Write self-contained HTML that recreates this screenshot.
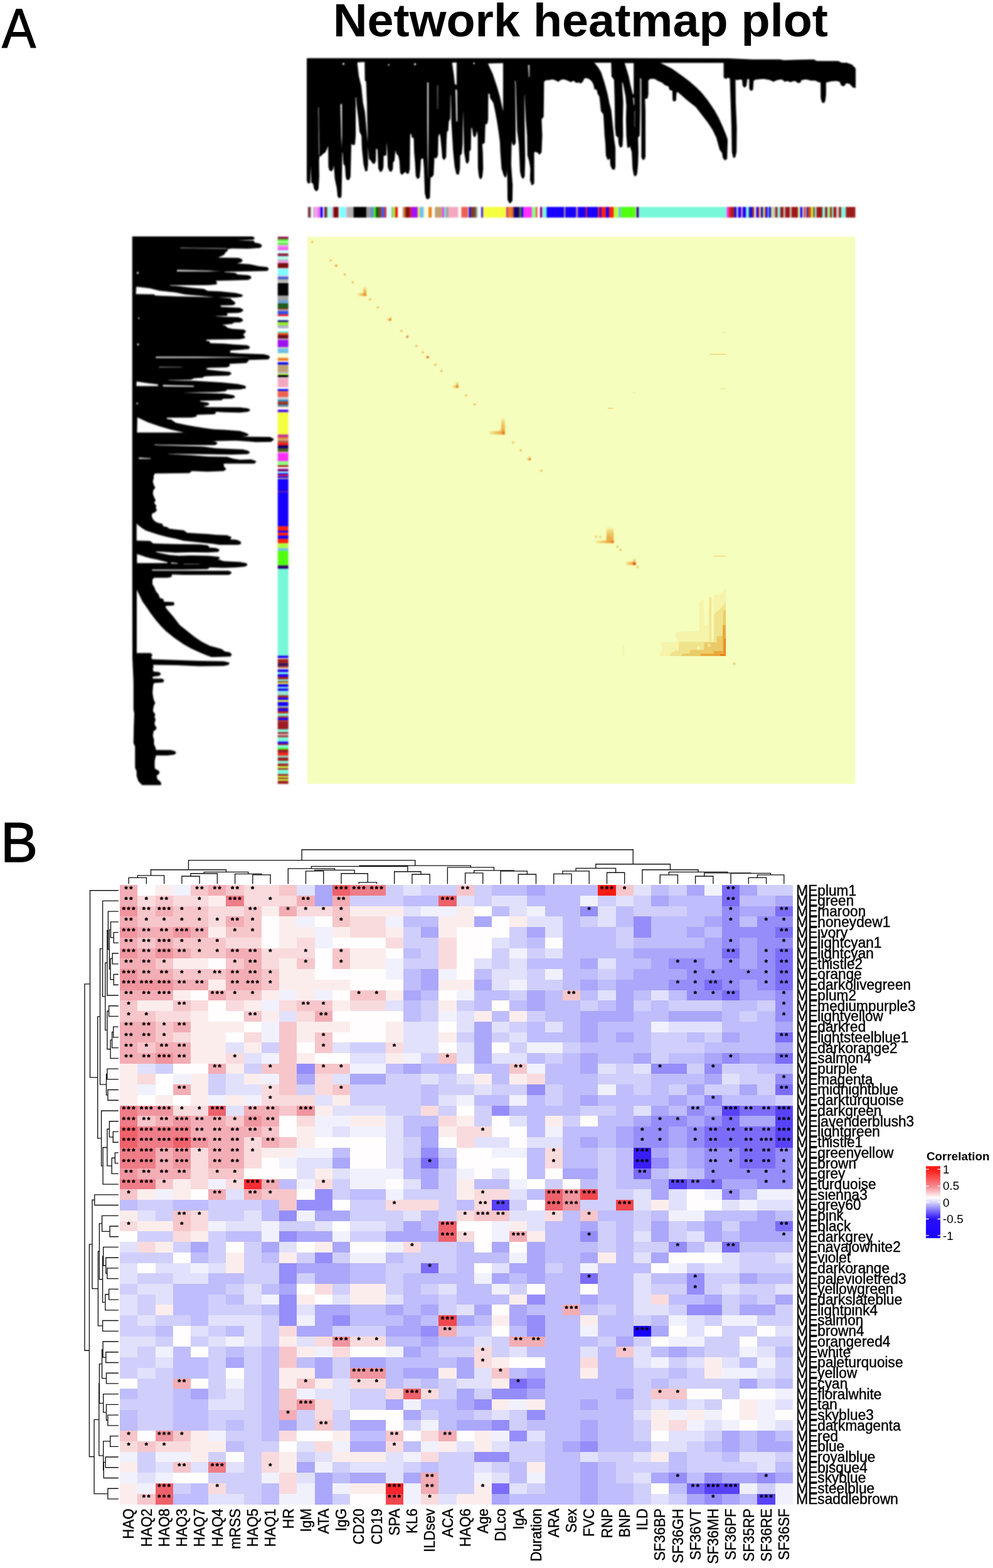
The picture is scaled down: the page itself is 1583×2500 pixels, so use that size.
<!DOCTYPE html>
<html lang="en"><head><meta charset="utf-8"><title>Network heatmap plot</title>
<style>
html,body{margin:0;padding:0;background:#fff;}
body{width:1583px;height:2500px;overflow:hidden;font-family:'Liberation Sans', sans-serif;}
svg{display:block;}
#fig{width:1583px;height:2500px;}
.soft{filter:blur(0.8px);}
</style></head><body>
<div id="fig">
<svg width="1583" height="2500" viewBox="0 0 1583 2500">
<rect width="1583" height="2500" fill="#fff"/>
<g id="panelA">
<text transform="translate(2.9 75.6) scale(0.92 1)" font-size="88.5" stroke="#000" stroke-width="1.2" stroke-linejoin="round" font-family="'Liberation Sans', sans-serif">A</text>
<text x="531" y="57.6" font-size="73.5" font-weight="bold" textLength="789" lengthAdjust="spacingAndGlyphs" font-family="'Liberation Sans', sans-serif">Network heatmap plot</text>
<g class="soft">
<g id="dendTop"><path d="M489.8,93.5 L489.8,288.3 L491.8,292.2 L493.8,290.9 L495.1,259.4 L496.4,259.4 L497.0,290.9 L499.7,292.2 L501.6,301.4 L504.3,304.3 L506.9,301.4 L508.2,281.7 L507.8,255.5 L509.1,247.0 L511.5,248.3 L514.1,245.0 L518.0,242.4 L520.7,237.1 L522.0,232.5 L523.9,233.2 L524.3,266.0 L525.9,271.2 L528.5,272.3 L530.5,268.6 L531.4,263.4 L533.1,263.4 L534.4,284.3 L537.7,300.1 L539.0,313.2 L541.4,315.2 L543.6,313.2 L544.3,281.7 L544.9,242.4 L547.1,242.4 L548.2,260.7 L550.8,264.7 L551.9,281.7 L553.4,286.3 L556.1,286.3 L558.0,281.7 L558.7,255.5 L559.3,229.3 L560.7,228.0 L562.6,230.6 L565.2,229.9 L566.3,216.1 L566.2,154.5 L568.5,153.2 L569.2,166.3 L571.8,187.3 L573.8,209.6 L577.0,216.1 L577.7,235.8 L580.3,262.0 L583.0,272.5 L584.9,271.9 L586.0,262.0 L585.7,229.3 L586.9,227.3 L588.9,252.9 L591.5,255.5 L594.1,259.4 L596.5,260.7 L598.3,256.8 L598.7,235.8 L600.0,235.8 L602.6,238.4 L603.9,268.6 L606.6,273.6 L609.2,271.2 L610.5,266.0 L610.9,246.3 L612.5,247.6 L615.1,247.0 L615.7,229.3 L616.4,224.0 L617.7,229.3 L619.0,266.0 L621.0,271.9 L623.6,273.2 L625.6,268.6 L625.8,259.4 L628.2,255.5 L629.5,239.8 L630.8,238.4 L632.8,245.0 L635.4,247.6 L637.4,255.5 L638.7,275.2 L640.7,277.8 L643.9,275.2 L646.6,272.5 L649.2,276.5 L651.1,275.8 L652.5,268.6 L653.1,216.1 L653.8,212.2 L656.4,212.9 L657.0,218.1 L660.3,220.1 L661.0,242.4 L662.3,258.1 L663.6,280.4 L665.6,284.3 L668.2,283.0 L669.5,268.6 L670.2,254.2 L672.1,251.6 L675.4,252.2 L676.7,268.6 L678.0,308.0 L680.0,315.8 L681.7,317.1 L684.6,315.1 L685.6,280.7 L687.6,282.2 L690.5,278.7 L691.5,257.1 L692.1,241.3 L693.5,251.2 L695.4,251.6 L697.4,247.2 L698.0,217.7 L700.0,210.9 L702.6,216.1 L704.6,235.8 L705.9,251.6 L708.1,254.2 L710.5,250.2 L711.1,222.7 L711.8,209.6 L713.8,208.3 L714.7,193.9 L717.0,188.6 L717.7,150.6 L719.7,150.6 L720.3,193.9 L723.0,239.8 L725.6,266.0 L728.2,277.1 L730.8,277.8 L732.5,268.6 L732.8,247.6 L735.4,245.0 L736.7,229.3 L737.4,176.8 L739.1,176.8 L740.7,242.4 L743.3,258.1 L745.2,260.1 L747.2,255.5 L747.5,241.1 L749.8,238.4 L750.5,203.0 L753.1,203.0 L755.1,216.1 L756.7,218.1 L758.4,214.8 L759.0,209.6 L761.0,208.3 L762.3,216.1 L762.7,268.6 L764.3,281.7 L766.2,285.0 L768.2,281.7 L769.5,268.6 L768.9,242.4 L767.9,228.0 L770.8,228.6 L772.1,226.6 L772.8,203.0 L773.4,196.5 L776.1,197.1 L777.4,189.9 L777.6,148.0 L781.3,149.3 L782.0,155.8 L787.2,163.7 L790.5,179.4 L793.1,193.9 L795.7,210.9 L797.7,226.6 L798.4,242.4 L800.3,268.6 L803.6,279.1 L805.6,282.4 L806.9,279.1 L807.8,255.5 L809.5,281.7 L809.9,318.4 L812.8,323.7 L816.1,319.8 L816.5,294.8 L815.4,281.7 L814.1,262.0 L814.8,229.3 L816.7,216.1 L817.4,229.3 L819.3,231.2 L821.3,228.0 L821.3,203.0 L820.7,137.5 L820.0,128.3 L822.6,128.3 L823.3,137.5 L824.6,189.9 L825.2,208.3 L827.9,229.3 L829.8,273.9 L831.8,281.7 L833.8,284.3 L835.7,281.1 L836.4,255.5 L835.7,203.0 L835.1,150.6 L837.0,150.6 L839.0,189.9 L841.0,216.1 L841.6,247.6 L844.3,256.8 L846.2,268.6 L845.6,287.0 L848.2,294.8 L850.8,292.2 L850.8,242.4 L852.1,241.1 L857.4,242.4 L860.0,245.7 L862.6,242.4 L863.7,216.1 L862.6,189.9 L865.9,186.0 L866.6,129.6 L870.5,127.0 L875.7,127.0 L880.0,125.7 L885.2,127.0 L889.8,129.6 L894.4,126.3 L899.7,125.7 L906.2,128.3 L910.2,130.2 L914.1,127.6 L919.3,131.6 L922.0,130.2 L925.9,132.2 L928.5,129.6 L931.1,124.3 L935.1,123.7 L940.3,125.7 L944.3,129.6 L946.9,134.8 L948.2,141.4 L952.1,142.7 L953.4,149.3 L956.1,153.2 L957.4,163.7 L958.7,176.8 L962.6,182.0 L963.9,203.0 L964.6,216.1 L965.9,229.3 L966.6,247.6 L969.2,254.2 L971.8,251.6 L973.1,252.9 L973.8,263.4 L976.4,269.3 L979.0,269.9 L980.3,266.0 L980.3,235.8 L978.4,222.7 L977.0,208.3 L975.1,189.9 L973.8,176.8 L970.5,163.7 L967.9,150.6 L965.2,140.1 L962.6,130.9 L960.0,123.0 L957.4,115.2 L953.4,108.6 L948.2,102.0 L944.5,99.2 L975.1,99.2 L975.7,121.7 L979.7,127.0 L980.7,163.7 L981.2,203.0 L982.6,216.1 L986.2,218.8 L986.9,229.3 L988.9,234.5 L991.5,233.2 L992.5,216.1 L992.1,189.9 L992.8,163.7 L991.5,144.0 L990.8,130.9 L993.4,130.9 L995.4,140.1 L998.0,153.2 L999.3,168.9 L998.7,189.9 L999.3,216.1 L1000.7,234.5 L1003.3,234.5 L1003.9,224.0 L1005.9,235.8 L1007.9,242.4 L1009.2,268.6 L1011.1,279.1 L1013.1,280.4 L1015.1,276.5 L1016.4,260.7 L1017.0,242.4 L1016.4,218.8 L1019.0,216.1 L1019.7,176.8 L1019.7,124.3 L1023.0,124.3 L1023.2,176.8 L1023.2,250.2 L1024.9,254.2 L1026.9,253.5 L1028.2,250.2 L1028.2,176.8 L1027.5,156.5 L1031.5,156.5 L1032.8,150.6 L1032.8,128.3 L1036.1,125.0 L1043.9,125.0 L1049.2,128.3 L1055.7,130.9 L1060.0,134.8 L1066.6,137.5 L1067.9,142.7 L1072.5,144.0 L1073.1,159.8 L1075.1,161.1 L1077.0,159.8 L1077.7,148.0 L1079.7,145.3 L1086.2,150.6 L1096.7,159.8 L1109.8,170.2 L1119.0,182.0 L1128.2,193.9 L1136.1,205.7 L1142.6,218.8 L1147.9,238.4 L1151.8,243.7 L1153.1,251.6 L1155.7,254.8 L1158.4,252.9 L1159.3,222.7 L1157.0,216.1 L1151.8,203.0 L1145.2,188.6 L1138.7,176.8 L1128.2,161.1 L1117.7,148.0 L1109.8,140.1 L1099.3,130.9 L1088.9,123.0 L1079.7,116.5 L1070.5,109.9 L1060.0,104.7 L1053.4,101.4 L1048.9,99.2 L1154.4,99.4 L1154.4,123.0 L1157.0,125.0 L1159.7,123.0 L1163.6,124.3 L1164.3,125.7 L1165.6,163.7 L1166.9,203.0 L1167.5,242.4 L1169.5,250.9 L1171.5,250.2 L1173.4,242.4 L1173.8,203.0 L1172.1,163.7 L1171.7,125.7 L1175.4,127.0 L1179.3,125.7 L1183.9,127.0 L1184.6,136.1 L1186.6,138.8 L1189.2,136.8 L1190.5,125.7 L1195.1,125.0 L1195.3,141.4 L1197.0,144.0 L1199.7,142.7 L1200.6,128.3 L1204.3,126.3 L1217.4,125.0 L1227.9,127.0 L1233.1,129.6 L1238.4,127.0 L1246.2,125.7 L1251.5,129.6 L1255.4,128.3 L1260.0,130.2 L1263.0,128.9 L1268.2,128.3 L1272.1,131.6 L1275.4,130.9 L1277.4,127.0 L1285.2,125.7 L1291.8,127.6 L1299.7,127.6 L1304.9,130.2 L1308.9,130.9 L1309.1,155.8 L1310.8,162.4 L1312.8,163.7 L1314.8,161.1 L1316.1,150.6 L1316.1,130.9 L1324.6,128.9 L1333.8,128.3 L1339.0,129.6 L1341.6,135.5 L1344.3,136.8 L1346.9,134.8 L1348.2,131.6 L1354.8,132.9 L1360.0,138.8 L1363.3,139.4 L1363.3,109.3 L1357.4,103.4 L1349.5,100.7 L1341.6,100.7 L1336.4,98.1 L1302.3,98.1 L1297.0,95.5 L1270.8,96.1 L1249.8,96.8 L1243.3,95.5 L1200.0,95.5 L1160.7,93.7Z" fill="#000" stroke="#000" stroke-width="1.6" stroke-linejoin="round"/><path d="M569.2,99.2 L581.6,98.5 L582.0,128.3 L583.9,130.2 L585.2,163.7 L586.5,226.6 L585.6,224.0 L583.6,203.0 L581.6,179.4 L578.4,163.7 L575.7,137.5 L571.8,121.7 L569.8,104.7ZM507.0,171.6 L508.3,170.9 L509.4,247.0 L508.1,247.6ZM542.4,166.3 L545.3,165.0 L545.6,216.1 L544.8,241.1 L543.6,216.1ZM720.3,99.7 L728.2,99.2 L728.2,135.5 L724.9,134.8 L723.0,117.8ZM725.8,142.7 L728.9,142.7 L729.4,193.9 L727.1,193.9ZM777.4,101.0 L802.3,100.3 L802.3,176.8 L804.3,182.7 L801.0,174.2 L797.0,155.8 L791.8,137.5 L785.2,117.8ZM841.6,103.4 L844.3,103.4 L844.3,123.0 L842.7,123.0ZM995.4,100.3 L1010.5,100.3 L1010.5,150.6 L1008.5,150.6 L1007.9,148.0 L1004.6,134.8 L1002.0,121.7 L998.0,108.6ZM1008.8,155.8 L1011.1,155.8 L1011.5,168.9 L1009.8,166.3ZM1011.1,176.8 L1012.2,176.8 L1012.2,203.0 L1011.3,203.0ZM680.9,131.0 L683.4,131.0 L683.3,200.0 L683.0,250.0 L682.6,284.0 L682.0,284.0 L681.3,250.0 L680.9,200.0ZM697.0,136.0 L698.3,136.0 L698.2,174.0 L697.2,174.0Z" fill="#fff" stroke="#000" stroke-width="0.6" stroke-linejoin="round"/><circle cx="547.5" cy="101.8" r="1.6" fill="#fff"/><circle cx="661.6" cy="102.3" r="1.6" fill="#fff"/><circle cx="619.7" cy="103.4" r="1.2" fill="#fff"/><circle cx="755.7" cy="101.0" r="1.3" fill="#fff"/></g>
<g id="dendLeft" transform="matrix(0 1 0.975 0 120.34 -112.40)"><path d="M489.8,93.5 L489.8,288.3 L491.8,292.2 L493.8,290.9 L495.1,259.4 L496.4,259.4 L497.0,290.9 L499.7,292.2 L501.6,301.4 L504.3,304.3 L506.9,301.4 L508.2,281.7 L507.8,255.5 L509.1,247.0 L511.5,248.3 L514.1,245.0 L518.0,242.4 L520.7,237.1 L522.0,232.5 L523.9,233.2 L524.3,266.0 L525.9,271.2 L528.5,272.3 L530.5,268.6 L531.4,263.4 L533.1,263.4 L534.4,284.3 L537.7,300.1 L539.0,313.2 L541.4,315.2 L543.6,313.2 L544.3,281.7 L544.9,242.4 L547.1,242.4 L548.2,260.7 L550.8,264.7 L551.9,281.7 L553.4,286.3 L556.1,286.3 L558.0,281.7 L558.7,255.5 L559.3,229.3 L560.7,228.0 L562.6,230.6 L565.2,229.9 L566.3,216.1 L566.2,154.5 L568.5,153.2 L569.2,166.3 L571.8,187.3 L573.8,209.6 L577.0,216.1 L577.7,235.8 L580.3,262.0 L583.0,272.5 L584.9,271.9 L586.0,262.0 L585.7,229.3 L586.9,227.3 L588.9,252.9 L591.5,255.5 L594.1,259.4 L596.5,260.7 L598.3,256.8 L598.7,235.8 L600.0,235.8 L602.6,238.4 L603.9,268.6 L606.6,273.6 L609.2,271.2 L610.5,266.0 L610.9,246.3 L612.5,247.6 L615.1,247.0 L615.7,229.3 L616.4,224.0 L617.7,229.3 L619.0,266.0 L621.0,271.9 L623.6,273.2 L625.6,268.6 L625.8,259.4 L628.2,255.5 L629.5,239.8 L630.8,238.4 L632.8,245.0 L635.4,247.6 L637.4,255.5 L638.7,275.2 L640.7,277.8 L643.9,275.2 L646.6,272.5 L649.2,276.5 L651.1,275.8 L652.5,268.6 L653.1,216.1 L653.8,212.2 L656.4,212.9 L657.0,218.1 L660.3,220.1 L661.0,242.4 L662.3,258.1 L663.6,280.4 L665.6,284.3 L668.2,283.0 L669.5,268.6 L670.2,254.2 L672.1,251.6 L675.4,252.2 L676.7,268.6 L678.0,308.0 L680.0,315.8 L681.7,317.1 L684.6,315.1 L685.6,280.7 L687.6,282.2 L690.5,278.7 L691.5,257.1 L692.1,241.3 L693.5,251.2 L695.4,251.6 L697.4,247.2 L698.0,217.7 L700.0,210.9 L702.6,216.1 L704.6,235.8 L705.9,251.6 L708.1,254.2 L710.5,250.2 L711.1,222.7 L711.8,209.6 L713.8,208.3 L714.7,193.9 L717.0,188.6 L717.7,150.6 L719.7,150.6 L720.3,193.9 L723.0,239.8 L725.6,266.0 L728.2,277.1 L730.8,277.8 L732.5,268.6 L732.8,247.6 L735.4,245.0 L736.7,229.3 L737.4,176.8 L739.1,176.8 L740.7,242.4 L743.3,258.1 L745.2,260.1 L747.2,255.5 L747.5,241.1 L749.8,238.4 L750.5,203.0 L753.1,203.0 L755.1,216.1 L756.7,218.1 L758.4,214.8 L759.0,209.6 L761.0,208.3 L762.3,216.1 L762.7,268.6 L764.3,281.7 L766.2,285.0 L768.2,281.7 L769.5,268.6 L768.9,242.4 L767.9,228.0 L770.8,228.6 L772.1,226.6 L772.8,203.0 L773.4,196.5 L776.1,197.1 L777.4,189.9 L777.6,148.0 L781.3,149.3 L782.0,155.8 L787.2,163.7 L790.5,179.4 L793.1,193.9 L795.7,210.9 L797.7,226.6 L798.4,242.4 L800.3,268.6 L803.6,279.1 L805.6,282.4 L806.9,279.1 L807.8,255.5 L809.5,281.7 L809.9,318.4 L812.8,323.7 L816.1,319.8 L816.5,294.8 L815.4,281.7 L814.1,262.0 L814.8,229.3 L816.7,216.1 L817.4,229.3 L819.3,231.2 L821.3,228.0 L821.3,203.0 L820.7,137.5 L820.0,128.3 L822.6,128.3 L823.3,137.5 L824.6,189.9 L825.2,208.3 L827.9,229.3 L829.8,273.9 L831.8,281.7 L833.8,284.3 L835.7,281.1 L836.4,255.5 L835.7,203.0 L835.1,150.6 L837.0,150.6 L839.0,189.9 L841.0,216.1 L841.6,247.6 L844.3,256.8 L846.2,268.6 L845.6,287.0 L848.2,294.8 L850.8,292.2 L850.8,242.4 L852.1,241.1 L857.4,242.4 L860.0,245.7 L862.6,242.4 L863.7,216.1 L862.6,189.9 L865.9,186.0 L866.6,129.6 L870.5,127.0 L875.7,127.0 L880.0,125.7 L885.2,127.0 L889.8,129.6 L894.4,126.3 L899.7,125.7 L906.2,128.3 L910.2,130.2 L914.1,127.6 L919.3,131.6 L922.0,130.2 L925.9,132.2 L928.5,129.6 L931.1,124.3 L935.1,123.7 L940.3,125.7 L944.3,129.6 L946.9,134.8 L948.2,141.4 L952.1,142.7 L953.4,149.3 L956.1,153.2 L957.4,163.7 L958.7,176.8 L962.6,182.0 L963.9,203.0 L964.6,216.1 L965.9,229.3 L966.6,247.6 L969.2,254.2 L971.8,251.6 L973.1,252.9 L973.8,263.4 L976.4,269.3 L979.0,269.9 L980.3,266.0 L980.3,235.8 L978.4,222.7 L977.0,208.3 L975.1,189.9 L973.8,176.8 L970.5,163.7 L967.9,150.6 L965.2,140.1 L962.6,130.9 L960.0,123.0 L957.4,115.2 L953.4,108.6 L948.2,102.0 L944.5,99.2 L975.1,99.2 L975.7,121.7 L979.7,127.0 L980.7,163.7 L981.2,203.0 L982.6,216.1 L986.2,218.8 L986.9,229.3 L988.9,234.5 L991.5,233.2 L992.5,216.1 L992.1,189.9 L992.8,163.7 L991.5,144.0 L990.8,130.9 L993.4,130.9 L995.4,140.1 L998.0,153.2 L999.3,168.9 L998.7,189.9 L999.3,216.1 L1000.7,234.5 L1003.3,234.5 L1003.9,224.0 L1005.9,235.8 L1007.9,242.4 L1009.2,268.6 L1011.1,279.1 L1013.1,280.4 L1015.1,276.5 L1016.4,260.7 L1017.0,242.4 L1016.4,218.8 L1019.0,216.1 L1019.7,176.8 L1019.7,124.3 L1023.0,124.3 L1023.2,176.8 L1023.2,250.2 L1024.9,254.2 L1026.9,253.5 L1028.2,250.2 L1028.2,176.8 L1027.5,156.5 L1031.5,156.5 L1032.8,150.6 L1032.8,128.3 L1036.1,125.0 L1043.9,125.0 L1049.2,128.3 L1055.7,130.9 L1060.0,134.8 L1066.6,137.5 L1067.9,142.7 L1072.5,144.0 L1073.1,159.8 L1075.1,161.1 L1077.0,159.8 L1077.7,148.0 L1079.7,145.3 L1086.2,150.6 L1096.7,159.8 L1109.8,170.2 L1119.0,182.0 L1128.2,193.9 L1136.1,205.7 L1142.6,218.8 L1147.9,238.4 L1151.8,243.7 L1153.1,251.6 L1155.7,254.8 L1158.4,252.9 L1159.3,222.7 L1157.0,216.1 L1151.8,203.0 L1145.2,188.6 L1138.7,176.8 L1128.2,161.1 L1117.7,148.0 L1109.8,140.1 L1099.3,130.9 L1088.9,123.0 L1079.7,116.5 L1070.5,109.9 L1060.0,104.7 L1053.4,101.4 L1048.9,99.2 L1154.4,99.4 L1154.4,123.0 L1157.0,125.0 L1159.7,123.0 L1163.6,124.3 L1164.3,125.7 L1165.6,163.7 L1166.9,203.0 L1167.5,242.4 L1169.5,250.9 L1171.5,250.2 L1173.4,242.4 L1173.8,203.0 L1172.1,163.7 L1171.7,125.7 L1175.4,127.0 L1179.3,125.7 L1183.9,127.0 L1184.6,136.1 L1186.6,138.8 L1189.2,136.8 L1190.5,125.7 L1195.1,125.0 L1195.3,141.4 L1197.0,144.0 L1199.7,142.7 L1200.6,128.3 L1204.3,126.3 L1217.4,125.0 L1227.9,127.0 L1233.1,129.6 L1238.4,127.0 L1246.2,125.7 L1251.5,129.6 L1255.4,128.3 L1260.0,130.2 L1263.0,128.9 L1268.2,128.3 L1272.1,131.6 L1275.4,130.9 L1277.4,127.0 L1285.2,125.7 L1291.8,127.6 L1299.7,127.6 L1304.9,130.2 L1308.9,130.9 L1309.1,155.8 L1310.8,162.4 L1312.8,163.7 L1314.8,161.1 L1316.1,150.6 L1316.1,130.9 L1324.6,128.9 L1333.8,128.3 L1339.0,129.6 L1341.6,135.5 L1344.3,136.8 L1346.9,134.8 L1348.2,131.6 L1354.8,132.9 L1360.0,138.8 L1363.3,139.4 L1363.3,109.3 L1357.4,103.4 L1349.5,100.7 L1341.6,100.7 L1336.4,98.1 L1302.3,98.1 L1297.0,95.5 L1270.8,96.1 L1249.8,96.8 L1243.3,95.5 L1200.0,95.5 L1160.7,93.7Z" fill="#000" stroke="#000" stroke-width="1.6" stroke-linejoin="round"/><path d="M569.2,99.2 L581.6,98.5 L582.0,128.3 L583.9,130.2 L585.2,163.7 L586.5,226.6 L585.6,224.0 L583.6,203.0 L581.6,179.4 L578.4,163.7 L575.7,137.5 L571.8,121.7 L569.8,104.7ZM507.0,171.6 L508.3,170.9 L509.4,247.0 L508.1,247.6ZM542.4,166.3 L545.3,165.0 L545.6,216.1 L544.8,241.1 L543.6,216.1ZM720.3,99.7 L728.2,99.2 L728.2,135.5 L724.9,134.8 L723.0,117.8ZM725.8,142.7 L728.9,142.7 L729.4,193.9 L727.1,193.9ZM777.4,101.0 L802.3,100.3 L802.3,176.8 L804.3,182.7 L801.0,174.2 L797.0,155.8 L791.8,137.5 L785.2,117.8ZM841.6,103.4 L844.3,103.4 L844.3,123.0 L842.7,123.0ZM995.4,100.3 L1010.5,100.3 L1010.5,150.6 L1008.5,150.6 L1007.9,148.0 L1004.6,134.8 L1002.0,121.7 L998.0,108.6ZM1008.8,155.8 L1011.1,155.8 L1011.5,168.9 L1009.8,166.3ZM1011.1,176.8 L1012.2,176.8 L1012.2,203.0 L1011.3,203.0ZM680.9,131.0 L683.4,131.0 L683.3,200.0 L683.0,250.0 L682.6,284.0 L682.0,284.0 L681.3,250.0 L680.9,200.0ZM697.0,136.0 L698.3,136.0 L698.2,174.0 L697.2,174.0Z" fill="#fff" stroke="#000" stroke-width="0.6" stroke-linejoin="round"/><circle cx="547.5" cy="101.8" r="1.6" fill="#fff"/><circle cx="661.6" cy="102.3" r="1.6" fill="#fff"/><circle cx="619.7" cy="103.4" r="1.2" fill="#fff"/><circle cx="755.7" cy="101.0" r="1.3" fill="#fff"/></g>
<g id="cbarTop"><rect x="490.82" y="329.9" width="5.01" height="17" fill="#7d3c50"/><rect x="495.58" y="329.9" width="4.14" height="17" fill="#f0fff0"/><rect x="499.47" y="329.9" width="2.41" height="17" fill="#c8a0c8"/><rect x="501.64" y="329.9" width="5.30" height="17" fill="#f0a0f0"/><rect x="506.69" y="329.9" width="4.58" height="17" fill="#ee66ee"/><rect x="511.02" y="329.9" width="3.57" height="17" fill="#0000ff"/><rect x="516.79" y="329.9" width="3.86" height="17" fill="#8b1c3c"/><rect x="520.39" y="329.9" width="1.69" height="17" fill="#3a6a4a"/><rect x="521.83" y="329.9" width="7.46" height="17" fill="#b0fff0"/><rect x="529.05" y="329.9" width="2.85" height="17" fill="#e0b0e0"/><rect x="531.64" y="329.9" width="8.04" height="17" fill="#7a0c0c"/><rect x="541.31" y="329.9" width="11.07" height="17" fill="#80ffff"/><rect x="552.13" y="329.9" width="2.41" height="17" fill="#f0a0c0"/><rect x="554.29" y="329.9" width="9.63" height="17" fill="#b0b0b0"/><rect x="563.67" y="329.9" width="20.45" height="17" fill="#000000"/><rect x="583.87" y="329.9" width="7.46" height="17" fill="#999999"/><rect x="591.08" y="329.9" width="5.30" height="17" fill="#6090d8"/><rect x="596.13" y="329.9" width="3.14" height="17" fill="#40ff00"/><rect x="599.01" y="329.9" width="5.30" height="17" fill="#1a5c1a"/><rect x="604.06" y="329.9" width="4.58" height="17" fill="#8b3a20"/><rect x="608.39" y="329.9" width="5.30" height="17" fill="#3a5af0"/><rect x="613.44" y="329.9" width="2.70" height="17" fill="#ff1010"/><rect x="615.89" y="329.9" width="8.62" height="17" fill="#e0ffff"/><rect x="624.26" y="329.9" width="2.41" height="17" fill="#a0a0a0"/><rect x="626.42" y="329.9" width="3.86" height="17" fill="#90ff20"/><rect x="630.03" y="329.9" width="4.29" height="17" fill="#ff1010"/><rect x="634.07" y="329.9" width="1.98" height="17" fill="#e0ffff"/><rect x="641.57" y="329.9" width="1.69" height="17" fill="#a0c0e0"/><rect x="643.01" y="329.9" width="3.42" height="17" fill="#f07010"/><rect x="646.19" y="329.9" width="7.17" height="17" fill="#701818"/><rect x="653.11" y="329.9" width="2.85" height="17" fill="#ff1010"/><rect x="655.71" y="329.9" width="10.35" height="17" fill="#a010ff"/><rect x="665.80" y="329.9" width="3.42" height="17" fill="#f0f040"/><rect x="668.98" y="329.9" width="6.74" height="17" fill="#70c0f0"/><rect x="675.47" y="329.9" width="5.30" height="17" fill="#f8ffd8"/><rect x="683.12" y="329.9" width="5.15" height="17" fill="#f08010"/><rect x="693.21" y="329.9" width="7.04" height="17" fill="#c0a070"/><rect x="700.00" y="329.9" width="4.58" height="17" fill="#c0a070"/><rect x="704.33" y="329.9" width="0.97" height="17" fill="#90c060"/><rect x="705.05" y="329.9" width="3.14" height="17" fill="#ff30ff"/><rect x="707.93" y="329.9" width="3.14" height="17" fill="#70f0e0"/><rect x="710.82" y="329.9" width="4.58" height="17" fill="#b0a0a0"/><rect x="715.15" y="329.9" width="15.40" height="17" fill="#f4a8c0"/><rect x="735.34" y="329.9" width="11.07" height="17" fill="#f06050"/><rect x="746.16" y="329.9" width="1.69" height="17" fill="#e0c0e0"/><rect x="747.61" y="329.9" width="3.14" height="17" fill="#0000ff"/><rect x="750.49" y="329.9" width="7.46" height="17" fill="#8b3a10"/><rect x="757.70" y="329.9" width="2.41" height="17" fill="#3080c0"/><rect x="759.87" y="329.9" width="2.70" height="17" fill="#f0d0a0"/><rect x="762.32" y="329.9" width="5.01" height="17" fill="#f0ffff"/><rect x="767.08" y="329.9" width="3.14" height="17" fill="#4010f0"/><rect x="769.97" y="329.9" width="37.32" height="17" fill="#f4ff40"/><rect x="807.04" y="329.9" width="2.85" height="17" fill="#c030a0"/><rect x="809.64" y="329.9" width="6.02" height="17" fill="#f08020"/><rect x="815.41" y="329.9" width="3.86" height="17" fill="#d06030"/><rect x="819.01" y="329.9" width="8.91" height="17" fill="#100070"/><rect x="827.67" y="329.9" width="3.86" height="17" fill="#607020"/><rect x="831.28" y="329.9" width="3.14" height="17" fill="#0000ff"/><rect x="834.16" y="329.9" width="13.95" height="17" fill="#ff30ff"/><rect x="847.86" y="329.9" width="6.45" height="17" fill="#90ff80"/><rect x="854.07" y="329.9" width="2.70" height="17" fill="#f05050"/><rect x="860.85" y="329.9" width="3.86" height="17" fill="#800080"/><rect x="864.45" y="329.9" width="1.69" height="17" fill="#d0f0f0"/><rect x="865.90" y="329.9" width="5.73" height="17" fill="#70f8d8"/><rect x="871.38" y="329.9" width="27.95" height="17" fill="#1800ff"/><rect x="899.08" y="329.9" width="2.41" height="17" fill="#b0a080"/><rect x="901.24" y="329.9" width="17.56" height="17" fill="#1800ff"/><rect x="918.55" y="329.9" width="1.70" height="17" fill="#d0a0b0"/><rect x="920.00" y="329.9" width="1.40" height="17" fill="#e08080"/><rect x="921.15" y="329.9" width="12.80" height="17" fill="#1800ff"/><rect x="933.70" y="329.9" width="2.41" height="17" fill="#ff2010"/><rect x="935.87" y="329.9" width="17.56" height="17" fill="#1800ff"/><rect x="953.18" y="329.9" width="2.85" height="17" fill="#ff2010"/><rect x="955.78" y="329.9" width="3.14" height="17" fill="#1800ff"/><rect x="958.66" y="329.9" width="7.46" height="17" fill="#ff2010"/><rect x="965.87" y="329.9" width="5.15" height="17" fill="#1800ff"/><rect x="970.78" y="329.9" width="7.90" height="17" fill="#ff2010"/><rect x="978.42" y="329.9" width="7.90" height="17" fill="#b0ff40"/><rect x="986.07" y="329.9" width="4.14" height="17" fill="#70c0f0"/><rect x="989.97" y="329.9" width="23.33" height="17" fill="#50ff10"/><rect x="1014.49" y="329.9" width="4.14" height="17" fill="#400080"/><rect x="1018.38" y="329.9" width="140.33" height="17" fill="#78f8d8"/><rect x="1158.47" y="329.9" width="3.71" height="17" fill="#ff30ff"/><rect x="1161.93" y="329.9" width="2.85" height="17" fill="#ff1010"/><rect x="1164.52" y="329.9" width="6.74" height="17" fill="#a02020"/><rect x="1171.02" y="329.9" width="3.57" height="17" fill="#1800ff"/><rect x="1174.33" y="329.9" width="2.70" height="17" fill="#d0d0d0"/><rect x="1176.79" y="329.9" width="5.01" height="17" fill="#1800ff"/><rect x="1181.55" y="329.9" width="2.70" height="17" fill="#f0a0b0"/><rect x="1184.00" y="329.9" width="5.59" height="17" fill="#1800ff"/><rect x="1189.34" y="329.9" width="4.58" height="17" fill="#80f8e0"/><rect x="1193.66" y="329.9" width="2.13" height="17" fill="#202060"/><rect x="1195.54" y="329.9" width="4.14" height="17" fill="#1800ff"/><rect x="1199.43" y="329.9" width="2.85" height="17" fill="#a02020"/><rect x="1202.03" y="329.9" width="3.86" height="17" fill="#e0e0c0"/><rect x="1205.64" y="329.9" width="3.86" height="17" fill="#1800ff"/><rect x="1209.24" y="329.9" width="1.69" height="17" fill="#ff3010"/><rect x="1210.69" y="329.9" width="2.41" height="17" fill="#f0f040"/><rect x="1212.85" y="329.9" width="3.86" height="17" fill="#1800ff"/><rect x="1216.46" y="329.9" width="3.14" height="17" fill="#b0ff40"/><rect x="1219.34" y="329.9" width="1.69" height="17" fill="#ff1010"/><rect x="1220.78" y="329.9" width="3.14" height="17" fill="#1800ff"/><rect x="1223.67" y="329.9" width="2.41" height="17" fill="#90c0f0"/><rect x="1225.83" y="329.9" width="3.57" height="17" fill="#1800ff"/><rect x="1229.15" y="329.9" width="3.42" height="17" fill="#c0f040"/><rect x="1232.33" y="329.9" width="3.86" height="17" fill="#c0c0d8"/><rect x="1235.93" y="329.9" width="3.86" height="17" fill="#a02020"/><rect x="1239.54" y="329.9" width="4.58" height="17" fill="#80f8e0"/><rect x="1243.87" y="329.9" width="5.30" height="17" fill="#a01818"/><rect x="1248.92" y="329.9" width="3.14" height="17" fill="#c0c0c0"/><rect x="1251.80" y="329.9" width="7.46" height="17" fill="#a01818"/><rect x="1259.01" y="329.9" width="3.14" height="17" fill="#c0c0c0"/><rect x="1261.90" y="329.9" width="10.35" height="17" fill="#a01818"/><rect x="1272.00" y="329.9" width="3.86" height="17" fill="#d0ffa0"/><rect x="1275.60" y="329.9" width="3.86" height="17" fill="#1800ff"/><rect x="1279.21" y="329.9" width="2.41" height="17" fill="#e0e0e0"/><rect x="1281.37" y="329.9" width="3.14" height="17" fill="#c04040"/><rect x="1284.26" y="329.9" width="1.98" height="17" fill="#f0a0b0"/><rect x="1285.99" y="329.9" width="2.85" height="17" fill="#202080"/><rect x="1288.59" y="329.9" width="4.58" height="17" fill="#f04010"/><rect x="1292.91" y="329.9" width="3.86" height="17" fill="#b0ff40"/><rect x="1296.52" y="329.9" width="2.41" height="17" fill="#a01818"/><rect x="1298.68" y="329.9" width="3.14" height="17" fill="#80f8e0"/><rect x="1301.57" y="329.9" width="9.63" height="17" fill="#a01818"/><rect x="1310.95" y="329.9" width="4.58" height="17" fill="#80f8e0"/><rect x="1315.27" y="329.9" width="3.86" height="17" fill="#a01818"/><rect x="1318.88" y="329.9" width="2.41" height="17" fill="#80f8e0"/><rect x="1321.04" y="329.9" width="2.41" height="17" fill="#b0ff40"/><rect x="1323.21" y="329.9" width="3.14" height="17" fill="#a01818"/><rect x="1326.09" y="329.9" width="2.85" height="17" fill="#80f8e0"/><rect x="1328.69" y="329.9" width="4.87" height="17" fill="#a01818"/><rect x="1333.31" y="329.9" width="4.29" height="17" fill="#d0d0d0"/><rect x="1337.35" y="329.9" width="3.71" height="17" fill="#a01818"/><rect x="1340.81" y="329.9" width="7.90" height="17" fill="#80f8e0"/><rect x="1348.45" y="329.9" width="15.10" height="17" fill="#9b1c1c"/></g>
<rect x="442.7" y="377.29" width="17" height="4.36" fill="#8b1c4c"/><rect x="442.7" y="381.40" width="17" height="3.33" fill="#40ff20"/><rect x="442.7" y="386.64" width="17" height="3.43" fill="#40ff20"/><rect x="442.7" y="389.81" width="17" height="4.27" fill="#f0a0f0"/><rect x="442.7" y="393.83" width="17" height="5.39" fill="#ee66ee"/><rect x="442.7" y="398.97" width="17" height="5.39" fill="#d0ffff"/><rect x="442.7" y="404.11" width="17" height="4.64" fill="#8b1c3c"/><rect x="442.7" y="408.50" width="17" height="5.67" fill="#b0fff0"/><rect x="442.7" y="413.93" width="17" height="2.12" fill="#c0b0b0"/><rect x="442.7" y="415.79" width="17" height="3.80" fill="#f0a0f0"/><rect x="442.7" y="419.35" width="17" height="8.10" fill="#7a0c0c"/><rect x="442.7" y="428.41" width="17" height="11.46" fill="#80ffff"/><rect x="442.7" y="439.63" width="17" height="2.12" fill="#f0a0d0"/><rect x="442.7" y="441.50" width="17" height="3.52" fill="#3050e0"/><rect x="442.7" y="444.77" width="17" height="3.52" fill="#b0b0a0"/><rect x="442.7" y="448.04" width="17" height="3.52" fill="#c0c0c0"/><rect x="442.7" y="451.31" width="17" height="20.34" fill="#000000"/><rect x="442.7" y="471.40" width="17" height="7.73" fill="#a0a0a0"/><rect x="442.7" y="478.88" width="17" height="4.92" fill="#6aa0e0"/><rect x="442.7" y="483.55" width="17" height="8.19" fill="#1a5c1a"/><rect x="442.7" y="491.50" width="17" height="2.12" fill="#802020"/><rect x="442.7" y="493.36" width="17" height="2.59" fill="#c0b090"/><rect x="442.7" y="495.70" width="17" height="5.86" fill="#3050f0"/><rect x="442.7" y="501.31" width="17" height="3.05" fill="#ff1010"/><rect x="442.7" y="504.11" width="17" height="6.79" fill="#e0ffff"/><rect x="442.7" y="510.65" width="17" height="3.05" fill="#100080"/><rect x="442.7" y="513.46" width="17" height="5.39" fill="#90f020"/><rect x="442.7" y="518.60" width="17" height="4.92" fill="#b0b0c8"/><rect x="442.7" y="527.94" width="17" height="3.05" fill="#60f0e0"/><rect x="442.7" y="530.75" width="17" height="3.52" fill="#f05010"/><rect x="442.7" y="534.02" width="17" height="6.32" fill="#701020"/><rect x="442.7" y="540.09" width="17" height="1.65" fill="#d0f0c0"/><rect x="442.7" y="541.50" width="17" height="12.40" fill="#a010f0"/><rect x="442.7" y="553.64" width="17" height="2.12" fill="#d0f0c0"/><rect x="442.7" y="555.51" width="17" height="7.73" fill="#70c0e8"/><rect x="442.7" y="562.99" width="17" height="6.32" fill="#f8ffd0"/><rect x="442.7" y="570.47" width="17" height="4.92" fill="#f08020"/><rect x="442.7" y="577.48" width="17" height="4.18" fill="#0000ff"/><rect x="442.7" y="581.40" width="17" height="11.65" fill="#c0a070"/><rect x="442.7" y="592.80" width="17" height="3.05" fill="#c0b0d0"/><rect x="442.7" y="595.61" width="17" height="2.59" fill="#b0ff40"/><rect x="442.7" y="597.94" width="17" height="3.52" fill="#000000"/><rect x="442.7" y="602.62" width="17" height="14.74" fill="#f4a8c0"/><rect x="442.7" y="620.37" width="17" height="3.33" fill="#0000ff"/><rect x="442.7" y="623.46" width="17" height="2.77" fill="#f07040"/><rect x="442.7" y="625.98" width="17" height="7.26" fill="#f06050"/><rect x="442.7" y="632.99" width="17" height="4.46" fill="#d0d0d0"/><rect x="442.7" y="637.20" width="17" height="3.52" fill="#3080c0"/><rect x="442.7" y="640.47" width="17" height="4.92" fill="#a03010"/><rect x="442.7" y="645.14" width="17" height="3.05" fill="#3080c0"/><rect x="442.7" y="647.94" width="17" height="2.12" fill="#f0d0a0"/><rect x="442.7" y="653.08" width="17" height="4.46" fill="#5010f0"/><rect x="442.7" y="657.29" width="17" height="35.76" fill="#f4ff40"/><rect x="442.7" y="692.80" width="17" height="4.46" fill="#c030a0"/><rect x="442.7" y="697.01" width="17" height="3.52" fill="#f08020"/><rect x="442.7" y="700.28" width="17" height="2.59" fill="#c0b0a0"/><rect x="442.7" y="702.62" width="17" height="4.46" fill="#c05030"/><rect x="442.7" y="706.82" width="17" height="3.52" fill="#ff1010"/><rect x="442.7" y="710.09" width="17" height="4.92" fill="#100070"/><rect x="442.7" y="714.77" width="17" height="5.86" fill="#506020"/><rect x="442.7" y="721.78" width="17" height="13.80" fill="#ff30ff"/><rect x="442.7" y="735.33" width="17" height="6.79" fill="#90ff80"/><rect x="442.7" y="741.87" width="17" height="2.59" fill="#a01010"/><rect x="442.7" y="747.48" width="17" height="4.46" fill="#800080"/><rect x="442.7" y="751.68" width="17" height="3.05" fill="#80f8f0"/><rect x="442.7" y="754.49" width="17" height="2.59" fill="#1800ff"/><rect x="442.7" y="756.82" width="17" height="2.59" fill="#ff2010"/><rect x="442.7" y="759.16" width="17" height="2.87" fill="#1800ff"/><rect x="442.7" y="761.78" width="17" height="2.31" fill="#b0b0a0"/><rect x="442.7" y="763.83" width="17" height="19.41" fill="#1800ff"/><rect x="442.7" y="782.99" width="17" height="1.65" fill="#802060"/><rect x="442.7" y="784.39" width="17" height="55.02" fill="#1800ff"/><rect x="442.7" y="839.16" width="17" height="7.07" fill="#ff2010"/><rect x="442.7" y="845.98" width="17" height="3.52" fill="#1800ff"/><rect x="442.7" y="849.25" width="17" height="4.92" fill="#ff2010"/><rect x="442.7" y="853.93" width="17" height="5.39" fill="#1800ff"/><rect x="442.7" y="859.07" width="17" height="7.26" fill="#ff2010"/><rect x="442.7" y="866.07" width="17" height="8.19" fill="#b0ff40"/><rect x="442.7" y="874.02" width="17" height="4.46" fill="#70c0f0"/><rect x="442.7" y="878.22" width="17" height="23.61" fill="#50ff10"/><rect x="442.7" y="901.59" width="17" height="5.39" fill="#300070"/><rect x="442.7" y="906.73" width="17" height="138.94" fill="#78f8d8"/><rect x="442.7" y="1045.42" width="17" height="3.99" fill="#1800ff"/><rect x="442.7" y="1049.16" width="17" height="2.12" fill="#e0c0c0"/><rect x="442.7" y="1051.03" width="17" height="6.79" fill="#a02020"/><rect x="442.7" y="1057.57" width="17" height="3.99" fill="#201060"/><rect x="442.7" y="1061.31" width="17" height="3.05" fill="#a02020"/><rect x="442.7" y="1064.11" width="17" height="3.52" fill="#d0d0c0"/><rect x="442.7" y="1067.38" width="17" height="4.46" fill="#1800ff"/><rect x="442.7" y="1071.59" width="17" height="3.52" fill="#78f8d8"/><rect x="442.7" y="1074.86" width="17" height="4.46" fill="#1800ff"/><rect x="442.7" y="1079.07" width="17" height="4.46" fill="#a02020"/><rect x="442.7" y="1083.27" width="17" height="3.05" fill="#78f8d8"/><rect x="442.7" y="1086.07" width="17" height="2.12" fill="#a02020"/><rect x="442.7" y="1087.94" width="17" height="3.05" fill="#d0f040"/><rect x="442.7" y="1090.75" width="17" height="4.92" fill="#1800ff"/><rect x="442.7" y="1095.42" width="17" height="2.59" fill="#78f8d8"/><rect x="442.7" y="1097.76" width="17" height="3.99" fill="#1800ff"/><rect x="442.7" y="1101.50" width="17" height="2.59" fill="#78f8d8"/><rect x="442.7" y="1103.83" width="17" height="1.65" fill="#c0c0c0"/><rect x="442.7" y="1105.23" width="17" height="3.52" fill="#78f8d8"/><rect x="442.7" y="1108.50" width="17" height="3.99" fill="#a02020"/><rect x="442.7" y="1112.24" width="17" height="3.99" fill="#1800ff"/><rect x="442.7" y="1115.98" width="17" height="3.52" fill="#e0f040"/><rect x="442.7" y="1119.25" width="17" height="6.79" fill="#1800ff"/><rect x="442.7" y="1125.79" width="17" height="2.12" fill="#78f8d8"/><rect x="442.7" y="1127.66" width="17" height="2.12" fill="#a02020"/><rect x="442.7" y="1129.53" width="17" height="4.46" fill="#1800ff"/><rect x="442.7" y="1133.74" width="17" height="3.99" fill="#c02010"/><rect x="442.7" y="1137.48" width="17" height="4.46" fill="#78f8d8"/><rect x="442.7" y="1141.68" width="17" height="3.05" fill="#b03020"/><rect x="442.7" y="1144.49" width="17" height="3.99" fill="#1800ff"/><rect x="442.7" y="1148.22" width="17" height="2.59" fill="#b03020"/><rect x="442.7" y="1150.56" width="17" height="12.40" fill="#9b1c22"/><rect x="442.7" y="1162.71" width="17" height="4.92" fill="#78f8d8"/><rect x="442.7" y="1167.38" width="17" height="3.05" fill="#a02020"/><rect x="442.7" y="1170.19" width="17" height="2.59" fill="#d0d0d0"/><rect x="442.7" y="1172.52" width="17" height="3.05" fill="#a02020"/><rect x="442.7" y="1175.33" width="17" height="7.26" fill="#78f8d8"/><rect x="442.7" y="1182.34" width="17" height="3.52" fill="#1800ff"/><rect x="442.7" y="1185.61" width="17" height="2.59" fill="#a02020"/><rect x="442.7" y="1187.94" width="17" height="4.46" fill="#80fff0"/><rect x="442.7" y="1192.15" width="17" height="3.05" fill="#40ff20"/><rect x="442.7" y="1194.95" width="17" height="5.86" fill="#a02020"/><rect x="442.7" y="1200.56" width="17" height="4.46" fill="#ff2010"/><rect x="442.7" y="1204.77" width="17" height="3.05" fill="#78f8d8"/><rect x="442.7" y="1207.57" width="17" height="5.86" fill="#a02020"/><rect x="442.7" y="1213.18" width="17" height="4.46" fill="#78f8d8"/><rect x="442.7" y="1217.38" width="17" height="4.46" fill="#a02020"/><rect x="442.7" y="1221.59" width="17" height="3.52" fill="#c0f040"/><rect x="442.7" y="1224.86" width="17" height="2.59" fill="#a02020"/><rect x="442.7" y="1227.20" width="17" height="7.26" fill="#78f8d8"/><rect x="442.7" y="1234.21" width="17" height="3.05" fill="#a02020"/><rect x="442.7" y="1237.01" width="17" height="3.05" fill="#c0f040"/><rect x="442.7" y="1239.81" width="17" height="2.40" fill="#a02020"/><rect x="442.7" y="1241.96" width="17" height="3.24" fill="#c0f040"/><rect x="442.7" y="1244.95" width="17" height="4.90" fill="#a02020"/>
</g>
<rect x="489.8" y="377.4" width="873.5" height="872.3" fill="#f5febc"/>
<defs><linearGradient id="gH" x1="0" y1="0" x2="1" y2="0"><stop offset="0" stop-color="#f1d070" stop-opacity="0"/><stop offset="0.22" stop-color="#f0cc66" stop-opacity="0.7"/><stop offset="0.6" stop-color="#eaa840" stop-opacity="0.9"/><stop offset="1" stop-color="#e8861e"/></linearGradient><linearGradient id="gV" x1="0" y1="0" x2="0" y2="1"><stop offset="0" stop-color="#f1d070" stop-opacity="0"/><stop offset="0.22" stop-color="#f0cc66" stop-opacity="0.7"/><stop offset="0.6" stop-color="#eaa840" stop-opacity="0.9"/><stop offset="1" stop-color="#e8861e"/></linearGradient><filter id="bl1" x="-20%" y="-20%" width="140%" height="140%"><feGaussianBlur stdDeviation="0.9"/></filter><filter id="bl2" x="-5%" y="-5%" width="110%" height="110%"><feGaussianBlur stdDeviation="0.7"/></filter><clipPath id="hmclip"><rect x="0" y="0" width="873.5" height="872.3"/></clipPath></defs>
<g transform="translate(489.8 377.4)" clip-path="url(#hmclip)"><g filter="url(#bl1)"><circle cx="8.0" cy="8.0" r="1.5" fill="#e9a034"/><circle cx="37.5" cy="37.5" r="1.5" fill="#e9a034"/><circle cx="60.0" cy="60.0" r="1.5" fill="#e9a034"/><circle cx="72.5" cy="72.5" r="1.5" fill="#e9a034"/><circle cx="100.0" cy="100.0" r="1.5" fill="#e9a034"/><circle cx="112.5" cy="112.5" r="1.5" fill="#e9a034"/><circle cx="150.0" cy="150.0" r="1.5" fill="#e9a034"/><circle cx="174.0" cy="174.0" r="1.5" fill="#e9a034"/><circle cx="184.3" cy="184.3" r="1.5" fill="#e9a034"/><circle cx="204.2" cy="204.2" r="1.5" fill="#e9a034"/><circle cx="213.8" cy="213.8" r="1.5" fill="#e9a034"/><circle cx="253.2" cy="253.2" r="1.5" fill="#e9a034"/><circle cx="267.0" cy="267.0" r="1.5" fill="#e9a034"/><circle cx="328.0" cy="328.0" r="1.5" fill="#e9a034"/><circle cx="340.5" cy="340.5" r="1.5" fill="#e9a034"/><circle cx="373.0" cy="373.0" r="1.5" fill="#e9a034"/><circle cx="494.3" cy="494.3" r="1.5" fill="#e9a034"/><circle cx="499.3" cy="499.3" r="1.5" fill="#e9a034"/><circle cx="526.5" cy="526.5" r="1.5" fill="#e9a034"/><circle cx="680.8" cy="680.8" r="1.5" fill="#e9a034"/><circle cx="159.5" cy="159.5" r="1.7" fill="#e2521e"/><rect x="43.5" y="45.0" width="4.0" height="2.5" fill="url(#gH)"/><rect x="45.0" y="43.5" width="2.5" height="4.0" fill="url(#gV)"/><path d="M47.5,45.1 L47.5,47.5 L45.1,47.5 Z" fill="#efc360" opacity="0.45"/><rect x="45.1" y="45.1" width="2.4" height="2.4" fill="#e56a16" opacity="0.70"/><rect x="79.3" y="90.3" width="15.0" height="4.0" fill="url(#gH)"/><rect x="89.3" y="79.3" width="5.0" height="15.0" fill="url(#gV)"/><path d="M94.3,85.3 L94.3,94.3 L85.3,94.3 Z" fill="#efc360" opacity="0.45"/><rect x="90.4" y="90.4" width="3.9" height="3.9" fill="#e56a16" opacity="0.50"/><rect x="126.3" y="130.8" width="7.5" height="3.0" fill="url(#gH)"/><rect x="130.8" y="126.8" width="3.0" height="7.0" fill="url(#gV)"/><path d="M133.8,129.6 L133.8,133.8 L129.3,133.8 Z" fill="#efc360" opacity="0.45"/><rect x="130.9" y="130.9" width="2.9" height="2.9" fill="#e56a16" opacity="0.70"/><rect x="189.0" y="190.5" width="4.5" height="3.0" fill="url(#gH)"/><rect x="190.5" y="189.0" width="3.0" height="4.5" fill="url(#gV)"/><path d="M193.5,190.8 L193.5,193.5 L190.8,193.5 Z" fill="#efc360" opacity="0.45"/><rect x="190.6" y="190.6" width="2.9" height="2.9" fill="#e03c14" opacity="1.00"/><rect x="230.8" y="237.3" width="10.0" height="3.5" fill="url(#gH)"/><rect x="237.3" y="230.8" width="3.5" height="10.0" fill="url(#gV)"/><path d="M240.8,234.8 L240.8,240.8 L234.8,240.8 Z" fill="#efc360" opacity="0.45"/><rect x="237.4" y="237.4" width="3.4" height="3.4" fill="#e56a16" opacity="0.70"/><rect x="288.2" y="310.2" width="27.0" height="5.0" fill="url(#gH)"/><rect x="309.2" y="288.2" width="6.0" height="27.0" fill="url(#gV)"/><path d="M315.2,299.0 L315.2,315.2 L299.0,315.2 Z" fill="#efc360" opacity="0.45"/><rect x="310.3" y="310.3" width="4.9" height="4.9" fill="#e56a16" opacity="0.60"/><rect x="349.3" y="353.3" width="7.0" height="3.0" fill="url(#gH)"/><rect x="353.3" y="349.3" width="3.0" height="7.0" fill="url(#gV)"/><path d="M356.3,352.1 L356.3,356.3 L352.1,356.3 Z" fill="#efc360" opacity="0.45"/><rect x="353.4" y="353.4" width="2.9" height="2.9" fill="#e56a16" opacity="0.70"/><rect x="457.5" y="484.5" width="31.0" height="4.0" fill="url(#gH)"/><rect x="477.0" y="462.5" width="11.5" height="26.0" fill="url(#gV)"/><path d="M488.5,472.9 L488.5,488.5 L469.9,488.5 Z" fill="#efc360" opacity="0.45"/><rect x="484.6" y="484.6" width="3.9" height="3.9" fill="#e56a16" opacity="0.80"/><rect x="506.5" y="518.5" width="17.0" height="5.0" fill="url(#gH)"/><rect x="519.3" y="512.5" width="4.2" height="11.0" fill="url(#gV)"/><path d="M523.5,516.9 L523.5,523.5 L513.3,523.5 Z" fill="#efc360" opacity="0.45"/><rect x="519.4" y="519.4" width="4.1" height="4.1" fill="#e03c14" opacity="1.00"/><circle cx="460.6" cy="478.6" r="1.6" fill="#eaa43c" opacity="0.8"/><circle cx="467.2" cy="478.6" r="1.6" fill="#eaa43c" opacity="0.8"/><circle cx="479" cy="479.3" r="1.6" fill="#eaa43c" opacity="0.8"/></g><g filter="url(#bl2)"><polygon points="560.9,668.5 561.4,664.6 565.8,658.7 563.8,646.9 591.4,645.9 586.4,635.1 587.4,631.1 601.2,629.2 624.8,629.2 624.8,581.9 631.7,578.0 631.7,595.7 639.6,595.7 640.5,575.1 644.5,575.1 647.4,581.9 648.4,570.1 656.3,571.1 663.2,565.2 666.1,560.3 667.1,560.3 667.1,668.5" fill="#f5f4aa" opacity="1"/><rect x="632.7" y="595.7" width="6.9" height="23.6" fill="#f5fcb8" opacity="1"/><rect x="644.7" y="581.9" width="3.0" height="61.0" fill="#f5fcb8" opacity="1"/><rect x="592.3" y="645.9" width="74.8" height="22.6" fill="#f0e38c" opacity="1"/><polygon points="577.6,668.5 578.6,664.6 587.4,659.6 667.1,659.6 667.1,668.5" fill="#f0e38c" opacity="1"/><polygon points="648.4,668.5 648.4,601.6 658.2,593.7 663.2,587.8 667.1,581.9 667.1,668.5" fill="#f0e38c" opacity="1"/><rect x="640.5" y="575.1" width="3.9" height="73.8" fill="#f0e38c" opacity="0.8"/><rect x="621.9" y="652.8" width="3.9" height="5.9" fill="#f5fcb8" opacity="0.7"/><rect x="632.7" y="646.9" width="34.4" height="21.6" fill="#ebcb68" opacity="1"/><rect x="610.1" y="658.7" width="57.0" height="9.8" fill="#ebcb68" opacity="1"/><polygon points="595.3,668.5 599.2,664.6 667.1,664.6 667.1,668.5" fill="#ebcb68" opacity="1"/><rect x="653.3" y="637.0" width="13.8" height="31.5" fill="#ebcb68" opacity="1"/><rect x="663.2" y="595.7" width="3.9" height="72.8" fill="#ebcb68" opacity="1"/><rect x="638.6" y="648.8" width="3.9" height="4.9" fill="#f3eea0" opacity="0.8"/><rect x="659.2" y="631.1" width="3.4" height="3.0" fill="#f0e090" opacity="0.8"/><rect x="626.8" y="664.8" width="40.3" height="3.7" fill="#eaa838" opacity="1"/><rect x="648.4" y="660.6" width="18.7" height="7.9" fill="#eaa838" opacity="1"/><rect x="662.2" y="619.3" width="4.9" height="49.2" fill="#eaa838" opacity="1"/><rect x="658.2" y="665.7" width="8.9" height="2.8" fill="#e7801a" opacity="1"/><rect x="664.9" y="641.0" width="2.2" height="27.5" fill="#e7801a" opacity="1"/></g><rect x="641" y="186.6" width="26" height="1.6" fill="#eeb040" opacity="0.5"/><rect x="659" y="241.5" width="8" height="1.4" fill="#eeb040" opacity="0.3"/><rect x="662" y="152" width="5" height="1.4" fill="#eeb040" opacity="0.3"/><rect x="518" y="248.5" width="5" height="1.4" fill="#eeb040" opacity="0.3"/><rect x="479" y="272.8" width="9" height="1.6" fill="#eeb040" opacity="0.55"/><rect x="648" y="508" width="19" height="2.6" fill="#eeb040" opacity="0.28"/><rect x="503.5" y="651" width="1.4" height="17" fill="#eeb040" opacity="0.2"/></g>
</g>
<g id="panelB">
<text x="1.0" y="1374.1" font-size="88.5" stroke="#000" stroke-width="1.5" stroke-linejoin="round" font-family="'Liberation Sans', sans-serif">B</text>
<g shape-rendering="crispEdges"><rect x="191.10" y="1411.30" width="28.53" height="17.03" fill="#f3adb5"/><rect x="219.33" y="1411.30" width="28.53" height="17.03" fill="#fffdfd"/><rect x="247.56" y="1411.30" width="28.53" height="17.03" fill="#fceded"/><rect x="275.79" y="1411.30" width="28.53" height="17.03" fill="#f1f1fe"/><rect x="304.03" y="1411.30" width="28.53" height="17.03" fill="#f6c6cb"/><rect x="332.26" y="1411.30" width="28.53" height="17.03" fill="#f3adb5"/><rect x="360.49" y="1411.30" width="28.53" height="17.03" fill="#f6c6cb"/><rect x="388.72" y="1411.30" width="56.76" height="17.03" fill="#f9dbdd"/><rect x="445.18" y="1411.30" width="28.53" height="17.03" fill="#f6c6cb"/><rect x="473.42" y="1411.30" width="28.53" height="17.03" fill="#e1e1fc"/><rect x="501.65" y="1411.30" width="28.53" height="17.03" fill="#aba7fa"/><rect x="529.88" y="1411.30" width="28.53" height="17.03" fill="#ee616b"/><rect x="558.11" y="1411.30" width="56.76" height="17.03" fill="#ee7d88"/><rect x="614.57" y="1411.30" width="28.53" height="17.03" fill="#d0cffb"/><rect x="642.81" y="1411.30" width="28.53" height="17.03" fill="#e1e1fc"/><rect x="671.04" y="1411.30" width="56.76" height="17.03" fill="#d0cffb"/><rect x="727.50" y="1411.30" width="28.53" height="17.03" fill="#f6c6cb"/><rect x="755.73" y="1411.30" width="28.53" height="17.03" fill="#d0cffb"/><rect x="783.96" y="1411.30" width="56.76" height="17.03" fill="#bfbdfb"/><rect x="840.43" y="1411.30" width="28.53" height="17.03" fill="#aba7fa"/><rect x="868.66" y="1411.30" width="84.99" height="17.03" fill="#bfbdfb"/><rect x="953.35" y="1411.30" width="28.53" height="17.03" fill="#fb1c12"/><rect x="981.58" y="1411.30" width="28.53" height="17.03" fill="#f6c6cb"/><rect x="1009.82" y="1411.30" width="28.53" height="17.03" fill="#e1e1fc"/><rect x="1038.05" y="1411.30" width="28.53" height="17.03" fill="#bfbdfb"/><rect x="1066.28" y="1411.30" width="28.53" height="17.03" fill="#d0cffb"/><rect x="1094.51" y="1411.30" width="28.53" height="17.03" fill="#aba7fa"/><rect x="1122.74" y="1411.30" width="28.53" height="17.03" fill="#f1f1fe"/><rect x="1150.97" y="1411.30" width="28.53" height="17.03" fill="#7b6df9"/><rect x="1179.21" y="1411.30" width="28.53" height="17.03" fill="#aba7fa"/><rect x="1207.44" y="1411.30" width="56.76" height="17.03" fill="#d0cffb"/><rect x="191.10" y="1428.03" width="28.53" height="17.03" fill="#f3adb5"/><rect x="219.33" y="1428.03" width="28.53" height="17.03" fill="#f9dbdd"/><rect x="247.56" y="1428.03" width="28.53" height="17.03" fill="#f6c6cb"/><rect x="275.79" y="1428.03" width="56.76" height="17.03" fill="#f9dbdd"/><rect x="332.26" y="1428.03" width="28.53" height="17.03" fill="#fceded"/><rect x="360.49" y="1428.03" width="28.53" height="17.03" fill="#ee7d88"/><rect x="388.72" y="1428.03" width="84.99" height="17.03" fill="#f9dbdd"/><rect x="473.42" y="1428.03" width="28.53" height="17.03" fill="#f3adb5"/><rect x="501.65" y="1428.03" width="28.53" height="17.03" fill="#aba7fa"/><rect x="529.88" y="1428.03" width="28.53" height="17.03" fill="#f3adb5"/><rect x="558.11" y="1428.03" width="84.99" height="17.03" fill="#d0cffb"/><rect x="642.81" y="1428.03" width="56.76" height="17.03" fill="#bfbdfb"/><rect x="699.27" y="1428.03" width="28.53" height="17.03" fill="#ee616b"/><rect x="727.50" y="1428.03" width="28.53" height="17.03" fill="#e1e1fc"/><rect x="755.73" y="1428.03" width="28.53" height="17.03" fill="#d0cffb"/><rect x="783.96" y="1428.03" width="56.76" height="17.03" fill="#e1e1fc"/><rect x="840.43" y="1428.03" width="84.99" height="17.03" fill="#bfbdfb"/><rect x="925.12" y="1428.03" width="28.53" height="17.03" fill="#f1f1fe"/><rect x="953.35" y="1428.03" width="28.53" height="17.03" fill="#d0cffb"/><rect x="981.58" y="1428.03" width="28.53" height="17.03" fill="#e1e1fc"/><rect x="1009.82" y="1428.03" width="28.53" height="17.03" fill="#d0cffb"/><rect x="1038.05" y="1428.03" width="28.53" height="17.03" fill="#aba7fa"/><rect x="1066.28" y="1428.03" width="84.99" height="17.03" fill="#bfbdfb"/><rect x="1150.97" y="1428.03" width="28.53" height="17.03" fill="#7b6df9"/><rect x="1179.21" y="1428.03" width="56.76" height="17.03" fill="#bfbdfb"/><rect x="1235.67" y="1428.03" width="28.53" height="17.03" fill="#aba7fa"/><rect x="191.10" y="1444.76" width="28.53" height="17.03" fill="#f0959f"/><rect x="219.33" y="1444.76" width="28.53" height="17.03" fill="#f6c6cb"/><rect x="247.56" y="1444.76" width="28.53" height="17.03" fill="#f3adb5"/><rect x="275.79" y="1444.76" width="56.76" height="17.03" fill="#f6c6cb"/><rect x="332.26" y="1444.76" width="56.76" height="17.03" fill="#f9dbdd"/><rect x="388.72" y="1444.76" width="28.53" height="17.03" fill="#f6c6cb"/><rect x="416.95" y="1444.76" width="28.53" height="17.03" fill="#fceded"/><rect x="445.18" y="1444.76" width="28.53" height="17.03" fill="#f3adb5"/><rect x="473.42" y="1444.76" width="56.76" height="17.03" fill="#f9dbdd"/><rect x="529.88" y="1444.76" width="28.53" height="17.03" fill="#f6c6cb"/><rect x="558.11" y="1444.76" width="84.99" height="17.03" fill="#fceded"/><rect x="642.81" y="1444.76" width="28.53" height="17.03" fill="#e1e1fc"/><rect x="671.04" y="1444.76" width="56.76" height="17.03" fill="#f1f1fe"/><rect x="727.50" y="1444.76" width="28.53" height="17.03" fill="#fceded"/><rect x="755.73" y="1444.76" width="28.53" height="17.03" fill="#fffdfd"/><rect x="783.96" y="1444.76" width="28.53" height="17.03" fill="#bfbdfb"/><rect x="812.19" y="1444.76" width="28.53" height="17.03" fill="#e1e1fc"/><rect x="840.43" y="1444.76" width="28.53" height="17.03" fill="#f1f1fe"/><rect x="868.66" y="1444.76" width="56.76" height="17.03" fill="#bfbdfb"/><rect x="925.12" y="1444.76" width="28.53" height="17.03" fill="#958dfa"/><rect x="953.35" y="1444.76" width="28.53" height="17.03" fill="#e1e1fc"/><rect x="981.58" y="1444.76" width="28.53" height="17.03" fill="#bfbdfb"/><rect x="1009.82" y="1444.76" width="84.99" height="17.03" fill="#d0cffb"/><rect x="1094.51" y="1444.76" width="56.76" height="17.03" fill="#bfbdfb"/><rect x="1150.97" y="1444.76" width="28.53" height="17.03" fill="#958dfa"/><rect x="1179.21" y="1444.76" width="56.76" height="17.03" fill="#aba7fa"/><rect x="1235.67" y="1444.76" width="28.53" height="17.03" fill="#7b6df9"/><rect x="191.10" y="1461.49" width="28.53" height="17.03" fill="#f3adb5"/><rect x="219.33" y="1461.49" width="113.23" height="17.03" fill="#f6c6cb"/><rect x="332.26" y="1461.49" width="28.53" height="17.03" fill="#f9dbdd"/><rect x="360.49" y="1461.49" width="28.53" height="17.03" fill="#f3adb5"/><rect x="388.72" y="1461.49" width="28.53" height="17.03" fill="#f6c6cb"/><rect x="416.95" y="1461.49" width="28.53" height="17.03" fill="#fffdfd"/><rect x="445.18" y="1461.49" width="28.53" height="17.03" fill="#fceded"/><rect x="473.42" y="1461.49" width="28.53" height="17.03" fill="#f1f1fe"/><rect x="501.65" y="1461.49" width="28.53" height="17.03" fill="#fffdfd"/><rect x="529.88" y="1461.49" width="28.53" height="17.03" fill="#f6c6cb"/><rect x="558.11" y="1461.49" width="56.76" height="17.03" fill="#f9dbdd"/><rect x="614.57" y="1461.49" width="28.53" height="17.03" fill="#f1f1fe"/><rect x="642.81" y="1461.49" width="56.76" height="17.03" fill="#bfbdfb"/><rect x="699.27" y="1461.49" width="56.76" height="17.03" fill="#fceded"/><rect x="755.73" y="1461.49" width="28.53" height="17.03" fill="#aba7fa"/><rect x="783.96" y="1461.49" width="28.53" height="17.03" fill="#fffdfd"/><rect x="812.19" y="1461.49" width="28.53" height="17.03" fill="#fceded"/><rect x="840.43" y="1461.49" width="56.76" height="17.03" fill="#e1e1fc"/><rect x="896.89" y="1461.49" width="28.53" height="17.03" fill="#bfbdfb"/><rect x="925.12" y="1461.49" width="28.53" height="17.03" fill="#d0cffb"/><rect x="953.35" y="1461.49" width="28.53" height="17.03" fill="#e1e1fc"/><rect x="981.58" y="1461.49" width="28.53" height="17.03" fill="#bfbdfb"/><rect x="1009.82" y="1461.49" width="28.53" height="17.03" fill="#958dfa"/><rect x="1038.05" y="1461.49" width="84.99" height="17.03" fill="#bfbdfb"/><rect x="1122.74" y="1461.49" width="28.53" height="17.03" fill="#aba7fa"/><rect x="1150.97" y="1461.49" width="28.53" height="17.03" fill="#958dfa"/><rect x="1179.21" y="1461.49" width="28.53" height="17.03" fill="#bfbdfb"/><rect x="1207.44" y="1461.49" width="56.76" height="17.03" fill="#958dfa"/><rect x="191.10" y="1478.22" width="28.53" height="17.03" fill="#f0959f"/><rect x="219.33" y="1478.22" width="56.76" height="17.03" fill="#f3adb5"/><rect x="275.79" y="1478.22" width="28.53" height="17.03" fill="#f0959f"/><rect x="304.03" y="1478.22" width="28.53" height="17.03" fill="#f3adb5"/><rect x="332.26" y="1478.22" width="28.53" height="17.03" fill="#fceded"/><rect x="360.49" y="1478.22" width="56.76" height="17.03" fill="#f6c6cb"/><rect x="416.95" y="1478.22" width="28.53" height="17.03" fill="#fffdfd"/><rect x="445.18" y="1478.22" width="56.76" height="17.03" fill="#fceded"/><rect x="501.65" y="1478.22" width="28.53" height="17.03" fill="#f1f1fe"/><rect x="529.88" y="1478.22" width="28.53" height="17.03" fill="#fceded"/><rect x="558.11" y="1478.22" width="56.76" height="17.03" fill="#f9dbdd"/><rect x="614.57" y="1478.22" width="28.53" height="17.03" fill="#fceded"/><rect x="642.81" y="1478.22" width="28.53" height="17.03" fill="#d0cffb"/><rect x="671.04" y="1478.22" width="28.53" height="17.03" fill="#aba7fa"/><rect x="699.27" y="1478.22" width="28.53" height="17.03" fill="#fceded"/><rect x="727.50" y="1478.22" width="84.99" height="17.03" fill="#fffdfd"/><rect x="812.19" y="1478.22" width="28.53" height="17.03" fill="#d0cffb"/><rect x="840.43" y="1478.22" width="28.53" height="17.03" fill="#aba7fa"/><rect x="868.66" y="1478.22" width="28.53" height="17.03" fill="#e1e1fc"/><rect x="896.89" y="1478.22" width="84.99" height="17.03" fill="#bfbdfb"/><rect x="981.58" y="1478.22" width="28.53" height="17.03" fill="#d0cffb"/><rect x="1009.82" y="1478.22" width="28.53" height="17.03" fill="#958dfa"/><rect x="1038.05" y="1478.22" width="56.76" height="17.03" fill="#bfbdfb"/><rect x="1094.51" y="1478.22" width="28.53" height="17.03" fill="#aba7fa"/><rect x="1122.74" y="1478.22" width="28.53" height="17.03" fill="#bfbdfb"/><rect x="1150.97" y="1478.22" width="84.99" height="17.03" fill="#958dfa"/><rect x="1235.67" y="1478.22" width="28.53" height="17.03" fill="#7b6df9"/><rect x="191.10" y="1494.94" width="28.53" height="17.03" fill="#f3adb5"/><rect x="219.33" y="1494.94" width="28.53" height="17.03" fill="#f6c6cb"/><rect x="247.56" y="1494.94" width="28.53" height="17.03" fill="#f3adb5"/><rect x="275.79" y="1494.94" width="84.99" height="17.03" fill="#f6c6cb"/><rect x="360.49" y="1494.94" width="56.76" height="17.03" fill="#f9dbdd"/><rect x="416.95" y="1494.94" width="28.53" height="17.03" fill="#fffdfd"/><rect x="445.18" y="1494.94" width="28.53" height="17.03" fill="#fceded"/><rect x="473.42" y="1494.94" width="28.53" height="17.03" fill="#f9dbdd"/><rect x="501.65" y="1494.94" width="28.53" height="17.03" fill="#f1f1fe"/><rect x="529.88" y="1494.94" width="84.99" height="17.03" fill="#fffdfd"/><rect x="614.57" y="1494.94" width="28.53" height="17.03" fill="#f9dbdd"/><rect x="642.81" y="1494.94" width="56.76" height="17.03" fill="#d0cffb"/><rect x="699.27" y="1494.94" width="28.53" height="17.03" fill="#f9dbdd"/><rect x="727.50" y="1494.94" width="56.76" height="17.03" fill="#fffdfd"/><rect x="783.96" y="1494.94" width="28.53" height="17.03" fill="#e1e1fc"/><rect x="812.19" y="1494.94" width="28.53" height="17.03" fill="#d0cffb"/><rect x="840.43" y="1494.94" width="28.53" height="17.03" fill="#bfbdfb"/><rect x="868.66" y="1494.94" width="28.53" height="17.03" fill="#fffdfd"/><rect x="896.89" y="1494.94" width="84.99" height="17.03" fill="#bfbdfb"/><rect x="981.58" y="1494.94" width="28.53" height="17.03" fill="#d0cffb"/><rect x="1009.82" y="1494.94" width="113.23" height="17.03" fill="#bfbdfb"/><rect x="1122.74" y="1494.94" width="28.53" height="17.03" fill="#aba7fa"/><rect x="1150.97" y="1494.94" width="28.53" height="17.03" fill="#958dfa"/><rect x="1179.21" y="1494.94" width="28.53" height="17.03" fill="#aba7fa"/><rect x="1207.44" y="1494.94" width="56.76" height="17.03" fill="#958dfa"/><rect x="191.10" y="1511.67" width="28.53" height="17.03" fill="#f0959f"/><rect x="219.33" y="1511.67" width="28.53" height="17.03" fill="#f3adb5"/><rect x="247.56" y="1511.67" width="28.53" height="17.03" fill="#f0959f"/><rect x="275.79" y="1511.67" width="28.53" height="17.03" fill="#f3adb5"/><rect x="304.03" y="1511.67" width="56.76" height="17.03" fill="#f6c6cb"/><rect x="360.49" y="1511.67" width="56.76" height="17.03" fill="#f3adb5"/><rect x="416.95" y="1511.67" width="84.99" height="17.03" fill="#f9dbdd"/><rect x="501.65" y="1511.67" width="28.53" height="17.03" fill="#fffdfd"/><rect x="529.88" y="1511.67" width="28.53" height="17.03" fill="#f6c6cb"/><rect x="558.11" y="1511.67" width="56.76" height="17.03" fill="#fceded"/><rect x="614.57" y="1511.67" width="28.53" height="17.03" fill="#fffdfd"/><rect x="642.81" y="1511.67" width="28.53" height="17.03" fill="#bfbdfb"/><rect x="671.04" y="1511.67" width="28.53" height="17.03" fill="#d0cffb"/><rect x="699.27" y="1511.67" width="28.53" height="17.03" fill="#f9dbdd"/><rect x="727.50" y="1511.67" width="56.76" height="17.03" fill="#fffdfd"/><rect x="783.96" y="1511.67" width="28.53" height="17.03" fill="#d0cffb"/><rect x="812.19" y="1511.67" width="28.53" height="17.03" fill="#f1f1fe"/><rect x="840.43" y="1511.67" width="28.53" height="17.03" fill="#d0cffb"/><rect x="868.66" y="1511.67" width="28.53" height="17.03" fill="#e1e1fc"/><rect x="896.89" y="1511.67" width="113.23" height="17.03" fill="#bfbdfb"/><rect x="1009.82" y="1511.67" width="141.46" height="17.03" fill="#aba7fa"/><rect x="1150.97" y="1511.67" width="28.53" height="17.03" fill="#7b6df9"/><rect x="1179.21" y="1511.67" width="28.53" height="17.03" fill="#aba7fa"/><rect x="1207.44" y="1511.67" width="28.53" height="17.03" fill="#958dfa"/><rect x="1235.67" y="1511.67" width="28.53" height="17.03" fill="#7b6df9"/><rect x="191.10" y="1528.40" width="56.76" height="17.03" fill="#f3adb5"/><rect x="247.56" y="1528.40" width="28.53" height="17.03" fill="#f6c6cb"/><rect x="275.79" y="1528.40" width="56.76" height="17.03" fill="#fceded"/><rect x="332.26" y="1528.40" width="28.53" height="17.03" fill="#fffdfd"/><rect x="360.49" y="1528.40" width="28.53" height="17.03" fill="#f6c6cb"/><rect x="388.72" y="1528.40" width="28.53" height="17.03" fill="#f3adb5"/><rect x="416.95" y="1528.40" width="28.53" height="17.03" fill="#f9dbdd"/><rect x="445.18" y="1528.40" width="28.53" height="17.03" fill="#fceded"/><rect x="473.42" y="1528.40" width="28.53" height="17.03" fill="#f6c6cb"/><rect x="501.65" y="1528.40" width="28.53" height="17.03" fill="#fffdfd"/><rect x="529.88" y="1528.40" width="28.53" height="17.03" fill="#f6c6cb"/><rect x="558.11" y="1528.40" width="56.76" height="17.03" fill="#fceded"/><rect x="614.57" y="1528.40" width="28.53" height="17.03" fill="#f1f1fe"/><rect x="642.81" y="1528.40" width="56.76" height="17.03" fill="#d0cffb"/><rect x="699.27" y="1528.40" width="28.53" height="17.03" fill="#f9dbdd"/><rect x="727.50" y="1528.40" width="28.53" height="17.03" fill="#fffdfd"/><rect x="755.73" y="1528.40" width="28.53" height="17.03" fill="#e1e1fc"/><rect x="783.96" y="1528.40" width="28.53" height="17.03" fill="#d0cffb"/><rect x="812.19" y="1528.40" width="28.53" height="17.03" fill="#e1e1fc"/><rect x="840.43" y="1528.40" width="84.99" height="17.03" fill="#bfbdfb"/><rect x="925.12" y="1528.40" width="28.53" height="17.03" fill="#aba7fa"/><rect x="953.35" y="1528.40" width="28.53" height="17.03" fill="#e1e1fc"/><rect x="981.58" y="1528.40" width="56.76" height="17.03" fill="#bfbdfb"/><rect x="1038.05" y="1528.40" width="28.53" height="17.03" fill="#aba7fa"/><rect x="1066.28" y="1528.40" width="56.76" height="17.03" fill="#958dfa"/><rect x="1122.74" y="1528.40" width="28.53" height="17.03" fill="#aba7fa"/><rect x="1150.97" y="1528.40" width="28.53" height="17.03" fill="#958dfa"/><rect x="1179.21" y="1528.40" width="28.53" height="17.03" fill="#aba7fa"/><rect x="1207.44" y="1528.40" width="28.53" height="17.03" fill="#958dfa"/><rect x="1235.67" y="1528.40" width="28.53" height="17.03" fill="#7b6df9"/><rect x="191.10" y="1545.13" width="28.53" height="17.03" fill="#f0959f"/><rect x="219.33" y="1545.13" width="56.76" height="17.03" fill="#f3adb5"/><rect x="275.79" y="1545.13" width="84.99" height="17.03" fill="#f6c6cb"/><rect x="360.49" y="1545.13" width="56.76" height="17.03" fill="#f3adb5"/><rect x="416.95" y="1545.13" width="28.53" height="17.03" fill="#f6c6cb"/><rect x="445.18" y="1545.13" width="56.76" height="17.03" fill="#fceded"/><rect x="501.65" y="1545.13" width="113.23" height="17.03" fill="#fffdfd"/><rect x="614.57" y="1545.13" width="28.53" height="17.03" fill="#f1f1fe"/><rect x="642.81" y="1545.13" width="28.53" height="17.03" fill="#bfbdfb"/><rect x="671.04" y="1545.13" width="28.53" height="17.03" fill="#aba7fa"/><rect x="699.27" y="1545.13" width="28.53" height="17.03" fill="#f1f1fe"/><rect x="727.50" y="1545.13" width="28.53" height="17.03" fill="#fffdfd"/><rect x="755.73" y="1545.13" width="28.53" height="17.03" fill="#bfbdfb"/><rect x="783.96" y="1545.13" width="56.76" height="17.03" fill="#e1e1fc"/><rect x="840.43" y="1545.13" width="28.53" height="17.03" fill="#d0cffb"/><rect x="868.66" y="1545.13" width="28.53" height="17.03" fill="#f1f1fe"/><rect x="896.89" y="1545.13" width="56.76" height="17.03" fill="#bfbdfb"/><rect x="953.35" y="1545.13" width="28.53" height="17.03" fill="#d0cffb"/><rect x="981.58" y="1545.13" width="28.53" height="17.03" fill="#bfbdfb"/><rect x="1009.82" y="1545.13" width="84.99" height="17.03" fill="#aba7fa"/><rect x="1094.51" y="1545.13" width="141.46" height="17.03" fill="#958dfa"/><rect x="1235.67" y="1545.13" width="28.53" height="17.03" fill="#7b6df9"/><rect x="191.10" y="1561.86" width="84.99" height="17.03" fill="#f0959f"/><rect x="275.79" y="1561.86" width="56.76" height="17.03" fill="#f3adb5"/><rect x="332.26" y="1561.86" width="28.53" height="17.03" fill="#fceded"/><rect x="360.49" y="1561.86" width="56.76" height="17.03" fill="#f3adb5"/><rect x="416.95" y="1561.86" width="28.53" height="17.03" fill="#f6c6cb"/><rect x="445.18" y="1561.86" width="113.23" height="17.03" fill="#fceded"/><rect x="558.11" y="1561.86" width="84.99" height="17.03" fill="#fffdfd"/><rect x="642.81" y="1561.86" width="28.53" height="17.03" fill="#bfbdfb"/><rect x="671.04" y="1561.86" width="28.53" height="17.03" fill="#aba7fa"/><rect x="699.27" y="1561.86" width="56.76" height="17.03" fill="#fceded"/><rect x="755.73" y="1561.86" width="28.53" height="17.03" fill="#aba7fa"/><rect x="783.96" y="1561.86" width="28.53" height="17.03" fill="#e1e1fc"/><rect x="812.19" y="1561.86" width="28.53" height="17.03" fill="#f1f1fe"/><rect x="840.43" y="1561.86" width="56.76" height="17.03" fill="#d0cffb"/><rect x="896.89" y="1561.86" width="28.53" height="17.03" fill="#bfbdfb"/><rect x="925.12" y="1561.86" width="28.53" height="17.03" fill="#aba7fa"/><rect x="953.35" y="1561.86" width="28.53" height="17.03" fill="#bfbdfb"/><rect x="981.58" y="1561.86" width="84.99" height="17.03" fill="#aba7fa"/><rect x="1066.28" y="1561.86" width="56.76" height="17.03" fill="#958dfa"/><rect x="1122.74" y="1561.86" width="28.53" height="17.03" fill="#7b6df9"/><rect x="1150.97" y="1561.86" width="28.53" height="17.03" fill="#958dfa"/><rect x="1179.21" y="1561.86" width="28.53" height="17.03" fill="#aba7fa"/><rect x="1207.44" y="1561.86" width="28.53" height="17.03" fill="#958dfa"/><rect x="1235.67" y="1561.86" width="28.53" height="17.03" fill="#7b6df9"/><rect x="191.10" y="1578.59" width="84.99" height="17.03" fill="#f3adb5"/><rect x="275.79" y="1578.59" width="28.53" height="17.03" fill="#fceded"/><rect x="304.03" y="1578.59" width="28.53" height="17.03" fill="#fffdfd"/><rect x="332.26" y="1578.59" width="28.53" height="17.03" fill="#f3adb5"/><rect x="360.49" y="1578.59" width="56.76" height="17.03" fill="#f6c6cb"/><rect x="416.95" y="1578.59" width="28.53" height="17.03" fill="#fceded"/><rect x="445.18" y="1578.59" width="28.53" height="17.03" fill="#f1f1fe"/><rect x="473.42" y="1578.59" width="28.53" height="17.03" fill="#fceded"/><rect x="501.65" y="1578.59" width="28.53" height="17.03" fill="#f1f1fe"/><rect x="529.88" y="1578.59" width="28.53" height="17.03" fill="#fffdfd"/><rect x="558.11" y="1578.59" width="56.76" height="17.03" fill="#f6c6cb"/><rect x="614.57" y="1578.59" width="28.53" height="17.03" fill="#fceded"/><rect x="642.81" y="1578.59" width="28.53" height="17.03" fill="#aba7fa"/><rect x="671.04" y="1578.59" width="28.53" height="17.03" fill="#bfbdfb"/><rect x="699.27" y="1578.59" width="28.53" height="17.03" fill="#fffdfd"/><rect x="727.50" y="1578.59" width="28.53" height="17.03" fill="#f1f1fe"/><rect x="755.73" y="1578.59" width="56.76" height="17.03" fill="#bfbdfb"/><rect x="812.19" y="1578.59" width="28.53" height="17.03" fill="#d0cffb"/><rect x="840.43" y="1578.59" width="28.53" height="17.03" fill="#aba7fa"/><rect x="868.66" y="1578.59" width="28.53" height="17.03" fill="#bfbdfb"/><rect x="896.89" y="1578.59" width="28.53" height="17.03" fill="#f6c6cb"/><rect x="925.12" y="1578.59" width="28.53" height="17.03" fill="#bfbdfb"/><rect x="953.35" y="1578.59" width="28.53" height="17.03" fill="#e1e1fc"/><rect x="981.58" y="1578.59" width="28.53" height="17.03" fill="#aba7fa"/><rect x="1009.82" y="1578.59" width="28.53" height="17.03" fill="#bfbdfb"/><rect x="1038.05" y="1578.59" width="28.53" height="17.03" fill="#e1e1fc"/><rect x="1066.28" y="1578.59" width="28.53" height="17.03" fill="#bfbdfb"/><rect x="1094.51" y="1578.59" width="56.76" height="17.03" fill="#958dfa"/><rect x="1150.97" y="1578.59" width="28.53" height="17.03" fill="#7b6df9"/><rect x="1179.21" y="1578.59" width="56.76" height="17.03" fill="#aba7fa"/><rect x="1235.67" y="1578.59" width="28.53" height="17.03" fill="#958dfa"/><rect x="191.10" y="1595.32" width="28.53" height="17.03" fill="#f6c6cb"/><rect x="219.33" y="1595.32" width="56.76" height="17.03" fill="#fceded"/><rect x="275.79" y="1595.32" width="28.53" height="17.03" fill="#f6c6cb"/><rect x="304.03" y="1595.32" width="28.53" height="17.03" fill="#f9dbdd"/><rect x="332.26" y="1595.32" width="28.53" height="17.03" fill="#fffdfd"/><rect x="360.49" y="1595.32" width="28.53" height="17.03" fill="#f9dbdd"/><rect x="388.72" y="1595.32" width="28.53" height="17.03" fill="#fceded"/><rect x="416.95" y="1595.32" width="28.53" height="17.03" fill="#f1f1fe"/><rect x="445.18" y="1595.32" width="28.53" height="17.03" fill="#f9dbdd"/><rect x="473.42" y="1595.32" width="56.76" height="17.03" fill="#f6c6cb"/><rect x="529.88" y="1595.32" width="28.53" height="17.03" fill="#fceded"/><rect x="558.11" y="1595.32" width="56.76" height="17.03" fill="#f9dbdd"/><rect x="614.57" y="1595.32" width="28.53" height="17.03" fill="#e1e1fc"/><rect x="642.81" y="1595.32" width="28.53" height="17.03" fill="#bfbdfb"/><rect x="671.04" y="1595.32" width="28.53" height="17.03" fill="#d0cffb"/><rect x="699.27" y="1595.32" width="28.53" height="17.03" fill="#fceded"/><rect x="727.50" y="1595.32" width="28.53" height="17.03" fill="#d0cffb"/><rect x="755.73" y="1595.32" width="28.53" height="17.03" fill="#bfbdfb"/><rect x="783.96" y="1595.32" width="28.53" height="17.03" fill="#fffdfd"/><rect x="812.19" y="1595.32" width="28.53" height="17.03" fill="#bfbdfb"/><rect x="840.43" y="1595.32" width="28.53" height="17.03" fill="#aba7fa"/><rect x="868.66" y="1595.32" width="56.76" height="17.03" fill="#bfbdfb"/><rect x="925.12" y="1595.32" width="28.53" height="17.03" fill="#d0cffb"/><rect x="953.35" y="1595.32" width="28.53" height="17.03" fill="#bfbdfb"/><rect x="981.58" y="1595.32" width="28.53" height="17.03" fill="#aba7fa"/><rect x="1009.82" y="1595.32" width="28.53" height="17.03" fill="#d0cffb"/><rect x="1038.05" y="1595.32" width="28.53" height="17.03" fill="#bfbdfb"/><rect x="1066.28" y="1595.32" width="84.99" height="17.03" fill="#d0cffb"/><rect x="1150.97" y="1595.32" width="56.76" height="17.03" fill="#bfbdfb"/><rect x="1207.44" y="1595.32" width="28.53" height="17.03" fill="#d0cffb"/><rect x="1235.67" y="1595.32" width="28.53" height="17.03" fill="#958dfa"/><rect x="191.10" y="1612.05" width="56.76" height="17.03" fill="#f6c6cb"/><rect x="247.56" y="1612.05" width="56.76" height="17.03" fill="#f9dbdd"/><rect x="304.03" y="1612.05" width="28.53" height="17.03" fill="#fceded"/><rect x="332.26" y="1612.05" width="56.76" height="17.03" fill="#fffdfd"/><rect x="388.72" y="1612.05" width="28.53" height="17.03" fill="#f6c6cb"/><rect x="416.95" y="1612.05" width="28.53" height="17.03" fill="#fceded"/><rect x="445.18" y="1612.05" width="28.53" height="17.03" fill="#e1e1fc"/><rect x="473.42" y="1612.05" width="28.53" height="17.03" fill="#f9dbdd"/><rect x="501.65" y="1612.05" width="28.53" height="17.03" fill="#f3adb5"/><rect x="529.88" y="1612.05" width="113.23" height="17.03" fill="#fffdfd"/><rect x="642.81" y="1612.05" width="28.53" height="17.03" fill="#bfbdfb"/><rect x="671.04" y="1612.05" width="28.53" height="17.03" fill="#d0cffb"/><rect x="699.27" y="1612.05" width="28.53" height="17.03" fill="#f1f1fe"/><rect x="727.50" y="1612.05" width="28.53" height="17.03" fill="#e1e1fc"/><rect x="755.73" y="1612.05" width="28.53" height="17.03" fill="#fceded"/><rect x="783.96" y="1612.05" width="28.53" height="17.03" fill="#bfbdfb"/><rect x="812.19" y="1612.05" width="28.53" height="17.03" fill="#fceded"/><rect x="840.43" y="1612.05" width="28.53" height="17.03" fill="#d0cffb"/><rect x="868.66" y="1612.05" width="56.76" height="17.03" fill="#bfbdfb"/><rect x="925.12" y="1612.05" width="84.99" height="17.03" fill="#aba7fa"/><rect x="1009.82" y="1612.05" width="56.76" height="17.03" fill="#bfbdfb"/><rect x="1066.28" y="1612.05" width="84.99" height="17.03" fill="#aba7fa"/><rect x="1150.97" y="1612.05" width="28.53" height="17.03" fill="#bfbdfb"/><rect x="1179.21" y="1612.05" width="28.53" height="17.03" fill="#d0cffb"/><rect x="1207.44" y="1612.05" width="28.53" height="17.03" fill="#bfbdfb"/><rect x="1235.67" y="1612.05" width="28.53" height="17.03" fill="#958dfa"/><rect x="191.10" y="1628.77" width="56.76" height="17.03" fill="#f3adb5"/><rect x="247.56" y="1628.77" width="28.53" height="17.03" fill="#f6c6cb"/><rect x="275.79" y="1628.77" width="28.53" height="17.03" fill="#f3adb5"/><rect x="304.03" y="1628.77" width="84.99" height="17.03" fill="#fceded"/><rect x="388.72" y="1628.77" width="28.53" height="17.03" fill="#fffdfd"/><rect x="416.95" y="1628.77" width="28.53" height="17.03" fill="#f1f1fe"/><rect x="445.18" y="1628.77" width="28.53" height="17.03" fill="#f6c6cb"/><rect x="473.42" y="1628.77" width="84.99" height="17.03" fill="#fceded"/><rect x="558.11" y="1628.77" width="56.76" height="17.03" fill="#fffdfd"/><rect x="614.57" y="1628.77" width="28.53" height="17.03" fill="#fceded"/><rect x="642.81" y="1628.77" width="56.76" height="17.03" fill="#e1e1fc"/><rect x="699.27" y="1628.77" width="28.53" height="17.03" fill="#fffdfd"/><rect x="727.50" y="1628.77" width="28.53" height="17.03" fill="#e1e1fc"/><rect x="755.73" y="1628.77" width="28.53" height="17.03" fill="#aba7fa"/><rect x="783.96" y="1628.77" width="28.53" height="17.03" fill="#e1e1fc"/><rect x="812.19" y="1628.77" width="28.53" height="17.03" fill="#d0cffb"/><rect x="840.43" y="1628.77" width="28.53" height="17.03" fill="#bfbdfb"/><rect x="868.66" y="1628.77" width="28.53" height="17.03" fill="#e1e1fc"/><rect x="896.89" y="1628.77" width="28.53" height="17.03" fill="#bfbdfb"/><rect x="925.12" y="1628.77" width="28.53" height="17.03" fill="#aba7fa"/><rect x="953.35" y="1628.77" width="84.99" height="17.03" fill="#bfbdfb"/><rect x="1038.05" y="1628.77" width="28.53" height="17.03" fill="#f1f1fe"/><rect x="1066.28" y="1628.77" width="84.99" height="17.03" fill="#e1e1fc"/><rect x="1150.97" y="1628.77" width="84.99" height="17.03" fill="#bfbdfb"/><rect x="1235.67" y="1628.77" width="28.53" height="17.03" fill="#aba7fa"/><rect x="191.10" y="1645.50" width="56.76" height="17.03" fill="#f3adb5"/><rect x="247.56" y="1645.50" width="28.53" height="17.03" fill="#f6c6cb"/><rect x="275.79" y="1645.50" width="28.53" height="17.03" fill="#f9dbdd"/><rect x="304.03" y="1645.50" width="56.76" height="17.03" fill="#fceded"/><rect x="360.49" y="1645.50" width="28.53" height="17.03" fill="#fffdfd"/><rect x="388.72" y="1645.50" width="28.53" height="17.03" fill="#f9dbdd"/><rect x="416.95" y="1645.50" width="28.53" height="17.03" fill="#f1f1fe"/><rect x="445.18" y="1645.50" width="28.53" height="17.03" fill="#f6c6cb"/><rect x="473.42" y="1645.50" width="28.53" height="17.03" fill="#fceded"/><rect x="501.65" y="1645.50" width="28.53" height="17.03" fill="#f6c6cb"/><rect x="529.88" y="1645.50" width="84.99" height="17.03" fill="#fffdfd"/><rect x="614.57" y="1645.50" width="28.53" height="17.03" fill="#fceded"/><rect x="642.81" y="1645.50" width="56.76" height="17.03" fill="#e1e1fc"/><rect x="699.27" y="1645.50" width="28.53" height="17.03" fill="#fceded"/><rect x="727.50" y="1645.50" width="28.53" height="17.03" fill="#d0cffb"/><rect x="755.73" y="1645.50" width="28.53" height="17.03" fill="#aba7fa"/><rect x="783.96" y="1645.50" width="28.53" height="17.03" fill="#d0cffb"/><rect x="812.19" y="1645.50" width="28.53" height="17.03" fill="#e1e1fc"/><rect x="840.43" y="1645.50" width="84.99" height="17.03" fill="#bfbdfb"/><rect x="925.12" y="1645.50" width="28.53" height="17.03" fill="#aba7fa"/><rect x="953.35" y="1645.50" width="28.53" height="17.03" fill="#bfbdfb"/><rect x="981.58" y="1645.50" width="28.53" height="17.03" fill="#aba7fa"/><rect x="1009.82" y="1645.50" width="28.53" height="17.03" fill="#bfbdfb"/><rect x="1038.05" y="1645.50" width="56.76" height="17.03" fill="#d0cffb"/><rect x="1094.51" y="1645.50" width="28.53" height="17.03" fill="#bfbdfb"/><rect x="1122.74" y="1645.50" width="28.53" height="17.03" fill="#d0cffb"/><rect x="1150.97" y="1645.50" width="28.53" height="17.03" fill="#aba7fa"/><rect x="1179.21" y="1645.50" width="56.76" height="17.03" fill="#bfbdfb"/><rect x="1235.67" y="1645.50" width="28.53" height="17.03" fill="#7b6df9"/><rect x="191.10" y="1662.23" width="28.53" height="17.03" fill="#f3adb5"/><rect x="219.33" y="1662.23" width="28.53" height="17.03" fill="#f6c6cb"/><rect x="247.56" y="1662.23" width="56.76" height="17.03" fill="#f3adb5"/><rect x="304.03" y="1662.23" width="56.76" height="17.03" fill="#fceded"/><rect x="360.49" y="1662.23" width="28.53" height="17.03" fill="#e1e1fc"/><rect x="388.72" y="1662.23" width="28.53" height="17.03" fill="#fceded"/><rect x="416.95" y="1662.23" width="28.53" height="17.03" fill="#d0cffb"/><rect x="445.18" y="1662.23" width="28.53" height="17.03" fill="#f6c6cb"/><rect x="473.42" y="1662.23" width="28.53" height="17.03" fill="#fffdfd"/><rect x="501.65" y="1662.23" width="28.53" height="17.03" fill="#f6c6cb"/><rect x="529.88" y="1662.23" width="28.53" height="17.03" fill="#e1e1fc"/><rect x="558.11" y="1662.23" width="56.76" height="17.03" fill="#d0cffb"/><rect x="614.57" y="1662.23" width="28.53" height="17.03" fill="#f9dbdd"/><rect x="642.81" y="1662.23" width="56.76" height="17.03" fill="#e1e1fc"/><rect x="699.27" y="1662.23" width="28.53" height="17.03" fill="#fffdfd"/><rect x="727.50" y="1662.23" width="28.53" height="17.03" fill="#e1e1fc"/><rect x="755.73" y="1662.23" width="28.53" height="17.03" fill="#aba7fa"/><rect x="783.96" y="1662.23" width="28.53" height="17.03" fill="#fffdfd"/><rect x="812.19" y="1662.23" width="28.53" height="17.03" fill="#d0cffb"/><rect x="840.43" y="1662.23" width="56.76" height="17.03" fill="#f1f1fe"/><rect x="896.89" y="1662.23" width="28.53" height="17.03" fill="#d0cffb"/><rect x="925.12" y="1662.23" width="113.23" height="17.03" fill="#bfbdfb"/><rect x="1038.05" y="1662.23" width="84.99" height="17.03" fill="#d0cffb"/><rect x="1122.74" y="1662.23" width="113.23" height="17.03" fill="#bfbdfb"/><rect x="1235.67" y="1662.23" width="28.53" height="17.03" fill="#aba7fa"/><rect x="191.10" y="1678.96" width="56.76" height="17.03" fill="#f3adb5"/><rect x="247.56" y="1678.96" width="28.53" height="17.03" fill="#f0959f"/><rect x="275.79" y="1678.96" width="28.53" height="17.03" fill="#f3adb5"/><rect x="304.03" y="1678.96" width="56.76" height="17.03" fill="#fceded"/><rect x="360.49" y="1678.96" width="28.53" height="17.03" fill="#f9dbdd"/><rect x="388.72" y="1678.96" width="28.53" height="17.03" fill="#e1e1fc"/><rect x="416.95" y="1678.96" width="28.53" height="17.03" fill="#f1f1fe"/><rect x="445.18" y="1678.96" width="28.53" height="17.03" fill="#f6c6cb"/><rect x="473.42" y="1678.96" width="28.53" height="17.03" fill="#fceded"/><rect x="501.65" y="1678.96" width="56.76" height="17.03" fill="#fffdfd"/><rect x="558.11" y="1678.96" width="56.76" height="17.03" fill="#e1e1fc"/><rect x="614.57" y="1678.96" width="28.53" height="17.03" fill="#fceded"/><rect x="642.81" y="1678.96" width="28.53" height="17.03" fill="#f1f1fe"/><rect x="671.04" y="1678.96" width="28.53" height="17.03" fill="#d0cffb"/><rect x="699.27" y="1678.96" width="28.53" height="17.03" fill="#f6c6cb"/><rect x="727.50" y="1678.96" width="28.53" height="17.03" fill="#e1e1fc"/><rect x="755.73" y="1678.96" width="28.53" height="17.03" fill="#aba7fa"/><rect x="783.96" y="1678.96" width="56.76" height="17.03" fill="#e1e1fc"/><rect x="840.43" y="1678.96" width="28.53" height="17.03" fill="#bfbdfb"/><rect x="868.66" y="1678.96" width="28.53" height="17.03" fill="#d0cffb"/><rect x="896.89" y="1678.96" width="28.53" height="17.03" fill="#bfbdfb"/><rect x="925.12" y="1678.96" width="28.53" height="17.03" fill="#aba7fa"/><rect x="953.35" y="1678.96" width="56.76" height="17.03" fill="#bfbdfb"/><rect x="1009.82" y="1678.96" width="28.53" height="17.03" fill="#aba7fa"/><rect x="1038.05" y="1678.96" width="28.53" height="17.03" fill="#d0cffb"/><rect x="1066.28" y="1678.96" width="56.76" height="17.03" fill="#bfbdfb"/><rect x="1122.74" y="1678.96" width="28.53" height="17.03" fill="#aba7fa"/><rect x="1150.97" y="1678.96" width="28.53" height="17.03" fill="#958dfa"/><rect x="1179.21" y="1678.96" width="56.76" height="17.03" fill="#aba7fa"/><rect x="1235.67" y="1678.96" width="28.53" height="17.03" fill="#7b6df9"/><rect x="191.10" y="1695.69" width="28.53" height="17.03" fill="#fceded"/><rect x="219.33" y="1695.69" width="28.53" height="17.03" fill="#e1e1fc"/><rect x="247.56" y="1695.69" width="28.53" height="17.03" fill="#d0cffb"/><rect x="275.79" y="1695.69" width="56.76" height="17.03" fill="#fffdfd"/><rect x="332.26" y="1695.69" width="28.53" height="17.03" fill="#f3adb5"/><rect x="360.49" y="1695.69" width="28.53" height="17.03" fill="#fceded"/><rect x="388.72" y="1695.69" width="28.53" height="17.03" fill="#d0cffb"/><rect x="416.95" y="1695.69" width="56.76" height="17.03" fill="#f6c6cb"/><rect x="473.42" y="1695.69" width="28.53" height="17.03" fill="#958dfa"/><rect x="501.65" y="1695.69" width="56.76" height="17.03" fill="#f6c6cb"/><rect x="558.11" y="1695.69" width="56.76" height="17.03" fill="#f1f1fe"/><rect x="614.57" y="1695.69" width="28.53" height="17.03" fill="#bfbdfb"/><rect x="642.81" y="1695.69" width="28.53" height="17.03" fill="#aba7fa"/><rect x="671.04" y="1695.69" width="56.76" height="17.03" fill="#bfbdfb"/><rect x="727.50" y="1695.69" width="28.53" height="17.03" fill="#fffdfd"/><rect x="755.73" y="1695.69" width="56.76" height="17.03" fill="#bfbdfb"/><rect x="812.19" y="1695.69" width="28.53" height="17.03" fill="#f6c6cb"/><rect x="840.43" y="1695.69" width="28.53" height="17.03" fill="#f1f1fe"/><rect x="868.66" y="1695.69" width="56.76" height="17.03" fill="#bfbdfb"/><rect x="925.12" y="1695.69" width="28.53" height="17.03" fill="#aba7fa"/><rect x="953.35" y="1695.69" width="28.53" height="17.03" fill="#e1e1fc"/><rect x="981.58" y="1695.69" width="28.53" height="17.03" fill="#d0cffb"/><rect x="1009.82" y="1695.69" width="28.53" height="17.03" fill="#e1e1fc"/><rect x="1038.05" y="1695.69" width="56.76" height="17.03" fill="#958dfa"/><rect x="1094.51" y="1695.69" width="28.53" height="17.03" fill="#d0cffb"/><rect x="1122.74" y="1695.69" width="28.53" height="17.03" fill="#958dfa"/><rect x="1150.97" y="1695.69" width="56.76" height="17.03" fill="#d0cffb"/><rect x="1207.44" y="1695.69" width="56.76" height="17.03" fill="#bfbdfb"/><rect x="191.10" y="1712.42" width="28.53" height="17.03" fill="#fceded"/><rect x="219.33" y="1712.42" width="28.53" height="17.03" fill="#f9dbdd"/><rect x="247.56" y="1712.42" width="28.53" height="17.03" fill="#fffdfd"/><rect x="275.79" y="1712.42" width="28.53" height="17.03" fill="#f1f1fe"/><rect x="304.03" y="1712.42" width="28.53" height="17.03" fill="#fceded"/><rect x="332.26" y="1712.42" width="28.53" height="17.03" fill="#d0cffb"/><rect x="360.49" y="1712.42" width="28.53" height="17.03" fill="#e1e1fc"/><rect x="388.72" y="1712.42" width="28.53" height="17.03" fill="#fceded"/><rect x="416.95" y="1712.42" width="28.53" height="17.03" fill="#f1f1fe"/><rect x="445.18" y="1712.42" width="28.53" height="17.03" fill="#f6c6cb"/><rect x="473.42" y="1712.42" width="28.53" height="17.03" fill="#aba7fa"/><rect x="501.65" y="1712.42" width="28.53" height="17.03" fill="#f9dbdd"/><rect x="529.88" y="1712.42" width="28.53" height="17.03" fill="#e1e1fc"/><rect x="558.11" y="1712.42" width="56.76" height="17.03" fill="#aba7fa"/><rect x="614.57" y="1712.42" width="56.76" height="17.03" fill="#d0cffb"/><rect x="671.04" y="1712.42" width="28.53" height="17.03" fill="#e1e1fc"/><rect x="699.27" y="1712.42" width="28.53" height="17.03" fill="#d0cffb"/><rect x="727.50" y="1712.42" width="28.53" height="17.03" fill="#e1e1fc"/><rect x="755.73" y="1712.42" width="28.53" height="17.03" fill="#fceded"/><rect x="783.96" y="1712.42" width="28.53" height="17.03" fill="#bfbdfb"/><rect x="812.19" y="1712.42" width="28.53" height="17.03" fill="#fceded"/><rect x="840.43" y="1712.42" width="28.53" height="17.03" fill="#f9dbdd"/><rect x="868.66" y="1712.42" width="84.99" height="17.03" fill="#bfbdfb"/><rect x="953.35" y="1712.42" width="84.99" height="17.03" fill="#d0cffb"/><rect x="1038.05" y="1712.42" width="84.99" height="17.03" fill="#bfbdfb"/><rect x="1122.74" y="1712.42" width="28.53" height="17.03" fill="#aba7fa"/><rect x="1150.97" y="1712.42" width="28.53" height="17.03" fill="#e1e1fc"/><rect x="1179.21" y="1712.42" width="56.76" height="17.03" fill="#d0cffb"/><rect x="1235.67" y="1712.42" width="28.53" height="17.03" fill="#958dfa"/><rect x="191.10" y="1729.15" width="28.53" height="17.03" fill="#fceded"/><rect x="219.33" y="1729.15" width="28.53" height="17.03" fill="#f1f1fe"/><rect x="247.56" y="1729.15" width="28.53" height="17.03" fill="#fffdfd"/><rect x="275.79" y="1729.15" width="28.53" height="17.03" fill="#f3adb5"/><rect x="304.03" y="1729.15" width="28.53" height="17.03" fill="#fceded"/><rect x="332.26" y="1729.15" width="28.53" height="17.03" fill="#d0cffb"/><rect x="360.49" y="1729.15" width="56.76" height="17.03" fill="#e1e1fc"/><rect x="416.95" y="1729.15" width="28.53" height="17.03" fill="#f9dbdd"/><rect x="445.18" y="1729.15" width="28.53" height="17.03" fill="#f6c6cb"/><rect x="473.42" y="1729.15" width="28.53" height="17.03" fill="#d0cffb"/><rect x="501.65" y="1729.15" width="28.53" height="17.03" fill="#f9dbdd"/><rect x="529.88" y="1729.15" width="28.53" height="17.03" fill="#f6c6cb"/><rect x="558.11" y="1729.15" width="113.23" height="17.03" fill="#d0cffb"/><rect x="671.04" y="1729.15" width="28.53" height="17.03" fill="#bfbdfb"/><rect x="699.27" y="1729.15" width="56.76" height="17.03" fill="#d0cffb"/><rect x="755.73" y="1729.15" width="28.53" height="17.03" fill="#e1e1fc"/><rect x="783.96" y="1729.15" width="56.76" height="17.03" fill="#d0cffb"/><rect x="840.43" y="1729.15" width="28.53" height="17.03" fill="#958dfa"/><rect x="868.66" y="1729.15" width="28.53" height="17.03" fill="#d0cffb"/><rect x="896.89" y="1729.15" width="56.76" height="17.03" fill="#bfbdfb"/><rect x="953.35" y="1729.15" width="28.53" height="17.03" fill="#f1f1fe"/><rect x="981.58" y="1729.15" width="28.53" height="17.03" fill="#bfbdfb"/><rect x="1009.82" y="1729.15" width="28.53" height="17.03" fill="#d0cffb"/><rect x="1038.05" y="1729.15" width="28.53" height="17.03" fill="#bfbdfb"/><rect x="1066.28" y="1729.15" width="28.53" height="17.03" fill="#d0cffb"/><rect x="1094.51" y="1729.15" width="28.53" height="17.03" fill="#aba7fa"/><rect x="1122.74" y="1729.15" width="56.76" height="17.03" fill="#d0cffb"/><rect x="1179.21" y="1729.15" width="28.53" height="17.03" fill="#aba7fa"/><rect x="1207.44" y="1729.15" width="28.53" height="17.03" fill="#d0cffb"/><rect x="1235.67" y="1729.15" width="28.53" height="17.03" fill="#7b6df9"/><rect x="191.10" y="1745.88" width="28.53" height="17.03" fill="#fceded"/><rect x="219.33" y="1745.88" width="28.53" height="17.03" fill="#fffdfd"/><rect x="247.56" y="1745.88" width="28.53" height="17.03" fill="#fceded"/><rect x="275.79" y="1745.88" width="28.53" height="17.03" fill="#fffdfd"/><rect x="304.03" y="1745.88" width="28.53" height="17.03" fill="#fceded"/><rect x="332.26" y="1745.88" width="28.53" height="17.03" fill="#f1f1fe"/><rect x="360.49" y="1745.88" width="28.53" height="17.03" fill="#fceded"/><rect x="388.72" y="1745.88" width="28.53" height="17.03" fill="#f1f1fe"/><rect x="416.95" y="1745.88" width="84.99" height="17.03" fill="#f9dbdd"/><rect x="501.65" y="1745.88" width="28.53" height="17.03" fill="#e1e1fc"/><rect x="529.88" y="1745.88" width="28.53" height="17.03" fill="#fceded"/><rect x="558.11" y="1745.88" width="113.23" height="17.03" fill="#d0cffb"/><rect x="671.04" y="1745.88" width="28.53" height="17.03" fill="#bfbdfb"/><rect x="699.27" y="1745.88" width="28.53" height="17.03" fill="#e1e1fc"/><rect x="727.50" y="1745.88" width="28.53" height="17.03" fill="#f1f1fe"/><rect x="755.73" y="1745.88" width="56.76" height="17.03" fill="#bfbdfb"/><rect x="812.19" y="1745.88" width="28.53" height="17.03" fill="#f1f1fe"/><rect x="840.43" y="1745.88" width="28.53" height="17.03" fill="#bfbdfb"/><rect x="868.66" y="1745.88" width="28.53" height="17.03" fill="#d0cffb"/><rect x="896.89" y="1745.88" width="28.53" height="17.03" fill="#bfbdfb"/><rect x="925.12" y="1745.88" width="28.53" height="17.03" fill="#aba7fa"/><rect x="953.35" y="1745.88" width="113.23" height="17.03" fill="#bfbdfb"/><rect x="1066.28" y="1745.88" width="28.53" height="17.03" fill="#aba7fa"/><rect x="1094.51" y="1745.88" width="28.53" height="17.03" fill="#bfbdfb"/><rect x="1122.74" y="1745.88" width="28.53" height="17.03" fill="#958dfa"/><rect x="1150.97" y="1745.88" width="84.99" height="17.03" fill="#bfbdfb"/><rect x="1235.67" y="1745.88" width="28.53" height="17.03" fill="#d0cffb"/><rect x="191.10" y="1762.61" width="28.53" height="17.03" fill="#ee7d88"/><rect x="219.33" y="1762.61" width="56.76" height="17.03" fill="#f0959f"/><rect x="275.79" y="1762.61" width="56.76" height="17.03" fill="#f9dbdd"/><rect x="332.26" y="1762.61" width="28.53" height="17.03" fill="#ee616b"/><rect x="360.49" y="1762.61" width="28.53" height="17.03" fill="#e1e1fc"/><rect x="388.72" y="1762.61" width="56.76" height="17.03" fill="#f3adb5"/><rect x="445.18" y="1762.61" width="28.53" height="17.03" fill="#f6c6cb"/><rect x="473.42" y="1762.61" width="28.53" height="17.03" fill="#f0959f"/><rect x="501.65" y="1762.61" width="28.53" height="17.03" fill="#fceded"/><rect x="529.88" y="1762.61" width="84.99" height="17.03" fill="#e1e1fc"/><rect x="614.57" y="1762.61" width="56.76" height="17.03" fill="#d0cffb"/><rect x="671.04" y="1762.61" width="28.53" height="17.03" fill="#f9dbdd"/><rect x="699.27" y="1762.61" width="28.53" height="17.03" fill="#d0cffb"/><rect x="727.50" y="1762.61" width="28.53" height="17.03" fill="#fffdfd"/><rect x="755.73" y="1762.61" width="28.53" height="17.03" fill="#d0cffb"/><rect x="783.96" y="1762.61" width="28.53" height="17.03" fill="#958dfa"/><rect x="812.19" y="1762.61" width="113.23" height="17.03" fill="#bfbdfb"/><rect x="925.12" y="1762.61" width="56.76" height="17.03" fill="#d0cffb"/><rect x="981.58" y="1762.61" width="28.53" height="17.03" fill="#bfbdfb"/><rect x="1009.82" y="1762.61" width="28.53" height="17.03" fill="#e1e1fc"/><rect x="1038.05" y="1762.61" width="28.53" height="17.03" fill="#aba7fa"/><rect x="1066.28" y="1762.61" width="28.53" height="17.03" fill="#bfbdfb"/><rect x="1094.51" y="1762.61" width="28.53" height="17.03" fill="#958dfa"/><rect x="1122.74" y="1762.61" width="28.53" height="17.03" fill="#aba7fa"/><rect x="1150.97" y="1762.61" width="28.53" height="17.03" fill="#5842f7"/><rect x="1179.21" y="1762.61" width="56.76" height="17.03" fill="#7b6df9"/><rect x="1235.67" y="1762.61" width="28.53" height="17.03" fill="#5842f7"/><rect x="191.10" y="1779.33" width="28.53" height="17.03" fill="#ee7d88"/><rect x="219.33" y="1779.33" width="28.53" height="17.03" fill="#f6c6cb"/><rect x="247.56" y="1779.33" width="28.53" height="17.03" fill="#f3adb5"/><rect x="275.79" y="1779.33" width="28.53" height="17.03" fill="#f0959f"/><rect x="304.03" y="1779.33" width="56.76" height="17.03" fill="#f3adb5"/><rect x="360.49" y="1779.33" width="28.53" height="17.03" fill="#f6c6cb"/><rect x="388.72" y="1779.33" width="28.53" height="17.03" fill="#f0959f"/><rect x="416.95" y="1779.33" width="28.53" height="17.03" fill="#f3adb5"/><rect x="445.18" y="1779.33" width="28.53" height="17.03" fill="#fffdfd"/><rect x="473.42" y="1779.33" width="28.53" height="17.03" fill="#f9dbdd"/><rect x="501.65" y="1779.33" width="56.76" height="17.03" fill="#f1f1fe"/><rect x="558.11" y="1779.33" width="56.76" height="17.03" fill="#fceded"/><rect x="614.57" y="1779.33" width="28.53" height="17.03" fill="#e1e1fc"/><rect x="642.81" y="1779.33" width="56.76" height="17.03" fill="#bfbdfb"/><rect x="699.27" y="1779.33" width="28.53" height="17.03" fill="#f9dbdd"/><rect x="727.50" y="1779.33" width="28.53" height="17.03" fill="#fceded"/><rect x="755.73" y="1779.33" width="28.53" height="17.03" fill="#d0cffb"/><rect x="783.96" y="1779.33" width="28.53" height="17.03" fill="#fffdfd"/><rect x="812.19" y="1779.33" width="28.53" height="17.03" fill="#e1e1fc"/><rect x="840.43" y="1779.33" width="28.53" height="17.03" fill="#bfbdfb"/><rect x="868.66" y="1779.33" width="28.53" height="17.03" fill="#fceded"/><rect x="896.89" y="1779.33" width="28.53" height="17.03" fill="#d0cffb"/><rect x="925.12" y="1779.33" width="28.53" height="17.03" fill="#fffdfd"/><rect x="953.35" y="1779.33" width="56.76" height="17.03" fill="#bfbdfb"/><rect x="1009.82" y="1779.33" width="28.53" height="17.03" fill="#aba7fa"/><rect x="1038.05" y="1779.33" width="56.76" height="17.03" fill="#958dfa"/><rect x="1094.51" y="1779.33" width="28.53" height="17.03" fill="#aba7fa"/><rect x="1122.74" y="1779.33" width="28.53" height="17.03" fill="#958dfa"/><rect x="1150.97" y="1779.33" width="28.53" height="17.03" fill="#7b6df9"/><rect x="1179.21" y="1779.33" width="56.76" height="17.03" fill="#aba7fa"/><rect x="1235.67" y="1779.33" width="28.53" height="17.03" fill="#5842f7"/><rect x="191.10" y="1796.06" width="28.53" height="17.03" fill="#ee616b"/><rect x="219.33" y="1796.06" width="84.99" height="17.03" fill="#ee7d88"/><rect x="304.03" y="1796.06" width="113.23" height="17.03" fill="#f3adb5"/><rect x="416.95" y="1796.06" width="28.53" height="17.03" fill="#f6c6cb"/><rect x="445.18" y="1796.06" width="28.53" height="17.03" fill="#fffdfd"/><rect x="473.42" y="1796.06" width="28.53" height="17.03" fill="#fceded"/><rect x="501.65" y="1796.06" width="28.53" height="17.03" fill="#f1f1fe"/><rect x="529.88" y="1796.06" width="28.53" height="17.03" fill="#e1e1fc"/><rect x="558.11" y="1796.06" width="56.76" height="17.03" fill="#f1f1fe"/><rect x="614.57" y="1796.06" width="28.53" height="17.03" fill="#e1e1fc"/><rect x="642.81" y="1796.06" width="28.53" height="17.03" fill="#bfbdfb"/><rect x="671.04" y="1796.06" width="28.53" height="17.03" fill="#aba7fa"/><rect x="699.27" y="1796.06" width="28.53" height="17.03" fill="#fceded"/><rect x="727.50" y="1796.06" width="56.76" height="17.03" fill="#f9dbdd"/><rect x="783.96" y="1796.06" width="56.76" height="17.03" fill="#fffdfd"/><rect x="840.43" y="1796.06" width="28.53" height="17.03" fill="#bfbdfb"/><rect x="868.66" y="1796.06" width="28.53" height="17.03" fill="#f1f1fe"/><rect x="896.89" y="1796.06" width="84.99" height="17.03" fill="#bfbdfb"/><rect x="981.58" y="1796.06" width="28.53" height="17.03" fill="#aba7fa"/><rect x="1009.82" y="1796.06" width="56.76" height="17.03" fill="#958dfa"/><rect x="1066.28" y="1796.06" width="28.53" height="17.03" fill="#aba7fa"/><rect x="1094.51" y="1796.06" width="28.53" height="17.03" fill="#958dfa"/><rect x="1122.74" y="1796.06" width="113.23" height="17.03" fill="#7b6df9"/><rect x="1235.67" y="1796.06" width="28.53" height="17.03" fill="#5842f7"/><rect x="191.10" y="1812.79" width="28.53" height="17.03" fill="#ee616b"/><rect x="219.33" y="1812.79" width="56.76" height="17.03" fill="#ee7d88"/><rect x="275.79" y="1812.79" width="28.53" height="17.03" fill="#ee616b"/><rect x="304.03" y="1812.79" width="28.53" height="17.03" fill="#f0959f"/><rect x="332.26" y="1812.79" width="56.76" height="17.03" fill="#f3adb5"/><rect x="388.72" y="1812.79" width="28.53" height="17.03" fill="#f9dbdd"/><rect x="416.95" y="1812.79" width="28.53" height="17.03" fill="#f3adb5"/><rect x="445.18" y="1812.79" width="28.53" height="17.03" fill="#f6c6cb"/><rect x="473.42" y="1812.79" width="28.53" height="17.03" fill="#fceded"/><rect x="501.65" y="1812.79" width="113.23" height="17.03" fill="#fffdfd"/><rect x="614.57" y="1812.79" width="28.53" height="17.03" fill="#e1e1fc"/><rect x="642.81" y="1812.79" width="28.53" height="17.03" fill="#d0cffb"/><rect x="671.04" y="1812.79" width="28.53" height="17.03" fill="#aba7fa"/><rect x="699.27" y="1812.79" width="28.53" height="17.03" fill="#fffdfd"/><rect x="727.50" y="1812.79" width="28.53" height="17.03" fill="#f9dbdd"/><rect x="755.73" y="1812.79" width="56.76" height="17.03" fill="#e1e1fc"/><rect x="812.19" y="1812.79" width="28.53" height="17.03" fill="#fffdfd"/><rect x="840.43" y="1812.79" width="56.76" height="17.03" fill="#e1e1fc"/><rect x="896.89" y="1812.79" width="28.53" height="17.03" fill="#bfbdfb"/><rect x="925.12" y="1812.79" width="28.53" height="17.03" fill="#aba7fa"/><rect x="953.35" y="1812.79" width="28.53" height="17.03" fill="#bfbdfb"/><rect x="981.58" y="1812.79" width="28.53" height="17.03" fill="#aba7fa"/><rect x="1009.82" y="1812.79" width="56.76" height="17.03" fill="#958dfa"/><rect x="1066.28" y="1812.79" width="28.53" height="17.03" fill="#aba7fa"/><rect x="1094.51" y="1812.79" width="28.53" height="17.03" fill="#958dfa"/><rect x="1122.74" y="1812.79" width="113.23" height="17.03" fill="#7b6df9"/><rect x="1235.67" y="1812.79" width="28.53" height="17.03" fill="#5842f7"/><rect x="191.10" y="1829.52" width="56.76" height="17.03" fill="#ee7d88"/><rect x="247.56" y="1829.52" width="28.53" height="17.03" fill="#f3adb5"/><rect x="275.79" y="1829.52" width="28.53" height="17.03" fill="#f0959f"/><rect x="304.03" y="1829.52" width="28.53" height="17.03" fill="#f9dbdd"/><rect x="332.26" y="1829.52" width="56.76" height="17.03" fill="#f3adb5"/><rect x="388.72" y="1829.52" width="28.53" height="17.03" fill="#f9dbdd"/><rect x="416.95" y="1829.52" width="56.76" height="17.03" fill="#fceded"/><rect x="473.42" y="1829.52" width="56.76" height="17.03" fill="#f1f1fe"/><rect x="529.88" y="1829.52" width="28.53" height="17.03" fill="#bfbdfb"/><rect x="558.11" y="1829.52" width="56.76" height="17.03" fill="#fffdfd"/><rect x="614.57" y="1829.52" width="28.53" height="17.03" fill="#e1e1fc"/><rect x="642.81" y="1829.52" width="28.53" height="17.03" fill="#d0cffb"/><rect x="671.04" y="1829.52" width="28.53" height="17.03" fill="#958dfa"/><rect x="699.27" y="1829.52" width="28.53" height="17.03" fill="#d0cffb"/><rect x="727.50" y="1829.52" width="56.76" height="17.03" fill="#fffdfd"/><rect x="783.96" y="1829.52" width="56.76" height="17.03" fill="#f1f1fe"/><rect x="840.43" y="1829.52" width="28.53" height="17.03" fill="#bfbdfb"/><rect x="868.66" y="1829.52" width="28.53" height="17.03" fill="#f9dbdd"/><rect x="896.89" y="1829.52" width="56.76" height="17.03" fill="#bfbdfb"/><rect x="953.35" y="1829.52" width="28.53" height="17.03" fill="#d0cffb"/><rect x="981.58" y="1829.52" width="28.53" height="17.03" fill="#bfbdfb"/><rect x="1009.82" y="1829.52" width="28.53" height="17.03" fill="#381ef6"/><rect x="1038.05" y="1829.52" width="28.53" height="17.03" fill="#aba7fa"/><rect x="1066.28" y="1829.52" width="28.53" height="17.03" fill="#bfbdfb"/><rect x="1094.51" y="1829.52" width="28.53" height="17.03" fill="#aba7fa"/><rect x="1122.74" y="1829.52" width="56.76" height="17.03" fill="#958dfa"/><rect x="1179.21" y="1829.52" width="56.76" height="17.03" fill="#7b6df9"/><rect x="1235.67" y="1829.52" width="28.53" height="17.03" fill="#958dfa"/><rect x="191.10" y="1846.25" width="56.76" height="17.03" fill="#ee7d88"/><rect x="247.56" y="1846.25" width="28.53" height="17.03" fill="#f3adb5"/><rect x="275.79" y="1846.25" width="28.53" height="17.03" fill="#f0959f"/><rect x="304.03" y="1846.25" width="28.53" height="17.03" fill="#f9dbdd"/><rect x="332.26" y="1846.25" width="56.76" height="17.03" fill="#f3adb5"/><rect x="388.72" y="1846.25" width="28.53" height="17.03" fill="#f9dbdd"/><rect x="416.95" y="1846.25" width="28.53" height="17.03" fill="#fffdfd"/><rect x="445.18" y="1846.25" width="28.53" height="17.03" fill="#f1f1fe"/><rect x="473.42" y="1846.25" width="56.76" height="17.03" fill="#e1e1fc"/><rect x="529.88" y="1846.25" width="28.53" height="17.03" fill="#aba7fa"/><rect x="558.11" y="1846.25" width="56.76" height="17.03" fill="#fffdfd"/><rect x="614.57" y="1846.25" width="28.53" height="17.03" fill="#e1e1fc"/><rect x="642.81" y="1846.25" width="28.53" height="17.03" fill="#bfbdfb"/><rect x="671.04" y="1846.25" width="28.53" height="17.03" fill="#7b6df9"/><rect x="699.27" y="1846.25" width="28.53" height="17.03" fill="#bfbdfb"/><rect x="727.50" y="1846.25" width="113.23" height="17.03" fill="#fffdfd"/><rect x="840.43" y="1846.25" width="28.53" height="17.03" fill="#bfbdfb"/><rect x="868.66" y="1846.25" width="28.53" height="17.03" fill="#f9dbdd"/><rect x="896.89" y="1846.25" width="56.76" height="17.03" fill="#bfbdfb"/><rect x="953.35" y="1846.25" width="28.53" height="17.03" fill="#d0cffb"/><rect x="981.58" y="1846.25" width="28.53" height="17.03" fill="#bfbdfb"/><rect x="1009.82" y="1846.25" width="28.53" height="17.03" fill="#381ef6"/><rect x="1038.05" y="1846.25" width="28.53" height="17.03" fill="#958dfa"/><rect x="1066.28" y="1846.25" width="28.53" height="17.03" fill="#bfbdfb"/><rect x="1094.51" y="1846.25" width="28.53" height="17.03" fill="#aba7fa"/><rect x="1122.74" y="1846.25" width="56.76" height="17.03" fill="#958dfa"/><rect x="1179.21" y="1846.25" width="56.76" height="17.03" fill="#7b6df9"/><rect x="1235.67" y="1846.25" width="28.53" height="17.03" fill="#958dfa"/><rect x="191.10" y="1862.98" width="28.53" height="17.03" fill="#f0959f"/><rect x="219.33" y="1862.98" width="84.99" height="17.03" fill="#f3adb5"/><rect x="304.03" y="1862.98" width="28.53" height="17.03" fill="#f9dbdd"/><rect x="332.26" y="1862.98" width="56.76" height="17.03" fill="#f6c6cb"/><rect x="388.72" y="1862.98" width="84.99" height="17.03" fill="#fffdfd"/><rect x="473.42" y="1862.98" width="28.53" height="17.03" fill="#e1e1fc"/><rect x="501.65" y="1862.98" width="28.53" height="17.03" fill="#fceded"/><rect x="529.88" y="1862.98" width="28.53" height="17.03" fill="#e1e1fc"/><rect x="558.11" y="1862.98" width="84.99" height="17.03" fill="#f1f1fe"/><rect x="642.81" y="1862.98" width="28.53" height="17.03" fill="#bfbdfb"/><rect x="671.04" y="1862.98" width="28.53" height="17.03" fill="#aba7fa"/><rect x="699.27" y="1862.98" width="28.53" height="17.03" fill="#d0cffb"/><rect x="727.50" y="1862.98" width="28.53" height="17.03" fill="#f1f1fe"/><rect x="755.73" y="1862.98" width="28.53" height="17.03" fill="#fffdfd"/><rect x="783.96" y="1862.98" width="28.53" height="17.03" fill="#e1e1fc"/><rect x="812.19" y="1862.98" width="28.53" height="17.03" fill="#fffdfd"/><rect x="840.43" y="1862.98" width="28.53" height="17.03" fill="#bfbdfb"/><rect x="868.66" y="1862.98" width="28.53" height="17.03" fill="#fffdfd"/><rect x="896.89" y="1862.98" width="56.76" height="17.03" fill="#aba7fa"/><rect x="953.35" y="1862.98" width="28.53" height="17.03" fill="#d0cffb"/><rect x="981.58" y="1862.98" width="28.53" height="17.03" fill="#bfbdfb"/><rect x="1009.82" y="1862.98" width="28.53" height="17.03" fill="#7b6df9"/><rect x="1038.05" y="1862.98" width="28.53" height="17.03" fill="#bfbdfb"/><rect x="1066.28" y="1862.98" width="28.53" height="17.03" fill="#d0cffb"/><rect x="1094.51" y="1862.98" width="28.53" height="17.03" fill="#bfbdfb"/><rect x="1122.74" y="1862.98" width="141.46" height="17.03" fill="#958dfa"/><rect x="191.10" y="1879.71" width="56.76" height="17.03" fill="#ee7d88"/><rect x="247.56" y="1879.71" width="28.53" height="17.03" fill="#f6c6cb"/><rect x="275.79" y="1879.71" width="28.53" height="17.03" fill="#fceded"/><rect x="304.03" y="1879.71" width="28.53" height="17.03" fill="#f9dbdd"/><rect x="332.26" y="1879.71" width="28.53" height="17.03" fill="#f1f1fe"/><rect x="360.49" y="1879.71" width="28.53" height="17.03" fill="#f9dbdd"/><rect x="388.72" y="1879.71" width="28.53" height="17.03" fill="#f62d32"/><rect x="416.95" y="1879.71" width="28.53" height="17.03" fill="#f3adb5"/><rect x="445.18" y="1879.71" width="28.53" height="17.03" fill="#bfbdfb"/><rect x="473.42" y="1879.71" width="28.53" height="17.03" fill="#f1f1fe"/><rect x="501.65" y="1879.71" width="28.53" height="17.03" fill="#f9dbdd"/><rect x="529.88" y="1879.71" width="28.53" height="17.03" fill="#d0cffb"/><rect x="558.11" y="1879.71" width="56.76" height="17.03" fill="#f1f1fe"/><rect x="614.57" y="1879.71" width="28.53" height="17.03" fill="#fffdfd"/><rect x="642.81" y="1879.71" width="28.53" height="17.03" fill="#e1e1fc"/><rect x="671.04" y="1879.71" width="28.53" height="17.03" fill="#aba7fa"/><rect x="699.27" y="1879.71" width="28.53" height="17.03" fill="#d0cffb"/><rect x="727.50" y="1879.71" width="28.53" height="17.03" fill="#fceded"/><rect x="755.73" y="1879.71" width="56.76" height="17.03" fill="#bfbdfb"/><rect x="812.19" y="1879.71" width="28.53" height="17.03" fill="#f1f1fe"/><rect x="840.43" y="1879.71" width="28.53" height="17.03" fill="#fffdfd"/><rect x="868.66" y="1879.71" width="28.53" height="17.03" fill="#d0cffb"/><rect x="896.89" y="1879.71" width="28.53" height="17.03" fill="#fffdfd"/><rect x="925.12" y="1879.71" width="28.53" height="17.03" fill="#bfbdfb"/><rect x="953.35" y="1879.71" width="28.53" height="17.03" fill="#d0cffb"/><rect x="981.58" y="1879.71" width="56.76" height="17.03" fill="#bfbdfb"/><rect x="1038.05" y="1879.71" width="28.53" height="17.03" fill="#aba7fa"/><rect x="1066.28" y="1879.71" width="28.53" height="17.03" fill="#5842f7"/><rect x="1094.51" y="1879.71" width="56.76" height="17.03" fill="#7b6df9"/><rect x="1150.97" y="1879.71" width="56.76" height="17.03" fill="#aba7fa"/><rect x="1207.44" y="1879.71" width="56.76" height="17.03" fill="#958dfa"/><rect x="191.10" y="1896.44" width="28.53" height="17.03" fill="#f6c6cb"/><rect x="219.33" y="1896.44" width="28.53" height="17.03" fill="#fceded"/><rect x="247.56" y="1896.44" width="28.53" height="17.03" fill="#f1f1fe"/><rect x="275.79" y="1896.44" width="28.53" height="17.03" fill="#fceded"/><rect x="304.03" y="1896.44" width="28.53" height="17.03" fill="#fffdfd"/><rect x="332.26" y="1896.44" width="28.53" height="17.03" fill="#f3adb5"/><rect x="360.49" y="1896.44" width="28.53" height="17.03" fill="#e1e1fc"/><rect x="388.72" y="1896.44" width="28.53" height="17.03" fill="#f3adb5"/><rect x="416.95" y="1896.44" width="56.76" height="17.03" fill="#f6c6cb"/><rect x="473.42" y="1896.44" width="28.53" height="17.03" fill="#fffdfd"/><rect x="501.65" y="1896.44" width="28.53" height="17.03" fill="#958dfa"/><rect x="529.88" y="1896.44" width="28.53" height="17.03" fill="#d0cffb"/><rect x="558.11" y="1896.44" width="56.76" height="17.03" fill="#bfbdfb"/><rect x="614.57" y="1896.44" width="28.53" height="17.03" fill="#f1f1fe"/><rect x="642.81" y="1896.44" width="84.99" height="17.03" fill="#d0cffb"/><rect x="727.50" y="1896.44" width="28.53" height="17.03" fill="#fceded"/><rect x="755.73" y="1896.44" width="56.76" height="17.03" fill="#f9dbdd"/><rect x="812.19" y="1896.44" width="28.53" height="17.03" fill="#e1e1fc"/><rect x="840.43" y="1896.44" width="28.53" height="17.03" fill="#bfbdfb"/><rect x="868.66" y="1896.44" width="28.53" height="17.03" fill="#ee616b"/><rect x="896.89" y="1896.44" width="28.53" height="17.03" fill="#f0959f"/><rect x="925.12" y="1896.44" width="28.53" height="17.03" fill="#f1464e"/><rect x="953.35" y="1896.44" width="56.76" height="17.03" fill="#d0cffb"/><rect x="1009.82" y="1896.44" width="28.53" height="17.03" fill="#e1e1fc"/><rect x="1038.05" y="1896.44" width="28.53" height="17.03" fill="#aba7fa"/><rect x="1066.28" y="1896.44" width="28.53" height="17.03" fill="#e1e1fc"/><rect x="1094.51" y="1896.44" width="28.53" height="17.03" fill="#fffdfd"/><rect x="1122.74" y="1896.44" width="28.53" height="17.03" fill="#f1f1fe"/><rect x="1150.97" y="1896.44" width="28.53" height="17.03" fill="#958dfa"/><rect x="1179.21" y="1896.44" width="28.53" height="17.03" fill="#bfbdfb"/><rect x="1207.44" y="1896.44" width="56.76" height="17.03" fill="#f1f1fe"/><rect x="191.10" y="1913.16" width="28.53" height="17.03" fill="#bfbdfb"/><rect x="219.33" y="1913.16" width="56.76" height="17.03" fill="#d0cffb"/><rect x="275.79" y="1913.16" width="56.76" height="17.03" fill="#bfbdfb"/><rect x="332.26" y="1913.16" width="84.99" height="17.03" fill="#d0cffb"/><rect x="416.95" y="1913.16" width="28.53" height="17.03" fill="#bfbdfb"/><rect x="445.18" y="1913.16" width="28.53" height="17.03" fill="#f6c6cb"/><rect x="473.42" y="1913.16" width="56.76" height="17.03" fill="#958dfa"/><rect x="529.88" y="1913.16" width="28.53" height="17.03" fill="#fffdfd"/><rect x="558.11" y="1913.16" width="56.76" height="17.03" fill="#d0cffb"/><rect x="614.57" y="1913.16" width="84.99" height="17.03" fill="#f9dbdd"/><rect x="699.27" y="1913.16" width="28.53" height="17.03" fill="#d0cffb"/><rect x="727.50" y="1913.16" width="28.53" height="17.03" fill="#bfbdfb"/><rect x="755.73" y="1913.16" width="28.53" height="17.03" fill="#f9dbdd"/><rect x="783.96" y="1913.16" width="28.53" height="17.03" fill="#5842f7"/><rect x="812.19" y="1913.16" width="28.53" height="17.03" fill="#d0cffb"/><rect x="840.43" y="1913.16" width="28.53" height="17.03" fill="#fffdfd"/><rect x="868.66" y="1913.16" width="28.53" height="17.03" fill="#ee616b"/><rect x="896.89" y="1913.16" width="28.53" height="17.03" fill="#f0959f"/><rect x="925.12" y="1913.16" width="56.76" height="17.03" fill="#d0cffb"/><rect x="981.58" y="1913.16" width="28.53" height="17.03" fill="#f1464e"/><rect x="1009.82" y="1913.16" width="28.53" height="17.03" fill="#e1e1fc"/><rect x="1038.05" y="1913.16" width="28.53" height="17.03" fill="#fceded"/><rect x="1066.28" y="1913.16" width="28.53" height="17.03" fill="#e1e1fc"/><rect x="1094.51" y="1913.16" width="56.76" height="17.03" fill="#fffdfd"/><rect x="1150.97" y="1913.16" width="28.53" height="17.03" fill="#e1e1fc"/><rect x="1179.21" y="1913.16" width="28.53" height="17.03" fill="#f1f1fe"/><rect x="1207.44" y="1913.16" width="56.76" height="17.03" fill="#e1e1fc"/><rect x="191.10" y="1929.89" width="28.53" height="17.03" fill="#fceded"/><rect x="219.33" y="1929.89" width="28.53" height="17.03" fill="#e1e1fc"/><rect x="247.56" y="1929.89" width="28.53" height="17.03" fill="#d0cffb"/><rect x="275.79" y="1929.89" width="28.53" height="17.03" fill="#f6c6cb"/><rect x="304.03" y="1929.89" width="28.53" height="17.03" fill="#f9dbdd"/><rect x="332.26" y="1929.89" width="56.76" height="17.03" fill="#d0cffb"/><rect x="388.72" y="1929.89" width="28.53" height="17.03" fill="#e1e1fc"/><rect x="416.95" y="1929.89" width="28.53" height="17.03" fill="#bfbdfb"/><rect x="445.18" y="1929.89" width="28.53" height="17.03" fill="#958dfa"/><rect x="473.42" y="1929.89" width="28.53" height="17.03" fill="#f1f1fe"/><rect x="501.65" y="1929.89" width="56.76" height="17.03" fill="#aba7fa"/><rect x="558.11" y="1929.89" width="84.99" height="17.03" fill="#d0cffb"/><rect x="642.81" y="1929.89" width="28.53" height="17.03" fill="#e1e1fc"/><rect x="671.04" y="1929.89" width="28.53" height="17.03" fill="#bfbdfb"/><rect x="699.27" y="1929.89" width="28.53" height="17.03" fill="#d0cffb"/><rect x="727.50" y="1929.89" width="28.53" height="17.03" fill="#f9dbdd"/><rect x="755.73" y="1929.89" width="56.76" height="17.03" fill="#f6c6cb"/><rect x="812.19" y="1929.89" width="56.76" height="17.03" fill="#e1e1fc"/><rect x="868.66" y="1929.89" width="28.53" height="17.03" fill="#f9dbdd"/><rect x="896.89" y="1929.89" width="28.53" height="17.03" fill="#bfbdfb"/><rect x="925.12" y="1929.89" width="28.53" height="17.03" fill="#f6c6cb"/><rect x="953.35" y="1929.89" width="56.76" height="17.03" fill="#bfbdfb"/><rect x="1009.82" y="1929.89" width="28.53" height="17.03" fill="#d0cffb"/><rect x="1038.05" y="1929.89" width="28.53" height="17.03" fill="#bfbdfb"/><rect x="1066.28" y="1929.89" width="56.76" height="17.03" fill="#f1f1fe"/><rect x="1122.74" y="1929.89" width="84.99" height="17.03" fill="#bfbdfb"/><rect x="1207.44" y="1929.89" width="28.53" height="17.03" fill="#aba7fa"/><rect x="1235.67" y="1929.89" width="28.53" height="17.03" fill="#bfbdfb"/><rect x="191.10" y="1946.62" width="28.53" height="17.03" fill="#f9dbdd"/><rect x="219.33" y="1946.62" width="56.76" height="17.03" fill="#fceded"/><rect x="275.79" y="1946.62" width="28.53" height="17.03" fill="#f6c6cb"/><rect x="304.03" y="1946.62" width="28.53" height="17.03" fill="#f9dbdd"/><rect x="332.26" y="1946.62" width="28.53" height="17.03" fill="#f1f1fe"/><rect x="360.49" y="1946.62" width="56.76" height="17.03" fill="#e1e1fc"/><rect x="416.95" y="1946.62" width="28.53" height="17.03" fill="#f1f1fe"/><rect x="445.18" y="1946.62" width="56.76" height="17.03" fill="#d0cffb"/><rect x="501.65" y="1946.62" width="28.53" height="17.03" fill="#e1e1fc"/><rect x="529.88" y="1946.62" width="28.53" height="17.03" fill="#fffdfd"/><rect x="558.11" y="1946.62" width="56.76" height="17.03" fill="#e1e1fc"/><rect x="614.57" y="1946.62" width="28.53" height="17.03" fill="#d0cffb"/><rect x="642.81" y="1946.62" width="28.53" height="17.03" fill="#aba7fa"/><rect x="671.04" y="1946.62" width="28.53" height="17.03" fill="#bfbdfb"/><rect x="699.27" y="1946.62" width="28.53" height="17.03" fill="#ee616b"/><rect x="727.50" y="1946.62" width="56.76" height="17.03" fill="#fffdfd"/><rect x="783.96" y="1946.62" width="28.53" height="17.03" fill="#f1f1fe"/><rect x="812.19" y="1946.62" width="28.53" height="17.03" fill="#fceded"/><rect x="840.43" y="1946.62" width="28.53" height="17.03" fill="#e1e1fc"/><rect x="868.66" y="1946.62" width="56.76" height="17.03" fill="#bfbdfb"/><rect x="925.12" y="1946.62" width="28.53" height="17.03" fill="#aba7fa"/><rect x="953.35" y="1946.62" width="28.53" height="17.03" fill="#d0cffb"/><rect x="981.58" y="1946.62" width="28.53" height="17.03" fill="#bfbdfb"/><rect x="1009.82" y="1946.62" width="28.53" height="17.03" fill="#d0cffb"/><rect x="1038.05" y="1946.62" width="28.53" height="17.03" fill="#aba7fa"/><rect x="1066.28" y="1946.62" width="28.53" height="17.03" fill="#d0cffb"/><rect x="1094.51" y="1946.62" width="28.53" height="17.03" fill="#bfbdfb"/><rect x="1122.74" y="1946.62" width="28.53" height="17.03" fill="#aba7fa"/><rect x="1150.97" y="1946.62" width="28.53" height="17.03" fill="#d0cffb"/><rect x="1179.21" y="1946.62" width="56.76" height="17.03" fill="#aba7fa"/><rect x="1235.67" y="1946.62" width="28.53" height="17.03" fill="#7b6df9"/><rect x="191.10" y="1963.35" width="28.53" height="17.03" fill="#fffdfd"/><rect x="219.33" y="1963.35" width="56.76" height="17.03" fill="#d0cffb"/><rect x="275.79" y="1963.35" width="28.53" height="17.03" fill="#f9dbdd"/><rect x="304.03" y="1963.35" width="28.53" height="17.03" fill="#fceded"/><rect x="332.26" y="1963.35" width="28.53" height="17.03" fill="#d0cffb"/><rect x="360.49" y="1963.35" width="56.76" height="17.03" fill="#bfbdfb"/><rect x="416.95" y="1963.35" width="28.53" height="17.03" fill="#f1f1fe"/><rect x="445.18" y="1963.35" width="28.53" height="17.03" fill="#958dfa"/><rect x="473.42" y="1963.35" width="56.76" height="17.03" fill="#aba7fa"/><rect x="529.88" y="1963.35" width="28.53" height="17.03" fill="#f1f1fe"/><rect x="558.11" y="1963.35" width="56.76" height="17.03" fill="#d0cffb"/><rect x="614.57" y="1963.35" width="84.99" height="17.03" fill="#aba7fa"/><rect x="699.27" y="1963.35" width="28.53" height="17.03" fill="#ee616b"/><rect x="727.50" y="1963.35" width="28.53" height="17.03" fill="#f9dbdd"/><rect x="755.73" y="1963.35" width="28.53" height="17.03" fill="#fffdfd"/><rect x="783.96" y="1963.35" width="28.53" height="17.03" fill="#f1f1fe"/><rect x="812.19" y="1963.35" width="28.53" height="17.03" fill="#f3adb5"/><rect x="840.43" y="1963.35" width="28.53" height="17.03" fill="#fceded"/><rect x="868.66" y="1963.35" width="56.76" height="17.03" fill="#bfbdfb"/><rect x="925.12" y="1963.35" width="28.53" height="17.03" fill="#958dfa"/><rect x="953.35" y="1963.35" width="28.53" height="17.03" fill="#d0cffb"/><rect x="981.58" y="1963.35" width="28.53" height="17.03" fill="#bfbdfb"/><rect x="1009.82" y="1963.35" width="28.53" height="17.03" fill="#e1e1fc"/><rect x="1038.05" y="1963.35" width="28.53" height="17.03" fill="#aba7fa"/><rect x="1066.28" y="1963.35" width="28.53" height="17.03" fill="#d0cffb"/><rect x="1094.51" y="1963.35" width="28.53" height="17.03" fill="#e1e1fc"/><rect x="1122.74" y="1963.35" width="28.53" height="17.03" fill="#aba7fa"/><rect x="1150.97" y="1963.35" width="28.53" height="17.03" fill="#bfbdfb"/><rect x="1179.21" y="1963.35" width="84.99" height="17.03" fill="#aba7fa"/><rect x="191.10" y="1980.08" width="28.53" height="17.03" fill="#e1e1fc"/><rect x="219.33" y="1980.08" width="28.53" height="17.03" fill="#f9dbdd"/><rect x="247.56" y="1980.08" width="28.53" height="17.03" fill="#fceded"/><rect x="275.79" y="1980.08" width="28.53" height="17.03" fill="#d0cffb"/><rect x="304.03" y="1980.08" width="28.53" height="17.03" fill="#aba7fa"/><rect x="332.26" y="1980.08" width="28.53" height="17.03" fill="#d0cffb"/><rect x="360.49" y="1980.08" width="28.53" height="17.03" fill="#fffdfd"/><rect x="388.72" y="1980.08" width="28.53" height="17.03" fill="#d0cffb"/><rect x="416.95" y="1980.08" width="28.53" height="17.03" fill="#aba7fa"/><rect x="445.18" y="1980.08" width="28.53" height="17.03" fill="#e1e1fc"/><rect x="473.42" y="1980.08" width="28.53" height="17.03" fill="#fffdfd"/><rect x="501.65" y="1980.08" width="28.53" height="17.03" fill="#fceded"/><rect x="529.88" y="1980.08" width="28.53" height="17.03" fill="#aba7fa"/><rect x="558.11" y="1980.08" width="56.76" height="17.03" fill="#fffdfd"/><rect x="614.57" y="1980.08" width="28.53" height="17.03" fill="#f1f1fe"/><rect x="642.81" y="1980.08" width="28.53" height="17.03" fill="#f9dbdd"/><rect x="671.04" y="1980.08" width="56.76" height="17.03" fill="#d0cffb"/><rect x="727.50" y="1980.08" width="28.53" height="17.03" fill="#bfbdfb"/><rect x="755.73" y="1980.08" width="28.53" height="17.03" fill="#fffdfd"/><rect x="783.96" y="1980.08" width="28.53" height="17.03" fill="#aba7fa"/><rect x="812.19" y="1980.08" width="28.53" height="17.03" fill="#fffdfd"/><rect x="840.43" y="1980.08" width="28.53" height="17.03" fill="#aba7fa"/><rect x="868.66" y="1980.08" width="84.99" height="17.03" fill="#bfbdfb"/><rect x="953.35" y="1980.08" width="28.53" height="17.03" fill="#d0cffb"/><rect x="981.58" y="1980.08" width="28.53" height="17.03" fill="#bfbdfb"/><rect x="1009.82" y="1980.08" width="56.76" height="17.03" fill="#d0cffb"/><rect x="1066.28" y="1980.08" width="28.53" height="17.03" fill="#958dfa"/><rect x="1094.51" y="1980.08" width="28.53" height="17.03" fill="#bfbdfb"/><rect x="1122.74" y="1980.08" width="28.53" height="17.03" fill="#e1e1fc"/><rect x="1150.97" y="1980.08" width="28.53" height="17.03" fill="#7b6df9"/><rect x="1179.21" y="1980.08" width="84.99" height="17.03" fill="#bfbdfb"/><rect x="191.10" y="1996.81" width="84.99" height="17.03" fill="#d0cffb"/><rect x="275.79" y="1996.81" width="28.53" height="17.03" fill="#fffdfd"/><rect x="304.03" y="1996.81" width="28.53" height="17.03" fill="#bfbdfb"/><rect x="332.26" y="1996.81" width="28.53" height="17.03" fill="#d0cffb"/><rect x="360.49" y="1996.81" width="28.53" height="17.03" fill="#fceded"/><rect x="388.72" y="1996.81" width="28.53" height="17.03" fill="#d0cffb"/><rect x="416.95" y="1996.81" width="28.53" height="17.03" fill="#bfbdfb"/><rect x="445.18" y="1996.81" width="28.53" height="17.03" fill="#fceded"/><rect x="473.42" y="1996.81" width="28.53" height="17.03" fill="#d0cffb"/><rect x="501.65" y="1996.81" width="28.53" height="17.03" fill="#958dfa"/><rect x="529.88" y="1996.81" width="28.53" height="17.03" fill="#d0cffb"/><rect x="558.11" y="1996.81" width="56.76" height="17.03" fill="#f1f1fe"/><rect x="614.57" y="1996.81" width="28.53" height="17.03" fill="#bfbdfb"/><rect x="642.81" y="1996.81" width="84.99" height="17.03" fill="#d0cffb"/><rect x="727.50" y="1996.81" width="84.99" height="17.03" fill="#bfbdfb"/><rect x="812.19" y="1996.81" width="28.53" height="17.03" fill="#f1f1fe"/><rect x="840.43" y="1996.81" width="28.53" height="17.03" fill="#aba7fa"/><rect x="868.66" y="1996.81" width="56.76" height="17.03" fill="#bfbdfb"/><rect x="925.12" y="1996.81" width="28.53" height="17.03" fill="#aba7fa"/><rect x="953.35" y="1996.81" width="28.53" height="17.03" fill="#fceded"/><rect x="981.58" y="1996.81" width="28.53" height="17.03" fill="#bfbdfb"/><rect x="1009.82" y="1996.81" width="28.53" height="17.03" fill="#e1e1fc"/><rect x="1038.05" y="1996.81" width="28.53" height="17.03" fill="#aba7fa"/><rect x="1066.28" y="1996.81" width="84.99" height="17.03" fill="#fffdfd"/><rect x="1150.97" y="1996.81" width="28.53" height="17.03" fill="#e1e1fc"/><rect x="1179.21" y="1996.81" width="56.76" height="17.03" fill="#d0cffb"/><rect x="1235.67" y="1996.81" width="28.53" height="17.03" fill="#e1e1fc"/><rect x="191.10" y="2013.54" width="28.53" height="17.03" fill="#e1e1fc"/><rect x="219.33" y="2013.54" width="28.53" height="17.03" fill="#fffdfd"/><rect x="247.56" y="2013.54" width="56.76" height="17.03" fill="#e1e1fc"/><rect x="304.03" y="2013.54" width="28.53" height="17.03" fill="#f1f1fe"/><rect x="332.26" y="2013.54" width="28.53" height="17.03" fill="#e1e1fc"/><rect x="360.49" y="2013.54" width="28.53" height="17.03" fill="#fceded"/><rect x="388.72" y="2013.54" width="56.76" height="17.03" fill="#d0cffb"/><rect x="445.18" y="2013.54" width="28.53" height="17.03" fill="#958dfa"/><rect x="473.42" y="2013.54" width="84.99" height="17.03" fill="#aba7fa"/><rect x="558.11" y="2013.54" width="56.76" height="17.03" fill="#bfbdfb"/><rect x="614.57" y="2013.54" width="56.76" height="17.03" fill="#d0cffb"/><rect x="671.04" y="2013.54" width="28.53" height="17.03" fill="#7b6df9"/><rect x="699.27" y="2013.54" width="28.53" height="17.03" fill="#d0cffb"/><rect x="727.50" y="2013.54" width="28.53" height="17.03" fill="#bfbdfb"/><rect x="755.73" y="2013.54" width="28.53" height="17.03" fill="#fffdfd"/><rect x="783.96" y="2013.54" width="28.53" height="17.03" fill="#e1e1fc"/><rect x="812.19" y="2013.54" width="56.76" height="17.03" fill="#aba7fa"/><rect x="868.66" y="2013.54" width="28.53" height="17.03" fill="#d0cffb"/><rect x="896.89" y="2013.54" width="28.53" height="17.03" fill="#bfbdfb"/><rect x="925.12" y="2013.54" width="28.53" height="17.03" fill="#f1f1fe"/><rect x="953.35" y="2013.54" width="84.99" height="17.03" fill="#bfbdfb"/><rect x="1038.05" y="2013.54" width="28.53" height="17.03" fill="#fffdfd"/><rect x="1066.28" y="2013.54" width="28.53" height="17.03" fill="#f1f1fe"/><rect x="1094.51" y="2013.54" width="28.53" height="17.03" fill="#d0cffb"/><rect x="1122.74" y="2013.54" width="56.76" height="17.03" fill="#e1e1fc"/><rect x="1179.21" y="2013.54" width="84.99" height="17.03" fill="#d0cffb"/><rect x="191.10" y="2030.27" width="28.53" height="17.03" fill="#e1e1fc"/><rect x="219.33" y="2030.27" width="56.76" height="17.03" fill="#d0cffb"/><rect x="275.79" y="2030.27" width="56.76" height="17.03" fill="#e1e1fc"/><rect x="332.26" y="2030.27" width="56.76" height="17.03" fill="#bfbdfb"/><rect x="388.72" y="2030.27" width="56.76" height="17.03" fill="#d0cffb"/><rect x="445.18" y="2030.27" width="28.53" height="17.03" fill="#958dfa"/><rect x="473.42" y="2030.27" width="28.53" height="17.03" fill="#d0cffb"/><rect x="501.65" y="2030.27" width="56.76" height="17.03" fill="#aba7fa"/><rect x="558.11" y="2030.27" width="56.76" height="17.03" fill="#bfbdfb"/><rect x="614.57" y="2030.27" width="28.53" height="17.03" fill="#d0cffb"/><rect x="642.81" y="2030.27" width="113.23" height="17.03" fill="#bfbdfb"/><rect x="755.73" y="2030.27" width="28.53" height="17.03" fill="#f1f1fe"/><rect x="783.96" y="2030.27" width="28.53" height="17.03" fill="#aba7fa"/><rect x="812.19" y="2030.27" width="28.53" height="17.03" fill="#bfbdfb"/><rect x="840.43" y="2030.27" width="28.53" height="17.03" fill="#aba7fa"/><rect x="868.66" y="2030.27" width="56.76" height="17.03" fill="#bfbdfb"/><rect x="925.12" y="2030.27" width="28.53" height="17.03" fill="#7b6df9"/><rect x="953.35" y="2030.27" width="56.76" height="17.03" fill="#bfbdfb"/><rect x="1009.82" y="2030.27" width="28.53" height="17.03" fill="#e1e1fc"/><rect x="1038.05" y="2030.27" width="56.76" height="17.03" fill="#bfbdfb"/><rect x="1094.51" y="2030.27" width="28.53" height="17.03" fill="#958dfa"/><rect x="1122.74" y="2030.27" width="56.76" height="17.03" fill="#d0cffb"/><rect x="1179.21" y="2030.27" width="28.53" height="17.03" fill="#aba7fa"/><rect x="1207.44" y="2030.27" width="56.76" height="17.03" fill="#bfbdfb"/><rect x="191.10" y="2046.99" width="28.53" height="17.03" fill="#d0cffb"/><rect x="219.33" y="2046.99" width="56.76" height="17.03" fill="#e1e1fc"/><rect x="275.79" y="2046.99" width="84.99" height="17.03" fill="#bfbdfb"/><rect x="360.49" y="2046.99" width="28.53" height="17.03" fill="#d0cffb"/><rect x="388.72" y="2046.99" width="28.53" height="17.03" fill="#e1e1fc"/><rect x="416.95" y="2046.99" width="28.53" height="17.03" fill="#bfbdfb"/><rect x="445.18" y="2046.99" width="28.53" height="17.03" fill="#aba7fa"/><rect x="473.42" y="2046.99" width="28.53" height="17.03" fill="#fffdfd"/><rect x="501.65" y="2046.99" width="28.53" height="17.03" fill="#f9dbdd"/><rect x="529.88" y="2046.99" width="28.53" height="17.03" fill="#d0cffb"/><rect x="558.11" y="2046.99" width="56.76" height="17.03" fill="#fceded"/><rect x="614.57" y="2046.99" width="28.53" height="17.03" fill="#d0cffb"/><rect x="642.81" y="2046.99" width="28.53" height="17.03" fill="#bfbdfb"/><rect x="671.04" y="2046.99" width="28.53" height="17.03" fill="#d0cffb"/><rect x="699.27" y="2046.99" width="28.53" height="17.03" fill="#e1e1fc"/><rect x="727.50" y="2046.99" width="56.76" height="17.03" fill="#bfbdfb"/><rect x="783.96" y="2046.99" width="28.53" height="17.03" fill="#f1f1fe"/><rect x="812.19" y="2046.99" width="28.53" height="17.03" fill="#d0cffb"/><rect x="840.43" y="2046.99" width="28.53" height="17.03" fill="#fffdfd"/><rect x="868.66" y="2046.99" width="56.76" height="17.03" fill="#bfbdfb"/><rect x="925.12" y="2046.99" width="28.53" height="17.03" fill="#fffdfd"/><rect x="953.35" y="2046.99" width="56.76" height="17.03" fill="#bfbdfb"/><rect x="1009.82" y="2046.99" width="28.53" height="17.03" fill="#e1e1fc"/><rect x="1038.05" y="2046.99" width="56.76" height="17.03" fill="#d0cffb"/><rect x="1094.51" y="2046.99" width="28.53" height="17.03" fill="#958dfa"/><rect x="1122.74" y="2046.99" width="28.53" height="17.03" fill="#d0cffb"/><rect x="1150.97" y="2046.99" width="28.53" height="17.03" fill="#e1e1fc"/><rect x="1179.21" y="2046.99" width="56.76" height="17.03" fill="#d0cffb"/><rect x="1235.67" y="2046.99" width="28.53" height="17.03" fill="#e1e1fc"/><rect x="191.10" y="2063.72" width="28.53" height="17.03" fill="#e1e1fc"/><rect x="219.33" y="2063.72" width="28.53" height="17.03" fill="#d0cffb"/><rect x="247.56" y="2063.72" width="28.53" height="17.03" fill="#e1e1fc"/><rect x="275.79" y="2063.72" width="56.76" height="17.03" fill="#bfbdfb"/><rect x="332.26" y="2063.72" width="28.53" height="17.03" fill="#d0cffb"/><rect x="360.49" y="2063.72" width="28.53" height="17.03" fill="#bfbdfb"/><rect x="388.72" y="2063.72" width="28.53" height="17.03" fill="#e1e1fc"/><rect x="416.95" y="2063.72" width="28.53" height="17.03" fill="#f1f1fe"/><rect x="445.18" y="2063.72" width="28.53" height="17.03" fill="#958dfa"/><rect x="473.42" y="2063.72" width="28.53" height="17.03" fill="#fceded"/><rect x="501.65" y="2063.72" width="28.53" height="17.03" fill="#fffdfd"/><rect x="529.88" y="2063.72" width="28.53" height="17.03" fill="#e1e1fc"/><rect x="558.11" y="2063.72" width="56.76" height="17.03" fill="#fceded"/><rect x="614.57" y="2063.72" width="28.53" height="17.03" fill="#e1e1fc"/><rect x="642.81" y="2063.72" width="56.76" height="17.03" fill="#bfbdfb"/><rect x="699.27" y="2063.72" width="28.53" height="17.03" fill="#d0cffb"/><rect x="727.50" y="2063.72" width="84.99" height="17.03" fill="#bfbdfb"/><rect x="812.19" y="2063.72" width="28.53" height="17.03" fill="#fceded"/><rect x="840.43" y="2063.72" width="28.53" height="17.03" fill="#958dfa"/><rect x="868.66" y="2063.72" width="56.76" height="17.03" fill="#bfbdfb"/><rect x="925.12" y="2063.72" width="28.53" height="17.03" fill="#aba7fa"/><rect x="953.35" y="2063.72" width="56.76" height="17.03" fill="#bfbdfb"/><rect x="1009.82" y="2063.72" width="28.53" height="17.03" fill="#e1e1fc"/><rect x="1038.05" y="2063.72" width="28.53" height="17.03" fill="#f9dbdd"/><rect x="1066.28" y="2063.72" width="56.76" height="17.03" fill="#bfbdfb"/><rect x="1122.74" y="2063.72" width="28.53" height="17.03" fill="#aba7fa"/><rect x="1150.97" y="2063.72" width="28.53" height="17.03" fill="#d0cffb"/><rect x="1179.21" y="2063.72" width="28.53" height="17.03" fill="#bfbdfb"/><rect x="1207.44" y="2063.72" width="28.53" height="17.03" fill="#d0cffb"/><rect x="1235.67" y="2063.72" width="28.53" height="17.03" fill="#aba7fa"/><rect x="191.10" y="2080.45" width="28.53" height="17.03" fill="#e1e1fc"/><rect x="219.33" y="2080.45" width="28.53" height="17.03" fill="#d0cffb"/><rect x="247.56" y="2080.45" width="28.53" height="17.03" fill="#fceded"/><rect x="275.79" y="2080.45" width="56.76" height="17.03" fill="#bfbdfb"/><rect x="332.26" y="2080.45" width="84.99" height="17.03" fill="#d0cffb"/><rect x="416.95" y="2080.45" width="28.53" height="17.03" fill="#bfbdfb"/><rect x="445.18" y="2080.45" width="28.53" height="17.03" fill="#958dfa"/><rect x="473.42" y="2080.45" width="28.53" height="17.03" fill="#e1e1fc"/><rect x="501.65" y="2080.45" width="56.76" height="17.03" fill="#aba7fa"/><rect x="558.11" y="2080.45" width="56.76" height="17.03" fill="#bfbdfb"/><rect x="614.57" y="2080.45" width="28.53" height="17.03" fill="#aba7fa"/><rect x="642.81" y="2080.45" width="28.53" height="17.03" fill="#bfbdfb"/><rect x="671.04" y="2080.45" width="28.53" height="17.03" fill="#aba7fa"/><rect x="699.27" y="2080.45" width="28.53" height="17.03" fill="#d0cffb"/><rect x="727.50" y="2080.45" width="28.53" height="17.03" fill="#e1e1fc"/><rect x="755.73" y="2080.45" width="28.53" height="17.03" fill="#aba7fa"/><rect x="783.96" y="2080.45" width="28.53" height="17.03" fill="#fffdfd"/><rect x="812.19" y="2080.45" width="28.53" height="17.03" fill="#aba7fa"/><rect x="840.43" y="2080.45" width="56.76" height="17.03" fill="#bfbdfb"/><rect x="896.89" y="2080.45" width="28.53" height="17.03" fill="#f3adb5"/><rect x="925.12" y="2080.45" width="28.53" height="17.03" fill="#bfbdfb"/><rect x="953.35" y="2080.45" width="28.53" height="17.03" fill="#d0cffb"/><rect x="981.58" y="2080.45" width="28.53" height="17.03" fill="#bfbdfb"/><rect x="1009.82" y="2080.45" width="56.76" height="17.03" fill="#e1e1fc"/><rect x="1066.28" y="2080.45" width="28.53" height="17.03" fill="#d0cffb"/><rect x="1094.51" y="2080.45" width="56.76" height="17.03" fill="#958dfa"/><rect x="1150.97" y="2080.45" width="28.53" height="17.03" fill="#d0cffb"/><rect x="1179.21" y="2080.45" width="56.76" height="17.03" fill="#aba7fa"/><rect x="1235.67" y="2080.45" width="28.53" height="17.03" fill="#d0cffb"/><rect x="191.10" y="2097.18" width="28.53" height="17.03" fill="#d0cffb"/><rect x="219.33" y="2097.18" width="28.53" height="17.03" fill="#e1e1fc"/><rect x="247.56" y="2097.18" width="56.76" height="17.03" fill="#d0cffb"/><rect x="304.03" y="2097.18" width="28.53" height="17.03" fill="#bfbdfb"/><rect x="332.26" y="2097.18" width="84.99" height="17.03" fill="#e1e1fc"/><rect x="416.95" y="2097.18" width="28.53" height="17.03" fill="#d0cffb"/><rect x="445.18" y="2097.18" width="28.53" height="17.03" fill="#958dfa"/><rect x="473.42" y="2097.18" width="28.53" height="17.03" fill="#f1f1fe"/><rect x="501.65" y="2097.18" width="28.53" height="17.03" fill="#aba7fa"/><rect x="529.88" y="2097.18" width="28.53" height="17.03" fill="#958dfa"/><rect x="558.11" y="2097.18" width="84.99" height="17.03" fill="#bfbdfb"/><rect x="642.81" y="2097.18" width="28.53" height="17.03" fill="#aba7fa"/><rect x="671.04" y="2097.18" width="28.53" height="17.03" fill="#bfbdfb"/><rect x="699.27" y="2097.18" width="28.53" height="17.03" fill="#f1464e"/><rect x="727.50" y="2097.18" width="28.53" height="17.03" fill="#aba7fa"/><rect x="755.73" y="2097.18" width="28.53" height="17.03" fill="#bfbdfb"/><rect x="783.96" y="2097.18" width="28.53" height="17.03" fill="#fceded"/><rect x="812.19" y="2097.18" width="28.53" height="17.03" fill="#aba7fa"/><rect x="840.43" y="2097.18" width="28.53" height="17.03" fill="#958dfa"/><rect x="868.66" y="2097.18" width="56.76" height="17.03" fill="#bfbdfb"/><rect x="925.12" y="2097.18" width="28.53" height="17.03" fill="#fceded"/><rect x="953.35" y="2097.18" width="56.76" height="17.03" fill="#bfbdfb"/><rect x="1009.82" y="2097.18" width="28.53" height="17.03" fill="#d0cffb"/><rect x="1038.05" y="2097.18" width="28.53" height="17.03" fill="#bfbdfb"/><rect x="1066.28" y="2097.18" width="28.53" height="17.03" fill="#f1f1fe"/><rect x="1094.51" y="2097.18" width="28.53" height="17.03" fill="#e1e1fc"/><rect x="1122.74" y="2097.18" width="28.53" height="17.03" fill="#d0cffb"/><rect x="1150.97" y="2097.18" width="56.76" height="17.03" fill="#f1f1fe"/><rect x="1207.44" y="2097.18" width="56.76" height="17.03" fill="#d0cffb"/><rect x="191.10" y="2113.91" width="56.76" height="17.03" fill="#d0cffb"/><rect x="247.56" y="2113.91" width="28.53" height="17.03" fill="#bfbdfb"/><rect x="275.79" y="2113.91" width="28.53" height="17.03" fill="#fffdfd"/><rect x="304.03" y="2113.91" width="28.53" height="17.03" fill="#e1e1fc"/><rect x="332.26" y="2113.91" width="28.53" height="17.03" fill="#d0cffb"/><rect x="360.49" y="2113.91" width="28.53" height="17.03" fill="#bfbdfb"/><rect x="388.72" y="2113.91" width="28.53" height="17.03" fill="#e1e1fc"/><rect x="416.95" y="2113.91" width="28.53" height="17.03" fill="#d0cffb"/><rect x="445.18" y="2113.91" width="28.53" height="17.03" fill="#f9dbdd"/><rect x="473.42" y="2113.91" width="56.76" height="17.03" fill="#aba7fa"/><rect x="529.88" y="2113.91" width="84.99" height="17.03" fill="#d0cffb"/><rect x="614.57" y="2113.91" width="56.76" height="17.03" fill="#aba7fa"/><rect x="671.04" y="2113.91" width="28.53" height="17.03" fill="#958dfa"/><rect x="699.27" y="2113.91" width="28.53" height="17.03" fill="#f3adb5"/><rect x="727.50" y="2113.91" width="56.76" height="17.03" fill="#d0cffb"/><rect x="783.96" y="2113.91" width="28.53" height="17.03" fill="#fffdfd"/><rect x="812.19" y="2113.91" width="28.53" height="17.03" fill="#bfbdfb"/><rect x="840.43" y="2113.91" width="28.53" height="17.03" fill="#958dfa"/><rect x="868.66" y="2113.91" width="56.76" height="17.03" fill="#bfbdfb"/><rect x="925.12" y="2113.91" width="28.53" height="17.03" fill="#f1f1fe"/><rect x="953.35" y="2113.91" width="56.76" height="17.03" fill="#bfbdfb"/><rect x="1009.82" y="2113.91" width="28.53" height="17.03" fill="#1600ff"/><rect x="1038.05" y="2113.91" width="28.53" height="17.03" fill="#aba7fa"/><rect x="1066.28" y="2113.91" width="28.53" height="17.03" fill="#fffdfd"/><rect x="1094.51" y="2113.91" width="28.53" height="17.03" fill="#e1e1fc"/><rect x="1122.74" y="2113.91" width="28.53" height="17.03" fill="#fffdfd"/><rect x="1150.97" y="2113.91" width="56.76" height="17.03" fill="#d0cffb"/><rect x="1207.44" y="2113.91" width="28.53" height="17.03" fill="#fffdfd"/><rect x="1235.67" y="2113.91" width="28.53" height="17.03" fill="#e1e1fc"/><rect x="191.10" y="2130.64" width="56.76" height="17.03" fill="#e1e1fc"/><rect x="247.56" y="2130.64" width="28.53" height="17.03" fill="#d0cffb"/><rect x="275.79" y="2130.64" width="28.53" height="17.03" fill="#fffdfd"/><rect x="304.03" y="2130.64" width="28.53" height="17.03" fill="#d0cffb"/><rect x="332.26" y="2130.64" width="28.53" height="17.03" fill="#e1e1fc"/><rect x="360.49" y="2130.64" width="28.53" height="17.03" fill="#f1f1fe"/><rect x="388.72" y="2130.64" width="28.53" height="17.03" fill="#e1e1fc"/><rect x="416.95" y="2130.64" width="28.53" height="17.03" fill="#d0cffb"/><rect x="445.18" y="2130.64" width="28.53" height="17.03" fill="#fceded"/><rect x="473.42" y="2130.64" width="28.53" height="17.03" fill="#e1e1fc"/><rect x="501.65" y="2130.64" width="28.53" height="17.03" fill="#f9dbdd"/><rect x="529.88" y="2130.64" width="28.53" height="17.03" fill="#f0959f"/><rect x="558.11" y="2130.64" width="56.76" height="17.03" fill="#f9dbdd"/><rect x="614.57" y="2130.64" width="56.76" height="17.03" fill="#bfbdfb"/><rect x="671.04" y="2130.64" width="28.53" height="17.03" fill="#aba7fa"/><rect x="699.27" y="2130.64" width="56.76" height="17.03" fill="#bfbdfb"/><rect x="755.73" y="2130.64" width="28.53" height="17.03" fill="#e1e1fc"/><rect x="783.96" y="2130.64" width="28.53" height="17.03" fill="#d0cffb"/><rect x="812.19" y="2130.64" width="56.76" height="17.03" fill="#f3adb5"/><rect x="868.66" y="2130.64" width="84.99" height="17.03" fill="#bfbdfb"/><rect x="953.35" y="2130.64" width="28.53" height="17.03" fill="#d0cffb"/><rect x="981.58" y="2130.64" width="28.53" height="17.03" fill="#aba7fa"/><rect x="1009.82" y="2130.64" width="28.53" height="17.03" fill="#d0cffb"/><rect x="1038.05" y="2130.64" width="28.53" height="17.03" fill="#fffdfd"/><rect x="1066.28" y="2130.64" width="56.76" height="17.03" fill="#f1f1fe"/><rect x="1122.74" y="2130.64" width="56.76" height="17.03" fill="#d0cffb"/><rect x="1179.21" y="2130.64" width="28.53" height="17.03" fill="#fffdfd"/><rect x="1207.44" y="2130.64" width="56.76" height="17.03" fill="#d0cffb"/><rect x="191.10" y="2147.37" width="28.53" height="17.03" fill="#e1e1fc"/><rect x="219.33" y="2147.37" width="28.53" height="17.03" fill="#d0cffb"/><rect x="247.56" y="2147.37" width="28.53" height="17.03" fill="#f1f1fe"/><rect x="275.79" y="2147.37" width="28.53" height="17.03" fill="#bfbdfb"/><rect x="304.03" y="2147.37" width="28.53" height="17.03" fill="#fffdfd"/><rect x="332.26" y="2147.37" width="28.53" height="17.03" fill="#d0cffb"/><rect x="360.49" y="2147.37" width="28.53" height="17.03" fill="#bfbdfb"/><rect x="388.72" y="2147.37" width="28.53" height="17.03" fill="#d0cffb"/><rect x="416.95" y="2147.37" width="28.53" height="17.03" fill="#bfbdfb"/><rect x="445.18" y="2147.37" width="28.53" height="17.03" fill="#f6c6cb"/><rect x="473.42" y="2147.37" width="28.53" height="17.03" fill="#fceded"/><rect x="501.65" y="2147.37" width="28.53" height="17.03" fill="#f1f1fe"/><rect x="529.88" y="2147.37" width="28.53" height="17.03" fill="#f9dbdd"/><rect x="558.11" y="2147.37" width="56.76" height="17.03" fill="#fffdfd"/><rect x="614.57" y="2147.37" width="28.53" height="17.03" fill="#f1f1fe"/><rect x="642.81" y="2147.37" width="28.53" height="17.03" fill="#aba7fa"/><rect x="671.04" y="2147.37" width="28.53" height="17.03" fill="#bfbdfb"/><rect x="699.27" y="2147.37" width="56.76" height="17.03" fill="#d0cffb"/><rect x="755.73" y="2147.37" width="28.53" height="17.03" fill="#f9dbdd"/><rect x="783.96" y="2147.37" width="28.53" height="17.03" fill="#d0cffb"/><rect x="812.19" y="2147.37" width="28.53" height="17.03" fill="#e1e1fc"/><rect x="840.43" y="2147.37" width="84.99" height="17.03" fill="#bfbdfb"/><rect x="925.12" y="2147.37" width="28.53" height="17.03" fill="#e1e1fc"/><rect x="953.35" y="2147.37" width="28.53" height="17.03" fill="#bfbdfb"/><rect x="981.58" y="2147.37" width="28.53" height="17.03" fill="#f6c6cb"/><rect x="1009.82" y="2147.37" width="28.53" height="17.03" fill="#e1e1fc"/><rect x="1038.05" y="2147.37" width="28.53" height="17.03" fill="#bfbdfb"/><rect x="1066.28" y="2147.37" width="28.53" height="17.03" fill="#aba7fa"/><rect x="1094.51" y="2147.37" width="28.53" height="17.03" fill="#bfbdfb"/><rect x="1122.74" y="2147.37" width="56.76" height="17.03" fill="#d0cffb"/><rect x="1179.21" y="2147.37" width="28.53" height="17.03" fill="#f1f1fe"/><rect x="1207.44" y="2147.37" width="28.53" height="17.03" fill="#e1e1fc"/><rect x="1235.67" y="2147.37" width="28.53" height="17.03" fill="#bfbdfb"/><rect x="191.10" y="2164.10" width="56.76" height="17.03" fill="#d0cffb"/><rect x="247.56" y="2164.10" width="28.53" height="17.03" fill="#e1e1fc"/><rect x="275.79" y="2164.10" width="56.76" height="17.03" fill="#bfbdfb"/><rect x="332.26" y="2164.10" width="28.53" height="17.03" fill="#d0cffb"/><rect x="360.49" y="2164.10" width="28.53" height="17.03" fill="#aba7fa"/><rect x="388.72" y="2164.10" width="28.53" height="17.03" fill="#d0cffb"/><rect x="416.95" y="2164.10" width="28.53" height="17.03" fill="#bfbdfb"/><rect x="445.18" y="2164.10" width="28.53" height="17.03" fill="#f6c6cb"/><rect x="473.42" y="2164.10" width="28.53" height="17.03" fill="#bfbdfb"/><rect x="501.65" y="2164.10" width="28.53" height="17.03" fill="#aba7fa"/><rect x="529.88" y="2164.10" width="28.53" height="17.03" fill="#d0cffb"/><rect x="558.11" y="2164.10" width="56.76" height="17.03" fill="#aba7fa"/><rect x="614.57" y="2164.10" width="113.23" height="17.03" fill="#bfbdfb"/><rect x="727.50" y="2164.10" width="28.53" height="17.03" fill="#aba7fa"/><rect x="755.73" y="2164.10" width="28.53" height="17.03" fill="#f9dbdd"/><rect x="783.96" y="2164.10" width="28.53" height="17.03" fill="#fceded"/><rect x="812.19" y="2164.10" width="56.76" height="17.03" fill="#fffdfd"/><rect x="868.66" y="2164.10" width="56.76" height="17.03" fill="#bfbdfb"/><rect x="925.12" y="2164.10" width="28.53" height="17.03" fill="#f9dbdd"/><rect x="953.35" y="2164.10" width="56.76" height="17.03" fill="#bfbdfb"/><rect x="1009.82" y="2164.10" width="28.53" height="17.03" fill="#e1e1fc"/><rect x="1038.05" y="2164.10" width="28.53" height="17.03" fill="#f1f1fe"/><rect x="1066.28" y="2164.10" width="28.53" height="17.03" fill="#d0cffb"/><rect x="1094.51" y="2164.10" width="28.53" height="17.03" fill="#e1e1fc"/><rect x="1122.74" y="2164.10" width="28.53" height="17.03" fill="#fceded"/><rect x="1150.97" y="2164.10" width="28.53" height="17.03" fill="#e1e1fc"/><rect x="1179.21" y="2164.10" width="28.53" height="17.03" fill="#bfbdfb"/><rect x="1207.44" y="2164.10" width="28.53" height="17.03" fill="#f1f1fe"/><rect x="1235.67" y="2164.10" width="28.53" height="17.03" fill="#d0cffb"/><rect x="191.10" y="2180.83" width="28.53" height="17.03" fill="#d0cffb"/><rect x="219.33" y="2180.83" width="28.53" height="17.03" fill="#e1e1fc"/><rect x="247.56" y="2180.83" width="28.53" height="17.03" fill="#d0cffb"/><rect x="275.79" y="2180.83" width="56.76" height="17.03" fill="#bfbdfb"/><rect x="332.26" y="2180.83" width="28.53" height="17.03" fill="#d0cffb"/><rect x="360.49" y="2180.83" width="28.53" height="17.03" fill="#fffdfd"/><rect x="388.72" y="2180.83" width="28.53" height="17.03" fill="#d0cffb"/><rect x="416.95" y="2180.83" width="28.53" height="17.03" fill="#bfbdfb"/><rect x="445.18" y="2180.83" width="56.76" height="17.03" fill="#fceded"/><rect x="501.65" y="2180.83" width="28.53" height="17.03" fill="#aba7fa"/><rect x="529.88" y="2180.83" width="28.53" height="17.03" fill="#d0cffb"/><rect x="558.11" y="2180.83" width="56.76" height="17.03" fill="#f0959f"/><rect x="614.57" y="2180.83" width="28.53" height="17.03" fill="#bfbdfb"/><rect x="642.81" y="2180.83" width="56.76" height="17.03" fill="#aba7fa"/><rect x="699.27" y="2180.83" width="28.53" height="17.03" fill="#fceded"/><rect x="727.50" y="2180.83" width="28.53" height="17.03" fill="#aba7fa"/><rect x="755.73" y="2180.83" width="28.53" height="17.03" fill="#e1e1fc"/><rect x="783.96" y="2180.83" width="28.53" height="17.03" fill="#f6c6cb"/><rect x="812.19" y="2180.83" width="28.53" height="17.03" fill="#bfbdfb"/><rect x="840.43" y="2180.83" width="28.53" height="17.03" fill="#aba7fa"/><rect x="868.66" y="2180.83" width="56.76" height="17.03" fill="#bfbdfb"/><rect x="925.12" y="2180.83" width="28.53" height="17.03" fill="#fceded"/><rect x="953.35" y="2180.83" width="56.76" height="17.03" fill="#bfbdfb"/><rect x="1009.82" y="2180.83" width="56.76" height="17.03" fill="#d0cffb"/><rect x="1066.28" y="2180.83" width="28.53" height="17.03" fill="#bfbdfb"/><rect x="1094.51" y="2180.83" width="28.53" height="17.03" fill="#d0cffb"/><rect x="1122.74" y="2180.83" width="28.53" height="17.03" fill="#fceded"/><rect x="1150.97" y="2180.83" width="56.76" height="17.03" fill="#f1f1fe"/><rect x="1207.44" y="2180.83" width="28.53" height="17.03" fill="#e1e1fc"/><rect x="1235.67" y="2180.83" width="28.53" height="17.03" fill="#d0cffb"/><rect x="191.10" y="2197.55" width="28.53" height="17.03" fill="#fffdfd"/><rect x="219.33" y="2197.55" width="56.76" height="17.03" fill="#d0cffb"/><rect x="275.79" y="2197.55" width="28.53" height="17.03" fill="#f3adb5"/><rect x="304.03" y="2197.55" width="28.53" height="17.03" fill="#fffdfd"/><rect x="332.26" y="2197.55" width="28.53" height="17.03" fill="#d0cffb"/><rect x="360.49" y="2197.55" width="28.53" height="17.03" fill="#f1f1fe"/><rect x="388.72" y="2197.55" width="28.53" height="17.03" fill="#d0cffb"/><rect x="416.95" y="2197.55" width="28.53" height="17.03" fill="#bfbdfb"/><rect x="445.18" y="2197.55" width="28.53" height="17.03" fill="#fceded"/><rect x="473.42" y="2197.55" width="28.53" height="17.03" fill="#f6c6cb"/><rect x="501.65" y="2197.55" width="28.53" height="17.03" fill="#fceded"/><rect x="529.88" y="2197.55" width="28.53" height="17.03" fill="#e1e1fc"/><rect x="558.11" y="2197.55" width="56.76" height="17.03" fill="#f9dbdd"/><rect x="614.57" y="2197.55" width="28.53" height="17.03" fill="#bfbdfb"/><rect x="642.81" y="2197.55" width="28.53" height="17.03" fill="#d0cffb"/><rect x="671.04" y="2197.55" width="28.53" height="17.03" fill="#bfbdfb"/><rect x="699.27" y="2197.55" width="28.53" height="17.03" fill="#d0cffb"/><rect x="727.50" y="2197.55" width="56.76" height="17.03" fill="#e1e1fc"/><rect x="783.96" y="2197.55" width="28.53" height="17.03" fill="#fceded"/><rect x="812.19" y="2197.55" width="28.53" height="17.03" fill="#7b6df9"/><rect x="840.43" y="2197.55" width="28.53" height="17.03" fill="#958dfa"/><rect x="868.66" y="2197.55" width="141.46" height="17.03" fill="#bfbdfb"/><rect x="1009.82" y="2197.55" width="28.53" height="17.03" fill="#d0cffb"/><rect x="1038.05" y="2197.55" width="28.53" height="17.03" fill="#bfbdfb"/><rect x="1066.28" y="2197.55" width="113.23" height="17.03" fill="#d0cffb"/><rect x="1179.21" y="2197.55" width="28.53" height="17.03" fill="#aba7fa"/><rect x="1207.44" y="2197.55" width="28.53" height="17.03" fill="#d0cffb"/><rect x="1235.67" y="2197.55" width="28.53" height="17.03" fill="#bfbdfb"/><rect x="191.10" y="2214.28" width="28.53" height="17.03" fill="#bfbdfb"/><rect x="219.33" y="2214.28" width="56.76" height="17.03" fill="#d0cffb"/><rect x="275.79" y="2214.28" width="28.53" height="17.03" fill="#bfbdfb"/><rect x="304.03" y="2214.28" width="28.53" height="17.03" fill="#aba7fa"/><rect x="332.26" y="2214.28" width="28.53" height="17.03" fill="#d0cffb"/><rect x="360.49" y="2214.28" width="28.53" height="17.03" fill="#e1e1fc"/><rect x="388.72" y="2214.28" width="28.53" height="17.03" fill="#d0cffb"/><rect x="416.95" y="2214.28" width="28.53" height="17.03" fill="#bfbdfb"/><rect x="445.18" y="2214.28" width="28.53" height="17.03" fill="#f6c6cb"/><rect x="473.42" y="2214.28" width="28.53" height="17.03" fill="#f1f1fe"/><rect x="501.65" y="2214.28" width="56.76" height="17.03" fill="#e1e1fc"/><rect x="558.11" y="2214.28" width="56.76" height="17.03" fill="#d0cffb"/><rect x="614.57" y="2214.28" width="28.53" height="17.03" fill="#f9dbdd"/><rect x="642.81" y="2214.28" width="28.53" height="17.03" fill="#ee616b"/><rect x="671.04" y="2214.28" width="28.53" height="17.03" fill="#f9dbdd"/><rect x="699.27" y="2214.28" width="28.53" height="17.03" fill="#d0cffb"/><rect x="727.50" y="2214.28" width="28.53" height="17.03" fill="#aba7fa"/><rect x="755.73" y="2214.28" width="28.53" height="17.03" fill="#d0cffb"/><rect x="783.96" y="2214.28" width="56.76" height="17.03" fill="#958dfa"/><rect x="840.43" y="2214.28" width="28.53" height="17.03" fill="#aba7fa"/><rect x="868.66" y="2214.28" width="113.23" height="17.03" fill="#bfbdfb"/><rect x="981.58" y="2214.28" width="28.53" height="17.03" fill="#aba7fa"/><rect x="1009.82" y="2214.28" width="28.53" height="17.03" fill="#d0cffb"/><rect x="1038.05" y="2214.28" width="56.76" height="17.03" fill="#f6c6cb"/><rect x="1094.51" y="2214.28" width="56.76" height="17.03" fill="#fffdfd"/><rect x="1150.97" y="2214.28" width="28.53" height="17.03" fill="#d0cffb"/><rect x="1179.21" y="2214.28" width="56.76" height="17.03" fill="#fffdfd"/><rect x="1235.67" y="2214.28" width="28.53" height="17.03" fill="#f1f1fe"/><rect x="191.10" y="2231.01" width="84.99" height="17.03" fill="#d0cffb"/><rect x="275.79" y="2231.01" width="56.76" height="17.03" fill="#bfbdfb"/><rect x="332.26" y="2231.01" width="56.76" height="17.03" fill="#e1e1fc"/><rect x="388.72" y="2231.01" width="28.53" height="17.03" fill="#d0cffb"/><rect x="416.95" y="2231.01" width="28.53" height="17.03" fill="#bfbdfb"/><rect x="445.18" y="2231.01" width="28.53" height="17.03" fill="#f6c6cb"/><rect x="473.42" y="2231.01" width="28.53" height="17.03" fill="#f0959f"/><rect x="501.65" y="2231.01" width="28.53" height="17.03" fill="#f9dbdd"/><rect x="529.88" y="2231.01" width="28.53" height="17.03" fill="#e1e1fc"/><rect x="558.11" y="2231.01" width="56.76" height="17.03" fill="#d0cffb"/><rect x="614.57" y="2231.01" width="28.53" height="17.03" fill="#aba7fa"/><rect x="642.81" y="2231.01" width="28.53" height="17.03" fill="#f1f1fe"/><rect x="671.04" y="2231.01" width="56.76" height="17.03" fill="#bfbdfb"/><rect x="727.50" y="2231.01" width="28.53" height="17.03" fill="#aba7fa"/><rect x="755.73" y="2231.01" width="28.53" height="17.03" fill="#958dfa"/><rect x="783.96" y="2231.01" width="28.53" height="17.03" fill="#fceded"/><rect x="812.19" y="2231.01" width="28.53" height="17.03" fill="#f1f1fe"/><rect x="840.43" y="2231.01" width="28.53" height="17.03" fill="#fceded"/><rect x="868.66" y="2231.01" width="56.76" height="17.03" fill="#bfbdfb"/><rect x="925.12" y="2231.01" width="28.53" height="17.03" fill="#aba7fa"/><rect x="953.35" y="2231.01" width="56.76" height="17.03" fill="#bfbdfb"/><rect x="1009.82" y="2231.01" width="28.53" height="17.03" fill="#d0cffb"/><rect x="1038.05" y="2231.01" width="28.53" height="17.03" fill="#e1e1fc"/><rect x="1066.28" y="2231.01" width="28.53" height="17.03" fill="#d0cffb"/><rect x="1094.51" y="2231.01" width="28.53" height="17.03" fill="#e1e1fc"/><rect x="1122.74" y="2231.01" width="28.53" height="17.03" fill="#d0cffb"/><rect x="1150.97" y="2231.01" width="28.53" height="17.03" fill="#fffdfd"/><rect x="1179.21" y="2231.01" width="28.53" height="17.03" fill="#fceded"/><rect x="1207.44" y="2231.01" width="28.53" height="17.03" fill="#f1f1fe"/><rect x="1235.67" y="2231.01" width="28.53" height="17.03" fill="#e1e1fc"/><rect x="191.10" y="2247.74" width="28.53" height="17.03" fill="#bfbdfb"/><rect x="219.33" y="2247.74" width="56.76" height="17.03" fill="#d0cffb"/><rect x="275.79" y="2247.74" width="56.76" height="17.03" fill="#bfbdfb"/><rect x="332.26" y="2247.74" width="84.99" height="17.03" fill="#d0cffb"/><rect x="416.95" y="2247.74" width="28.53" height="17.03" fill="#bfbdfb"/><rect x="445.18" y="2247.74" width="28.53" height="17.03" fill="#f3adb5"/><rect x="473.42" y="2247.74" width="28.53" height="17.03" fill="#d0cffb"/><rect x="501.65" y="2247.74" width="28.53" height="17.03" fill="#f9dbdd"/><rect x="529.88" y="2247.74" width="28.53" height="17.03" fill="#d0cffb"/><rect x="558.11" y="2247.74" width="84.99" height="17.03" fill="#fffdfd"/><rect x="642.81" y="2247.74" width="28.53" height="17.03" fill="#aba7fa"/><rect x="671.04" y="2247.74" width="28.53" height="17.03" fill="#d0cffb"/><rect x="699.27" y="2247.74" width="56.76" height="17.03" fill="#bfbdfb"/><rect x="755.73" y="2247.74" width="28.53" height="17.03" fill="#d0cffb"/><rect x="783.96" y="2247.74" width="28.53" height="17.03" fill="#e1e1fc"/><rect x="812.19" y="2247.74" width="28.53" height="17.03" fill="#d0cffb"/><rect x="840.43" y="2247.74" width="28.53" height="17.03" fill="#958dfa"/><rect x="868.66" y="2247.74" width="141.46" height="17.03" fill="#bfbdfb"/><rect x="1009.82" y="2247.74" width="28.53" height="17.03" fill="#e1e1fc"/><rect x="1038.05" y="2247.74" width="28.53" height="17.03" fill="#fceded"/><rect x="1066.28" y="2247.74" width="28.53" height="17.03" fill="#f1f1fe"/><rect x="1094.51" y="2247.74" width="28.53" height="17.03" fill="#fceded"/><rect x="1122.74" y="2247.74" width="28.53" height="17.03" fill="#f1f1fe"/><rect x="1150.97" y="2247.74" width="28.53" height="17.03" fill="#fffdfd"/><rect x="1179.21" y="2247.74" width="28.53" height="17.03" fill="#fceded"/><rect x="1207.44" y="2247.74" width="28.53" height="17.03" fill="#f1f1fe"/><rect x="1235.67" y="2247.74" width="28.53" height="17.03" fill="#fffdfd"/><rect x="191.10" y="2264.47" width="28.53" height="17.03" fill="#bfbdfb"/><rect x="219.33" y="2264.47" width="56.76" height="17.03" fill="#d0cffb"/><rect x="275.79" y="2264.47" width="56.76" height="17.03" fill="#bfbdfb"/><rect x="332.26" y="2264.47" width="28.53" height="17.03" fill="#d0cffb"/><rect x="360.49" y="2264.47" width="28.53" height="17.03" fill="#bfbdfb"/><rect x="388.72" y="2264.47" width="28.53" height="17.03" fill="#d0cffb"/><rect x="416.95" y="2264.47" width="28.53" height="17.03" fill="#bfbdfb"/><rect x="445.18" y="2264.47" width="28.53" height="17.03" fill="#aba7fa"/><rect x="473.42" y="2264.47" width="28.53" height="17.03" fill="#d0cffb"/><rect x="501.65" y="2264.47" width="28.53" height="17.03" fill="#f6c6cb"/><rect x="529.88" y="2264.47" width="28.53" height="17.03" fill="#d0cffb"/><rect x="558.11" y="2264.47" width="56.76" height="17.03" fill="#aba7fa"/><rect x="614.57" y="2264.47" width="28.53" height="17.03" fill="#fffdfd"/><rect x="642.81" y="2264.47" width="28.53" height="17.03" fill="#d0cffb"/><rect x="671.04" y="2264.47" width="28.53" height="17.03" fill="#f1f1fe"/><rect x="699.27" y="2264.47" width="28.53" height="17.03" fill="#bfbdfb"/><rect x="727.50" y="2264.47" width="56.76" height="17.03" fill="#aba7fa"/><rect x="783.96" y="2264.47" width="28.53" height="17.03" fill="#958dfa"/><rect x="812.19" y="2264.47" width="28.53" height="17.03" fill="#d0cffb"/><rect x="840.43" y="2264.47" width="84.99" height="17.03" fill="#bfbdfb"/><rect x="925.12" y="2264.47" width="28.53" height="17.03" fill="#aba7fa"/><rect x="953.35" y="2264.47" width="56.76" height="17.03" fill="#bfbdfb"/><rect x="1009.82" y="2264.47" width="28.53" height="17.03" fill="#d0cffb"/><rect x="1038.05" y="2264.47" width="28.53" height="17.03" fill="#fceded"/><rect x="1066.28" y="2264.47" width="28.53" height="17.03" fill="#f9dbdd"/><rect x="1094.51" y="2264.47" width="28.53" height="17.03" fill="#f1f1fe"/><rect x="1122.74" y="2264.47" width="28.53" height="17.03" fill="#e1e1fc"/><rect x="1150.97" y="2264.47" width="28.53" height="17.03" fill="#f1f1fe"/><rect x="1179.21" y="2264.47" width="28.53" height="17.03" fill="#fffdfd"/><rect x="1207.44" y="2264.47" width="28.53" height="17.03" fill="#f1f1fe"/><rect x="1235.67" y="2264.47" width="28.53" height="17.03" fill="#e1e1fc"/><rect x="191.10" y="2281.20" width="28.53" height="17.03" fill="#f6c6cb"/><rect x="219.33" y="2281.20" width="28.53" height="17.03" fill="#fffdfd"/><rect x="247.56" y="2281.20" width="28.53" height="17.03" fill="#f0959f"/><rect x="275.79" y="2281.20" width="28.53" height="17.03" fill="#f6c6cb"/><rect x="304.03" y="2281.20" width="28.53" height="17.03" fill="#fceded"/><rect x="332.26" y="2281.20" width="28.53" height="17.03" fill="#f1f1fe"/><rect x="360.49" y="2281.20" width="56.76" height="17.03" fill="#d0cffb"/><rect x="416.95" y="2281.20" width="28.53" height="17.03" fill="#bfbdfb"/><rect x="445.18" y="2281.20" width="28.53" height="17.03" fill="#f9dbdd"/><rect x="473.42" y="2281.20" width="56.76" height="17.03" fill="#fffdfd"/><rect x="529.88" y="2281.20" width="28.53" height="17.03" fill="#fceded"/><rect x="558.11" y="2281.20" width="56.76" height="17.03" fill="#bfbdfb"/><rect x="614.57" y="2281.20" width="28.53" height="17.03" fill="#f6c6cb"/><rect x="642.81" y="2281.20" width="28.53" height="17.03" fill="#fffdfd"/><rect x="671.04" y="2281.20" width="28.53" height="17.03" fill="#f9dbdd"/><rect x="699.27" y="2281.20" width="28.53" height="17.03" fill="#f3adb5"/><rect x="727.50" y="2281.20" width="28.53" height="17.03" fill="#fffdfd"/><rect x="755.73" y="2281.20" width="28.53" height="17.03" fill="#fceded"/><rect x="783.96" y="2281.20" width="28.53" height="17.03" fill="#f1f1fe"/><rect x="812.19" y="2281.20" width="28.53" height="17.03" fill="#958dfa"/><rect x="840.43" y="2281.20" width="28.53" height="17.03" fill="#e1e1fc"/><rect x="868.66" y="2281.20" width="56.76" height="17.03" fill="#bfbdfb"/><rect x="925.12" y="2281.20" width="28.53" height="17.03" fill="#aba7fa"/><rect x="953.35" y="2281.20" width="56.76" height="17.03" fill="#bfbdfb"/><rect x="1009.82" y="2281.20" width="28.53" height="17.03" fill="#d0cffb"/><rect x="1038.05" y="2281.20" width="28.53" height="17.03" fill="#fffdfd"/><rect x="1066.28" y="2281.20" width="56.76" height="17.03" fill="#e1e1fc"/><rect x="1122.74" y="2281.20" width="28.53" height="17.03" fill="#d0cffb"/><rect x="1150.97" y="2281.20" width="28.53" height="17.03" fill="#aba7fa"/><rect x="1179.21" y="2281.20" width="28.53" height="17.03" fill="#bfbdfb"/><rect x="1207.44" y="2281.20" width="28.53" height="17.03" fill="#aba7fa"/><rect x="1235.67" y="2281.20" width="28.53" height="17.03" fill="#bfbdfb"/><rect x="191.10" y="2297.93" width="28.53" height="17.03" fill="#f9dbdd"/><rect x="219.33" y="2297.93" width="28.53" height="17.03" fill="#f6c6cb"/><rect x="247.56" y="2297.93" width="56.76" height="17.03" fill="#f9dbdd"/><rect x="304.03" y="2297.93" width="56.76" height="17.03" fill="#fceded"/><rect x="360.49" y="2297.93" width="28.53" height="17.03" fill="#bfbdfb"/><rect x="388.72" y="2297.93" width="56.76" height="17.03" fill="#d0cffb"/><rect x="445.18" y="2297.93" width="28.53" height="17.03" fill="#fffdfd"/><rect x="473.42" y="2297.93" width="28.53" height="17.03" fill="#e1e1fc"/><rect x="501.65" y="2297.93" width="28.53" height="17.03" fill="#f9dbdd"/><rect x="529.88" y="2297.93" width="28.53" height="17.03" fill="#f1f1fe"/><rect x="558.11" y="2297.93" width="56.76" height="17.03" fill="#aba7fa"/><rect x="614.57" y="2297.93" width="28.53" height="17.03" fill="#f9dbdd"/><rect x="642.81" y="2297.93" width="28.53" height="17.03" fill="#bfbdfb"/><rect x="671.04" y="2297.93" width="28.53" height="17.03" fill="#f1f1fe"/><rect x="699.27" y="2297.93" width="28.53" height="17.03" fill="#fceded"/><rect x="727.50" y="2297.93" width="28.53" height="17.03" fill="#e1e1fc"/><rect x="755.73" y="2297.93" width="28.53" height="17.03" fill="#fceded"/><rect x="783.96" y="2297.93" width="28.53" height="17.03" fill="#e1e1fc"/><rect x="812.19" y="2297.93" width="56.76" height="17.03" fill="#d0cffb"/><rect x="868.66" y="2297.93" width="28.53" height="17.03" fill="#bfbdfb"/><rect x="896.89" y="2297.93" width="28.53" height="17.03" fill="#aba7fa"/><rect x="925.12" y="2297.93" width="28.53" height="17.03" fill="#958dfa"/><rect x="953.35" y="2297.93" width="84.99" height="17.03" fill="#bfbdfb"/><rect x="1038.05" y="2297.93" width="56.76" height="17.03" fill="#e1e1fc"/><rect x="1094.51" y="2297.93" width="28.53" height="17.03" fill="#d0cffb"/><rect x="1122.74" y="2297.93" width="28.53" height="17.03" fill="#bfbdfb"/><rect x="1150.97" y="2297.93" width="28.53" height="17.03" fill="#aba7fa"/><rect x="1179.21" y="2297.93" width="28.53" height="17.03" fill="#bfbdfb"/><rect x="1207.44" y="2297.93" width="56.76" height="17.03" fill="#aba7fa"/><rect x="191.10" y="2314.66" width="28.53" height="17.03" fill="#f1f1fe"/><rect x="219.33" y="2314.66" width="28.53" height="17.03" fill="#d0cffb"/><rect x="247.56" y="2314.66" width="56.76" height="17.03" fill="#f1f1fe"/><rect x="304.03" y="2314.66" width="28.53" height="17.03" fill="#fceded"/><rect x="332.26" y="2314.66" width="28.53" height="17.03" fill="#d0cffb"/><rect x="360.49" y="2314.66" width="28.53" height="17.03" fill="#fffdfd"/><rect x="388.72" y="2314.66" width="28.53" height="17.03" fill="#d0cffb"/><rect x="416.95" y="2314.66" width="28.53" height="17.03" fill="#f9dbdd"/><rect x="445.18" y="2314.66" width="28.53" height="17.03" fill="#fceded"/><rect x="473.42" y="2314.66" width="28.53" height="17.03" fill="#d0cffb"/><rect x="501.65" y="2314.66" width="28.53" height="17.03" fill="#e1e1fc"/><rect x="529.88" y="2314.66" width="84.99" height="17.03" fill="#fceded"/><rect x="614.57" y="2314.66" width="28.53" height="17.03" fill="#e1e1fc"/><rect x="642.81" y="2314.66" width="28.53" height="17.03" fill="#f1f1fe"/><rect x="671.04" y="2314.66" width="28.53" height="17.03" fill="#f9dbdd"/><rect x="699.27" y="2314.66" width="56.76" height="17.03" fill="#d0cffb"/><rect x="755.73" y="2314.66" width="56.76" height="17.03" fill="#958dfa"/><rect x="812.19" y="2314.66" width="56.76" height="17.03" fill="#d0cffb"/><rect x="868.66" y="2314.66" width="56.76" height="17.03" fill="#bfbdfb"/><rect x="925.12" y="2314.66" width="28.53" height="17.03" fill="#e1e1fc"/><rect x="953.35" y="2314.66" width="56.76" height="17.03" fill="#d0cffb"/><rect x="1009.82" y="2314.66" width="28.53" height="17.03" fill="#e1e1fc"/><rect x="1038.05" y="2314.66" width="28.53" height="17.03" fill="#fceded"/><rect x="1066.28" y="2314.66" width="28.53" height="17.03" fill="#bfbdfb"/><rect x="1094.51" y="2314.66" width="56.76" height="17.03" fill="#d0cffb"/><rect x="1150.97" y="2314.66" width="28.53" height="17.03" fill="#bfbdfb"/><rect x="1179.21" y="2314.66" width="56.76" height="17.03" fill="#e1e1fc"/><rect x="1235.67" y="2314.66" width="28.53" height="17.03" fill="#d0cffb"/><rect x="191.10" y="2331.38" width="28.53" height="17.03" fill="#fceded"/><rect x="219.33" y="2331.38" width="28.53" height="17.03" fill="#d0cffb"/><rect x="247.56" y="2331.38" width="28.53" height="17.03" fill="#e1e1fc"/><rect x="275.79" y="2331.38" width="28.53" height="17.03" fill="#f6c6cb"/><rect x="304.03" y="2331.38" width="28.53" height="17.03" fill="#e1e1fc"/><rect x="332.26" y="2331.38" width="28.53" height="17.03" fill="#ee7d88"/><rect x="360.49" y="2331.38" width="28.53" height="17.03" fill="#e1e1fc"/><rect x="388.72" y="2331.38" width="28.53" height="17.03" fill="#d0cffb"/><rect x="416.95" y="2331.38" width="28.53" height="17.03" fill="#f9dbdd"/><rect x="445.18" y="2331.38" width="28.53" height="17.03" fill="#fceded"/><rect x="473.42" y="2331.38" width="28.53" height="17.03" fill="#aba7fa"/><rect x="501.65" y="2331.38" width="28.53" height="17.03" fill="#f1f1fe"/><rect x="529.88" y="2331.38" width="28.53" height="17.03" fill="#d0cffb"/><rect x="558.11" y="2331.38" width="84.99" height="17.03" fill="#e1e1fc"/><rect x="642.81" y="2331.38" width="28.53" height="17.03" fill="#d0cffb"/><rect x="671.04" y="2331.38" width="28.53" height="17.03" fill="#bfbdfb"/><rect x="699.27" y="2331.38" width="56.76" height="17.03" fill="#d0cffb"/><rect x="755.73" y="2331.38" width="28.53" height="17.03" fill="#e1e1fc"/><rect x="783.96" y="2331.38" width="28.53" height="17.03" fill="#d0cffb"/><rect x="812.19" y="2331.38" width="28.53" height="17.03" fill="#bfbdfb"/><rect x="840.43" y="2331.38" width="28.53" height="17.03" fill="#fceded"/><rect x="868.66" y="2331.38" width="56.76" height="17.03" fill="#bfbdfb"/><rect x="925.12" y="2331.38" width="28.53" height="17.03" fill="#aba7fa"/><rect x="953.35" y="2331.38" width="28.53" height="17.03" fill="#bfbdfb"/><rect x="981.58" y="2331.38" width="84.99" height="17.03" fill="#d0cffb"/><rect x="1066.28" y="2331.38" width="28.53" height="17.03" fill="#bfbdfb"/><rect x="1094.51" y="2331.38" width="113.23" height="17.03" fill="#d0cffb"/><rect x="1207.44" y="2331.38" width="28.53" height="17.03" fill="#e1e1fc"/><rect x="1235.67" y="2331.38" width="28.53" height="17.03" fill="#bfbdfb"/><rect x="191.10" y="2348.11" width="28.53" height="17.03" fill="#f1f1fe"/><rect x="219.33" y="2348.11" width="28.53" height="17.03" fill="#e1e1fc"/><rect x="247.56" y="2348.11" width="28.53" height="17.03" fill="#f1f1fe"/><rect x="275.79" y="2348.11" width="56.76" height="17.03" fill="#fffdfd"/><rect x="332.26" y="2348.11" width="84.99" height="17.03" fill="#d0cffb"/><rect x="416.95" y="2348.11" width="28.53" height="17.03" fill="#f1f1fe"/><rect x="445.18" y="2348.11" width="28.53" height="17.03" fill="#f9dbdd"/><rect x="473.42" y="2348.11" width="28.53" height="17.03" fill="#e1e1fc"/><rect x="501.65" y="2348.11" width="28.53" height="17.03" fill="#aba7fa"/><rect x="529.88" y="2348.11" width="28.53" height="17.03" fill="#bfbdfb"/><rect x="558.11" y="2348.11" width="56.76" height="17.03" fill="#aba7fa"/><rect x="614.57" y="2348.11" width="28.53" height="17.03" fill="#e1e1fc"/><rect x="642.81" y="2348.11" width="28.53" height="17.03" fill="#aba7fa"/><rect x="671.04" y="2348.11" width="28.53" height="17.03" fill="#f3adb5"/><rect x="699.27" y="2348.11" width="56.76" height="17.03" fill="#d0cffb"/><rect x="755.73" y="2348.11" width="28.53" height="17.03" fill="#f1f1fe"/><rect x="783.96" y="2348.11" width="28.53" height="17.03" fill="#e1e1fc"/><rect x="812.19" y="2348.11" width="28.53" height="17.03" fill="#bfbdfb"/><rect x="840.43" y="2348.11" width="28.53" height="17.03" fill="#f1f1fe"/><rect x="868.66" y="2348.11" width="56.76" height="17.03" fill="#bfbdfb"/><rect x="925.12" y="2348.11" width="28.53" height="17.03" fill="#aba7fa"/><rect x="953.35" y="2348.11" width="28.53" height="17.03" fill="#bfbdfb"/><rect x="981.58" y="2348.11" width="28.53" height="17.03" fill="#d0cffb"/><rect x="1009.82" y="2348.11" width="28.53" height="17.03" fill="#e1e1fc"/><rect x="1038.05" y="2348.11" width="28.53" height="17.03" fill="#aba7fa"/><rect x="1066.28" y="2348.11" width="28.53" height="17.03" fill="#958dfa"/><rect x="1094.51" y="2348.11" width="28.53" height="17.03" fill="#bfbdfb"/><rect x="1122.74" y="2348.11" width="28.53" height="17.03" fill="#958dfa"/><rect x="1150.97" y="2348.11" width="56.76" height="17.03" fill="#aba7fa"/><rect x="1207.44" y="2348.11" width="28.53" height="17.03" fill="#958dfa"/><rect x="1235.67" y="2348.11" width="28.53" height="17.03" fill="#aba7fa"/><rect x="191.10" y="2364.84" width="28.53" height="17.03" fill="#fceded"/><rect x="219.33" y="2364.84" width="28.53" height="17.03" fill="#f1f1fe"/><rect x="247.56" y="2364.84" width="28.53" height="17.03" fill="#ee616b"/><rect x="275.79" y="2364.84" width="28.53" height="17.03" fill="#d0cffb"/><rect x="304.03" y="2364.84" width="28.53" height="17.03" fill="#bfbdfb"/><rect x="332.26" y="2364.84" width="28.53" height="17.03" fill="#f9dbdd"/><rect x="360.49" y="2364.84" width="56.76" height="17.03" fill="#d0cffb"/><rect x="416.95" y="2364.84" width="28.53" height="17.03" fill="#bfbdfb"/><rect x="445.18" y="2364.84" width="28.53" height="17.03" fill="#f9dbdd"/><rect x="473.42" y="2364.84" width="28.53" height="17.03" fill="#f1f1fe"/><rect x="501.65" y="2364.84" width="28.53" height="17.03" fill="#aba7fa"/><rect x="529.88" y="2364.84" width="28.53" height="17.03" fill="#f1f1fe"/><rect x="558.11" y="2364.84" width="56.76" height="17.03" fill="#fceded"/><rect x="614.57" y="2364.84" width="28.53" height="17.03" fill="#fa242c"/><rect x="642.81" y="2364.84" width="28.53" height="17.03" fill="#f1f1fe"/><rect x="671.04" y="2364.84" width="28.53" height="17.03" fill="#f3adb5"/><rect x="699.27" y="2364.84" width="56.76" height="17.03" fill="#d0cffb"/><rect x="755.73" y="2364.84" width="28.53" height="17.03" fill="#fceded"/><rect x="783.96" y="2364.84" width="28.53" height="17.03" fill="#7b6df9"/><rect x="812.19" y="2364.84" width="28.53" height="17.03" fill="#e1e1fc"/><rect x="840.43" y="2364.84" width="28.53" height="17.03" fill="#d0cffb"/><rect x="868.66" y="2364.84" width="56.76" height="17.03" fill="#bfbdfb"/><rect x="925.12" y="2364.84" width="28.53" height="17.03" fill="#aba7fa"/><rect x="953.35" y="2364.84" width="56.76" height="17.03" fill="#bfbdfb"/><rect x="1009.82" y="2364.84" width="28.53" height="17.03" fill="#d0cffb"/><rect x="1038.05" y="2364.84" width="28.53" height="17.03" fill="#fffdfd"/><rect x="1066.28" y="2364.84" width="28.53" height="17.03" fill="#bfbdfb"/><rect x="1094.51" y="2364.84" width="28.53" height="17.03" fill="#7b6df9"/><rect x="1122.74" y="2364.84" width="56.76" height="17.03" fill="#5842f7"/><rect x="1179.21" y="2364.84" width="28.53" height="17.03" fill="#f1f1fe"/><rect x="1207.44" y="2364.84" width="28.53" height="17.03" fill="#d0cffb"/><rect x="1235.67" y="2364.84" width="28.53" height="17.03" fill="#f1f1fe"/><rect x="191.10" y="2381.57" width="28.53" height="17.03" fill="#fceded"/><rect x="219.33" y="2381.57" width="28.53" height="17.03" fill="#f6c6cb"/><rect x="247.56" y="2381.57" width="28.53" height="17.03" fill="#ee616b"/><rect x="275.79" y="2381.57" width="56.76" height="17.03" fill="#bfbdfb"/><rect x="332.26" y="2381.57" width="56.76" height="17.03" fill="#e1e1fc"/><rect x="388.72" y="2381.57" width="28.53" height="17.03" fill="#d0cffb"/><rect x="416.95" y="2381.57" width="28.53" height="17.03" fill="#bfbdfb"/><rect x="445.18" y="2381.57" width="56.76" height="17.03" fill="#f1f1fe"/><rect x="501.65" y="2381.57" width="28.53" height="17.03" fill="#aba7fa"/><rect x="529.88" y="2381.57" width="28.53" height="17.03" fill="#d0cffb"/><rect x="558.11" y="2381.57" width="56.76" height="17.03" fill="#fffdfd"/><rect x="614.57" y="2381.57" width="28.53" height="17.03" fill="#f1464e"/><rect x="642.81" y="2381.57" width="28.53" height="17.03" fill="#f1f1fe"/><rect x="671.04" y="2381.57" width="28.53" height="17.03" fill="#f9dbdd"/><rect x="699.27" y="2381.57" width="28.53" height="17.03" fill="#e1e1fc"/><rect x="727.50" y="2381.57" width="56.76" height="17.03" fill="#fceded"/><rect x="783.96" y="2381.57" width="28.53" height="17.03" fill="#aba7fa"/><rect x="812.19" y="2381.57" width="113.23" height="17.03" fill="#bfbdfb"/><rect x="925.12" y="2381.57" width="28.53" height="17.03" fill="#aba7fa"/><rect x="953.35" y="2381.57" width="56.76" height="17.03" fill="#bfbdfb"/><rect x="1009.82" y="2381.57" width="28.53" height="17.03" fill="#d0cffb"/><rect x="1038.05" y="2381.57" width="28.53" height="17.03" fill="#e1e1fc"/><rect x="1066.28" y="2381.57" width="28.53" height="17.03" fill="#d0cffb"/><rect x="1094.51" y="2381.57" width="28.53" height="17.03" fill="#aba7fa"/><rect x="1122.74" y="2381.57" width="28.53" height="17.03" fill="#958dfa"/><rect x="1150.97" y="2381.57" width="28.53" height="17.03" fill="#aba7fa"/><rect x="1179.21" y="2381.57" width="28.53" height="17.03" fill="#bfbdfb"/><rect x="1207.44" y="2381.57" width="28.53" height="17.03" fill="#5842f7"/><rect x="1235.67" y="2381.57" width="28.53" height="17.03" fill="#f1f1fe"/></g>
<g font-family="'Liberation Sans', sans-serif" font-size="13.2" letter-spacing="2.55" text-anchor="middle" fill="#000" font-weight="bold" stroke="#000" stroke-width="0.5" stroke-linejoin="round"><text x="206.3" y="1421.9">**</text><text x="319.2" y="1421.9">**</text><text x="347.5" y="1421.9">**</text><text x="375.7" y="1421.9">**</text><text x="403.9" y="1421.9">*</text><text x="545.1" y="1421.9">***</text><text x="573.3" y="1421.9">***</text><text x="601.6" y="1421.9">***</text><text x="742.7" y="1421.9">**</text><text x="968.6" y="1421.9">***</text><text x="996.8" y="1421.9">*</text><text x="1166.2" y="1421.9">**</text><text x="206.3" y="1438.6">**</text><text x="234.5" y="1438.6">*</text><text x="262.8" y="1438.6">**</text><text x="319.2" y="1438.6">*</text><text x="375.7" y="1438.6">***</text><text x="432.2" y="1438.6">*</text><text x="488.6" y="1438.6">**</text><text x="545.1" y="1438.6">**</text><text x="714.5" y="1438.6">***</text><text x="1166.2" y="1438.6">**</text><text x="206.3" y="1455.3">***</text><text x="234.5" y="1455.3">**</text><text x="262.8" y="1455.3">***</text><text x="291.0" y="1455.3">*</text><text x="319.2" y="1455.3">*</text><text x="403.9" y="1455.3">**</text><text x="460.4" y="1455.3">*</text><text x="488.6" y="1455.3">*</text><text x="516.9" y="1455.3">*</text><text x="545.1" y="1455.3">*</text><text x="940.3" y="1455.3">*</text><text x="1166.2" y="1455.3">*</text><text x="1250.9" y="1455.3">**</text><text x="206.3" y="1472.1">**</text><text x="234.5" y="1472.1">*</text><text x="262.8" y="1472.1">*</text><text x="291.0" y="1472.1">*</text><text x="319.2" y="1472.1">*</text><text x="347.5" y="1472.1">*</text><text x="375.7" y="1472.1">**</text><text x="403.9" y="1472.1">*</text><text x="545.1" y="1472.1">*</text><text x="1166.2" y="1472.1">*</text><text x="1222.7" y="1472.1">*</text><text x="1250.9" y="1472.1">*</text><text x="206.3" y="1488.8">***</text><text x="234.5" y="1488.8">**</text><text x="262.8" y="1488.8">**</text><text x="291.0" y="1488.8">***</text><text x="319.2" y="1488.8">**</text><text x="375.7" y="1488.8">*</text><text x="403.9" y="1488.8">*</text><text x="1250.9" y="1488.8">**</text><text x="206.3" y="1505.5">**</text><text x="234.5" y="1505.5">**</text><text x="262.8" y="1505.5">***</text><text x="291.0" y="1505.5">*</text><text x="319.2" y="1505.5">*</text><text x="347.5" y="1505.5">*</text><text x="1166.2" y="1505.5">*</text><text x="1250.9" y="1505.5">*</text><text x="206.3" y="1522.2">***</text><text x="234.5" y="1522.2">**</text><text x="262.8" y="1522.2">***</text><text x="291.0" y="1522.2">**</text><text x="319.2" y="1522.2">*</text><text x="347.5" y="1522.2">*</text><text x="375.7" y="1522.2">**</text><text x="403.9" y="1522.2">**</text><text x="432.2" y="1522.2">*</text><text x="488.6" y="1522.2">*</text><text x="545.1" y="1522.2">*</text><text x="1166.2" y="1522.2">**</text><text x="1222.7" y="1522.2">*</text><text x="1250.9" y="1522.2">**</text><text x="206.3" y="1539.0">**</text><text x="234.5" y="1539.0">**</text><text x="262.8" y="1539.0">*</text><text x="375.7" y="1539.0">*</text><text x="403.9" y="1539.0">**</text><text x="488.6" y="1539.0">*</text><text x="545.1" y="1539.0">*</text><text x="1081.5" y="1539.0">*</text><text x="1109.7" y="1539.0">*</text><text x="1166.2" y="1539.0">*</text><text x="1222.7" y="1539.0">*</text><text x="1250.9" y="1539.0">**</text><text x="206.3" y="1555.7">***</text><text x="234.5" y="1555.7">**</text><text x="262.8" y="1555.7">**</text><text x="291.0" y="1555.7">*</text><text x="319.2" y="1555.7">*</text><text x="347.5" y="1555.7">**</text><text x="375.7" y="1555.7">**</text><text x="403.9" y="1555.7">**</text><text x="432.2" y="1555.7">*</text><text x="1109.7" y="1555.7">*</text><text x="1138.0" y="1555.7">*</text><text x="1194.4" y="1555.7">*</text><text x="1222.7" y="1555.7">*</text><text x="1250.9" y="1555.7">**</text><text x="206.3" y="1572.4">***</text><text x="234.5" y="1572.4">***</text><text x="262.8" y="1572.4">***</text><text x="291.0" y="1572.4">**</text><text x="319.2" y="1572.4">**</text><text x="375.7" y="1572.4">**</text><text x="403.9" y="1572.4">***</text><text x="432.2" y="1572.4">*</text><text x="1081.5" y="1572.4">*</text><text x="1109.7" y="1572.4">*</text><text x="1138.0" y="1572.4">**</text><text x="1166.2" y="1572.4">*</text><text x="1222.7" y="1572.4">*</text><text x="1250.9" y="1572.4">**</text><text x="206.3" y="1589.2">**</text><text x="234.5" y="1589.2">**</text><text x="262.8" y="1589.2">***</text><text x="347.5" y="1589.2">***</text><text x="375.7" y="1589.2">*</text><text x="403.9" y="1589.2">*</text><text x="573.3" y="1589.2">*</text><text x="601.6" y="1589.2">*</text><text x="912.1" y="1589.2">**</text><text x="1109.7" y="1589.2">*</text><text x="1138.0" y="1589.2">*</text><text x="1166.2" y="1589.2">**</text><text x="1250.9" y="1589.2">*</text><text x="206.3" y="1605.9">*</text><text x="291.0" y="1605.9">**</text><text x="488.6" y="1605.9">**</text><text x="516.9" y="1605.9">*</text><text x="1250.9" y="1605.9">*</text><text x="206.3" y="1622.6">*</text><text x="234.5" y="1622.6">*</text><text x="403.9" y="1622.6">**</text><text x="516.9" y="1622.6">**</text><text x="1250.9" y="1622.6">*</text><text x="206.3" y="1639.3">**</text><text x="234.5" y="1639.3">**</text><text x="262.8" y="1639.3">*</text><text x="291.0" y="1639.3">**</text><text x="206.3" y="1656.1">**</text><text x="234.5" y="1656.1">**</text><text x="262.8" y="1656.1">*</text><text x="516.9" y="1656.1">*</text><text x="1250.9" y="1656.1">**</text><text x="206.3" y="1672.8">**</text><text x="234.5" y="1672.8">*</text><text x="262.8" y="1672.8">**</text><text x="291.0" y="1672.8">**</text><text x="516.9" y="1672.8">*</text><text x="629.8" y="1672.8">*</text><text x="206.3" y="1689.5">**</text><text x="234.5" y="1689.5">**</text><text x="262.8" y="1689.5">***</text><text x="291.0" y="1689.5">**</text><text x="375.7" y="1689.5">*</text><text x="714.5" y="1689.5">*</text><text x="1166.2" y="1689.5">*</text><text x="1250.9" y="1689.5">**</text><text x="347.5" y="1706.3">**</text><text x="432.2" y="1706.3">*</text><text x="516.9" y="1706.3">*</text><text x="545.1" y="1706.3">*</text><text x="827.4" y="1706.3">**</text><text x="1053.3" y="1706.3">*</text><text x="1138.0" y="1706.3">*</text><text x="1250.9" y="1723.0">*</text><text x="291.0" y="1739.7">**</text><text x="432.2" y="1739.7">*</text><text x="545.1" y="1739.7">*</text><text x="1250.9" y="1739.7">**</text><text x="432.2" y="1756.4">*</text><text x="1138.0" y="1756.4">*</text><text x="206.3" y="1773.2">***</text><text x="234.5" y="1773.2">***</text><text x="262.8" y="1773.2">***</text><text x="291.0" y="1773.2">*</text><text x="319.2" y="1773.2">*</text><text x="347.5" y="1773.2">***</text><text x="403.9" y="1773.2">**</text><text x="432.2" y="1773.2">**</text><text x="488.6" y="1773.2">***</text><text x="1109.7" y="1773.2">**</text><text x="1166.2" y="1773.2">***</text><text x="1194.4" y="1773.2">**</text><text x="1222.7" y="1773.2">**</text><text x="1250.9" y="1773.2">***</text><text x="206.3" y="1789.9">***</text><text x="234.5" y="1789.9">**</text><text x="262.8" y="1789.9">**</text><text x="291.0" y="1789.9">***</text><text x="319.2" y="1789.9">**</text><text x="347.5" y="1789.9">**</text><text x="375.7" y="1789.9">*</text><text x="403.9" y="1789.9">**</text><text x="432.2" y="1789.9">**</text><text x="1053.3" y="1789.9">*</text><text x="1081.5" y="1789.9">*</text><text x="1138.0" y="1789.9">*</text><text x="1166.2" y="1789.9">*</text><text x="1250.9" y="1789.9">***</text><text x="206.3" y="1806.6">***</text><text x="234.5" y="1806.6">***</text><text x="262.8" y="1806.6">***</text><text x="291.0" y="1806.6">***</text><text x="319.2" y="1806.6">**</text><text x="347.5" y="1806.6">**</text><text x="375.7" y="1806.6">**</text><text x="403.9" y="1806.6">**</text><text x="432.2" y="1806.6">*</text><text x="770.9" y="1806.6">*</text><text x="1025.0" y="1806.6">*</text><text x="1053.3" y="1806.6">*</text><text x="1109.7" y="1806.6">*</text><text x="1138.0" y="1806.6">**</text><text x="1166.2" y="1806.6">**</text><text x="1194.4" y="1806.6">**</text><text x="1222.7" y="1806.6">**</text><text x="1250.9" y="1806.6">***</text><text x="206.3" y="1823.4">***</text><text x="234.5" y="1823.4">***</text><text x="262.8" y="1823.4">***</text><text x="291.0" y="1823.4">***</text><text x="319.2" y="1823.4">***</text><text x="347.5" y="1823.4">**</text><text x="375.7" y="1823.4">**</text><text x="403.9" y="1823.4">*</text><text x="432.2" y="1823.4">**</text><text x="1025.0" y="1823.4">*</text><text x="1053.3" y="1823.4">*</text><text x="1109.7" y="1823.4">*</text><text x="1138.0" y="1823.4">**</text><text x="1166.2" y="1823.4">*</text><text x="1194.4" y="1823.4">**</text><text x="1222.7" y="1823.4">***</text><text x="1250.9" y="1823.4">***</text><text x="206.3" y="1840.1">***</text><text x="234.5" y="1840.1">***</text><text x="262.8" y="1840.1">**</text><text x="291.0" y="1840.1">***</text><text x="319.2" y="1840.1">*</text><text x="347.5" y="1840.1">**</text><text x="375.7" y="1840.1">**</text><text x="403.9" y="1840.1">*</text><text x="883.9" y="1840.1">*</text><text x="1025.0" y="1840.1">***</text><text x="1138.0" y="1840.1">**</text><text x="1166.2" y="1840.1">*</text><text x="1194.4" y="1840.1">**</text><text x="1222.7" y="1840.1">**</text><text x="1250.9" y="1840.1">**</text><text x="206.3" y="1856.8">***</text><text x="234.5" y="1856.8">***</text><text x="262.8" y="1856.8">**</text><text x="291.0" y="1856.8">***</text><text x="347.5" y="1856.8">**</text><text x="375.7" y="1856.8">**</text><text x="686.3" y="1856.8">*</text><text x="883.9" y="1856.8">*</text><text x="1025.0" y="1856.8">***</text><text x="1138.0" y="1856.8">**</text><text x="1166.2" y="1856.8">*</text><text x="1194.4" y="1856.8">**</text><text x="1222.7" y="1856.8">**</text><text x="1250.9" y="1856.8">*</text><text x="206.3" y="1873.5">**</text><text x="234.5" y="1873.5">**</text><text x="262.8" y="1873.5">**</text><text x="291.0" y="1873.5">**</text><text x="347.5" y="1873.5">*</text><text x="375.7" y="1873.5">*</text><text x="1025.0" y="1873.5">**</text><text x="1138.0" y="1873.5">*</text><text x="1194.4" y="1873.5">*</text><text x="1222.7" y="1873.5">*</text><text x="1250.9" y="1873.5">*</text><text x="206.3" y="1890.3">***</text><text x="234.5" y="1890.3">***</text><text x="262.8" y="1890.3">*</text><text x="375.7" y="1890.3">*</text><text x="403.9" y="1890.3">***</text><text x="432.2" y="1890.3">**</text><text x="516.9" y="1890.3">*</text><text x="1081.5" y="1890.3">***</text><text x="1109.7" y="1890.3">**</text><text x="1138.0" y="1890.3">*</text><text x="1222.7" y="1890.3">*</text><text x="1250.9" y="1890.3">*</text><text x="206.3" y="1907.0">*</text><text x="347.5" y="1907.0">**</text><text x="403.9" y="1907.0">**</text><text x="432.2" y="1907.0">*</text><text x="770.9" y="1907.0">*</text><text x="883.9" y="1907.0">***</text><text x="912.1" y="1907.0">***</text><text x="940.3" y="1907.0">***</text><text x="1166.2" y="1907.0">*</text><text x="629.8" y="1923.7">*</text><text x="770.9" y="1923.7">**</text><text x="799.2" y="1923.7">**</text><text x="883.9" y="1923.7">***</text><text x="912.1" y="1923.7">***</text><text x="996.8" y="1923.7">***</text><text x="291.0" y="1940.5">**</text><text x="319.2" y="1940.5">*</text><text x="742.7" y="1940.5">*</text><text x="770.9" y="1940.5">***</text><text x="799.2" y="1940.5">**</text><text x="883.9" y="1940.5">*</text><text x="940.3" y="1940.5">*</text><text x="206.3" y="1957.2">*</text><text x="291.0" y="1957.2">*</text><text x="714.5" y="1957.2">***</text><text x="1250.9" y="1957.2">**</text><text x="714.5" y="1973.9">***</text><text x="742.7" y="1973.9">*</text><text x="827.4" y="1973.9">***</text><text x="940.3" y="1973.9">*</text><text x="1250.9" y="1973.9">*</text><text x="658.0" y="1990.6">*</text><text x="1081.5" y="1990.6">*</text><text x="1166.2" y="1990.6">**</text><text x="686.3" y="2024.1">*</text><text x="940.3" y="2040.8">*</text><text x="1109.7" y="2040.8">*</text><text x="1109.7" y="2057.6">*</text><text x="912.1" y="2091.0">***</text><text x="714.5" y="2107.7">***</text><text x="714.5" y="2124.5">**</text><text x="1025.0" y="2124.5">***</text><text x="545.1" y="2141.2">***</text><text x="573.3" y="2141.2">*</text><text x="601.6" y="2141.2">*</text><text x="827.4" y="2141.2">**</text><text x="855.6" y="2141.2">**</text><text x="770.9" y="2157.9">*</text><text x="996.8" y="2157.9">*</text><text x="770.9" y="2174.7">*</text><text x="573.3" y="2191.4">***</text><text x="601.6" y="2191.4">***</text><text x="799.2" y="2191.4">*</text><text x="291.0" y="2208.1">**</text><text x="488.6" y="2208.1">*</text><text x="573.3" y="2208.1">*</text><text x="601.6" y="2208.1">*</text><text x="827.4" y="2208.1">*</text><text x="658.0" y="2224.8">***</text><text x="686.3" y="2224.8">*</text><text x="1053.3" y="2224.8">*</text><text x="1081.5" y="2224.8">*</text><text x="488.6" y="2241.6">***</text><text x="460.4" y="2258.3">*</text><text x="516.9" y="2275.0">**</text><text x="206.3" y="2291.8">*</text><text x="262.8" y="2291.8">***</text><text x="291.0" y="2291.8">*</text><text x="629.8" y="2291.8">**</text><text x="714.5" y="2291.8">**</text><text x="206.3" y="2308.5">*</text><text x="234.5" y="2308.5">*</text><text x="262.8" y="2308.5">*</text><text x="629.8" y="2308.5">*</text><text x="291.0" y="2341.9">**</text><text x="347.5" y="2341.9">***</text><text x="432.2" y="2341.9">*</text><text x="686.3" y="2358.7">**</text><text x="1081.5" y="2358.7">*</text><text x="1222.7" y="2358.7">*</text><text x="262.8" y="2375.4">***</text><text x="347.5" y="2375.4">*</text><text x="629.8" y="2375.4">***</text><text x="686.3" y="2375.4">**</text><text x="770.9" y="2375.4">*</text><text x="1109.7" y="2375.4">**</text><text x="1138.0" y="2375.4">***</text><text x="1166.2" y="2375.4">***</text><text x="234.5" y="2392.1">**</text><text x="262.8" y="2392.1">***</text><text x="629.8" y="2392.1">***</text><text x="686.3" y="2392.1">*</text><text x="1138.0" y="2392.1">*</text><text x="1222.7" y="2392.1">***</text></g>
<g font-family="'Liberation Sans', sans-serif" font-size="22.4" fill="#000" stroke="#000" stroke-width="0.4"><text transform="translate(213.4 2405.2) rotate(-90) scale(1 1.045)" text-anchor="end">HAQ</text><text transform="translate(241.6 2405.2) rotate(-90) scale(1 1.045)" text-anchor="end">HAQ2</text><text transform="translate(269.9 2405.2) rotate(-90) scale(1 1.045)" text-anchor="end">HAQ8</text><text transform="translate(298.1 2405.2) rotate(-90) scale(1 1.045)" text-anchor="end">HAQ3</text><text transform="translate(326.3 2405.2) rotate(-90) scale(1 1.045)" text-anchor="end">HAQ7</text><text transform="translate(354.6 2405.2) rotate(-90) scale(1 1.045)" text-anchor="end">HAQ4</text><text transform="translate(382.8 2405.2) rotate(-90) scale(1 1.045)" text-anchor="end">mRSS</text><text transform="translate(411.0 2405.2) rotate(-90) scale(1 1.045)" text-anchor="end">HAQ5</text><text transform="translate(439.3 2405.2) rotate(-90) scale(1 1.045)" text-anchor="end">HAQ1</text><text transform="translate(467.5 2405.2) rotate(-90) scale(1 1.045)" text-anchor="end">HR</text><text transform="translate(495.7 2405.2) rotate(-90) scale(1 1.045)" text-anchor="end">IgM</text><text transform="translate(524.0 2405.2) rotate(-90) scale(1 1.045)" text-anchor="end">ATA</text><text transform="translate(552.2 2405.2) rotate(-90) scale(1 1.045)" text-anchor="end">IgG</text><text transform="translate(580.4 2405.2) rotate(-90) scale(1 1.045)" text-anchor="end">CD20</text><text transform="translate(608.7 2405.2) rotate(-90) scale(1 1.045)" text-anchor="end">CD19</text><text transform="translate(636.9 2405.2) rotate(-90) scale(1 1.045)" text-anchor="end">SPA</text><text transform="translate(665.1 2405.2) rotate(-90) scale(1 1.045)" text-anchor="end">KL6</text><text transform="translate(693.4 2405.2) rotate(-90) scale(1 1.045)" text-anchor="end">ILDsev</text><text transform="translate(721.6 2405.2) rotate(-90) scale(1 1.045)" text-anchor="end">ACA</text><text transform="translate(749.8 2405.2) rotate(-90) scale(1 1.045)" text-anchor="end">HAQ6</text><text transform="translate(778.0 2405.2) rotate(-90) scale(1 1.045)" text-anchor="end">Age</text><text transform="translate(806.3 2405.2) rotate(-90) scale(1 1.045)" text-anchor="end">DLco</text><text transform="translate(834.5 2405.2) rotate(-90) scale(1 1.045)" text-anchor="end">IgA</text><text transform="translate(862.7 2405.2) rotate(-90) scale(1 1.045)" text-anchor="end">Duration</text><text transform="translate(891.0 2405.2) rotate(-90) scale(1 1.045)" text-anchor="end">ARA</text><text transform="translate(919.2 2405.2) rotate(-90) scale(1 1.045)" text-anchor="end">Sex</text><text transform="translate(947.4 2405.2) rotate(-90) scale(1 1.045)" text-anchor="end">FVC</text><text transform="translate(975.7 2405.2) rotate(-90) scale(1 1.045)" text-anchor="end">RNP</text><text transform="translate(1003.9 2405.2) rotate(-90) scale(1 1.045)" text-anchor="end">BNP</text><text transform="translate(1032.1 2405.2) rotate(-90) scale(1 1.045)" text-anchor="end">ILD</text><text transform="translate(1060.4 2405.2) rotate(-90) scale(1 1.045)" text-anchor="end">SF36BP</text><text transform="translate(1088.6 2405.2) rotate(-90) scale(1 1.045)" text-anchor="end">SF36GH</text><text transform="translate(1116.8 2405.2) rotate(-90) scale(1 1.045)" text-anchor="end">SF36VT</text><text transform="translate(1145.1 2405.2) rotate(-90) scale(1 1.045)" text-anchor="end">SF36MH</text><text transform="translate(1173.3 2405.2) rotate(-90) scale(1 1.045)" text-anchor="end">SF36PF</text><text transform="translate(1201.5 2405.2) rotate(-90) scale(1 1.045)" text-anchor="end">SF35RP</text><text transform="translate(1229.8 2405.2) rotate(-90) scale(1 1.045)" text-anchor="end">SF36RE</text><text transform="translate(1258.0 2405.2) rotate(-90) scale(1 1.045)" text-anchor="end">SF36SF</text></g>
<g font-family="'Liberation Sans', sans-serif" font-size="22.7" fill="#000" stroke="#000" stroke-width="0.4"><text transform="translate(1269.3 1427.6) scale(1 1.045)">MEplum1</text><text transform="translate(1269.3 1444.3) scale(1 1.045)">MEgreen</text><text transform="translate(1269.3 1461.0) scale(1 1.045)">MEmaroon</text><text transform="translate(1269.3 1477.8) scale(1 1.045)">MEhoneydew1</text><text transform="translate(1269.3 1494.5) scale(1 1.045)">MEivory</text><text transform="translate(1269.3 1511.2) scale(1 1.045)">MElightcyan1</text><text transform="translate(1269.3 1527.9) scale(1 1.045)">MElightcyan</text><text transform="translate(1269.3 1544.7) scale(1 1.045)">MEthistle2</text><text transform="translate(1269.3 1561.4) scale(1 1.045)">MEorange</text><text transform="translate(1269.3 1578.1) scale(1 1.045)">MEdarkolivegreen</text><text transform="translate(1269.3 1594.9) scale(1 1.045)">MEplum2</text><text transform="translate(1269.3 1611.6) scale(1 1.045)">MEmediumpurple3</text><text transform="translate(1269.3 1628.3) scale(1 1.045)">MElightyellow</text><text transform="translate(1269.3 1645.0) scale(1 1.045)">MEdarkred</text><text transform="translate(1269.3 1661.8) scale(1 1.045)">MElightsteelblue1</text><text transform="translate(1269.3 1678.5) scale(1 1.045)">MEdarkorange2</text><text transform="translate(1269.3 1695.2) scale(1 1.045)">MEsalmon4</text><text transform="translate(1269.3 1712.0) scale(1 1.045)">MEpurple</text><text transform="translate(1269.3 1728.7) scale(1 1.045)">MEmagenta</text><text transform="translate(1269.3 1745.4) scale(1 1.045)">MEmidnightblue</text><text transform="translate(1269.3 1762.1) scale(1 1.045)">MEdarkturquoise</text><text transform="translate(1269.3 1778.9) scale(1 1.045)">MEdarkgreen</text><text transform="translate(1269.3 1795.6) scale(1 1.045)">MElavenderblush3</text><text transform="translate(1269.3 1812.3) scale(1 1.045)">MElightgreen</text><text transform="translate(1269.3 1829.1) scale(1 1.045)">MEthistle1</text><text transform="translate(1269.3 1845.8) scale(1 1.045)">MEgreenyellow</text><text transform="translate(1269.3 1862.5) scale(1 1.045)">MEbrown</text><text transform="translate(1269.3 1879.2) scale(1 1.045)">MEgrey</text><text transform="translate(1269.3 1896.0) scale(1 1.045)">MEturquoise</text><text transform="translate(1269.3 1912.7) scale(1 1.045)">MEsienna3</text><text transform="translate(1269.3 1929.4) scale(1 1.045)">MEgrey60</text><text transform="translate(1269.3 1946.2) scale(1 1.045)">MEpink</text><text transform="translate(1269.3 1962.9) scale(1 1.045)">MEblack</text><text transform="translate(1269.3 1979.6) scale(1 1.045)">MEdarkgrey</text><text transform="translate(1269.3 1996.3) scale(1 1.045)">MEnavajowhite2</text><text transform="translate(1269.3 2013.1) scale(1 1.045)">MEviolet</text><text transform="translate(1269.3 2029.8) scale(1 1.045)">MEdarkorange</text><text transform="translate(1269.3 2046.5) scale(1 1.045)">MEpalevioletred3</text><text transform="translate(1269.3 2063.3) scale(1 1.045)">MEyellowgreen</text><text transform="translate(1269.3 2080.0) scale(1 1.045)">MEdarkslateblue</text><text transform="translate(1269.3 2096.7) scale(1 1.045)">MElightpink4</text><text transform="translate(1269.3 2113.4) scale(1 1.045)">MEsalmon</text><text transform="translate(1269.3 2130.2) scale(1 1.045)">MEbrown4</text><text transform="translate(1269.3 2146.9) scale(1 1.045)">MEorangered4</text><text transform="translate(1269.3 2163.6) scale(1 1.045)">MEwhite</text><text transform="translate(1269.3 2180.4) scale(1 1.045)">MEpaleturquoise</text><text transform="translate(1269.3 2197.1) scale(1 1.045)">MEyellow</text><text transform="translate(1269.3 2213.8) scale(1 1.045)">MEcyan</text><text transform="translate(1269.3 2230.5) scale(1 1.045)">MEfloralwhite</text><text transform="translate(1269.3 2247.3) scale(1 1.045)">MEtan</text><text transform="translate(1269.3 2264.0) scale(1 1.045)">MEskyblue3</text><text transform="translate(1269.3 2280.7) scale(1 1.045)">MEdarkmagenta</text><text transform="translate(1269.3 2297.5) scale(1 1.045)">MEred</text><text transform="translate(1269.3 2314.2) scale(1 1.045)">MEblue</text><text transform="translate(1269.3 2330.9) scale(1 1.045)">MEroyalblue</text><text transform="translate(1269.3 2347.6) scale(1 1.045)">MEbisque4</text><text transform="translate(1269.3 2364.4) scale(1 1.045)">MEskyblue</text><text transform="translate(1269.3 2381.1) scale(1 1.045)">MEsteelblue</text><text transform="translate(1269.3 2397.8) scale(1 1.045)">MEsaddlebrown</text></g>
<path d="M205.2,1409.3V1399.4H233.4V1409.3M219.3,1399.4V1395.8H261.7V1409.3M289.9,1409.3V1397.0H318.1V1409.3M304.0,1397.0V1392.7H346.4V1409.3M402.8,1409.3V1394.9H431.1V1409.3M374.6,1409.3V1393.3H417.0V1394.9M325.2,1392.7V1390.3H395.8V1393.3M240.5,1395.8V1386.7H360.5V1390.3M487.5,1409.3V1388.8H515.8V1409.3M572.2,1409.3V1406.9H600.5V1409.3M544.0,1409.3V1392.7H586.3V1406.9M501.6,1388.8V1387.3H565.2V1392.7M459.3,1409.3V1384.9H533.4V1387.3M656.9,1409.3V1394.0H685.2V1409.3M628.7,1409.3V1389.7H671.0V1394.0M496.4,1384.9V1381.3H649.9V1389.7M741.6,1409.3V1391.8H769.8V1409.3M826.3,1409.3V1394.0H854.5V1409.3M798.1,1409.3V1388.8H840.4V1394.0M755.7,1391.8V1387.9H819.3V1388.8M713.4,1409.3V1382.8H787.5V1387.9M573.1,1381.3V1380.1H750.4V1382.8M300.5,1386.7V1371.6H661.8V1380.1M882.8,1409.3V1393.3H911.0V1409.3M896.9,1393.3V1388.8H939.2V1409.3M967.5,1409.3V1391.2H995.7V1409.3M918.1,1388.8V1384.3H981.6V1391.2M1052.2,1409.3V1394.9H1080.4V1409.3M1108.6,1409.3V1397.0H1136.9V1409.3M1193.3,1409.3V1399.4H1221.6V1409.3M1207.4,1399.4V1394.9H1249.8V1409.3M1165.1,1409.3V1392.4H1228.6V1394.9M1122.7,1397.0V1391.8H1196.9V1392.4M1066.3,1394.9V1390.3H1159.8V1391.8M1023.9,1409.3V1386.7H1113.0V1390.3M949.8,1384.3V1377.7H1068.5V1386.7M481.1,1371.6V1354.7H1009.2V1377.7" fill="none" stroke="#111" stroke-width="1.35" stroke-linejoin="miter"/>
<path d="M188.8,1486.6H181.3V1503.3H188.8M188.8,1469.9H176.5V1494.9H181.3M188.8,1520.0H179.2V1536.8H188.8M188.8,1553.5H181.3V1570.2H188.8M179.2,1528.4H176.1V1561.9H181.3M176.5,1482.4H174.4V1545.1H176.1M188.8,1453.1H172.4V1513.8H174.4M172.4,1483.4H170.9V1587.0H188.8M188.8,1603.7H173.6V1620.4H188.8M188.8,1637.1H180.7V1653.9H188.8M180.7,1645.5H178.6V1670.6H188.8M178.6,1658.1H176.1V1687.3H188.8M173.6,1612.0H170.9V1672.7H176.1M170.9,1535.2H167.8V1642.4H170.9M188.8,1436.4H163.6V1588.8H167.8M188.8,1704.1H170.9V1720.8H188.8M188.8,1737.5H171.9V1754.2H188.8M170.9,1712.4H169.5V1745.9H171.9M163.6,1512.6H159.5V1729.1H169.5M188.8,1804.4H180.3V1821.2H188.8M188.8,1787.7H174.4V1812.8H180.3M188.8,1837.9H183.4V1854.6H188.8M183.4,1846.2H178.2V1871.3H188.8M174.4,1800.2H170.9V1858.8H178.2M170.9,1829.5H164.1V1888.1H188.8M188.8,1771.0H161.6V1858.8H164.1M159.5,1620.9H155.7V1814.9H161.6M188.8,1419.7H143.5V1717.9H155.7M188.8,1904.8H150.8V1921.5H188.8M188.8,1955.0H175.1V1971.7H188.8M188.8,1938.3H162.6V1963.4H175.1M188.8,2021.9H170.9V2038.6H188.8M188.8,2005.2H168.8V2030.3H170.9M188.8,1988.4H164.7V2017.7H168.8M188.8,2055.4H173.6V2072.1H188.8M173.6,2063.7H167.8V2088.8H188.8M164.7,2003.1H163.6V2076.3H167.8M162.6,1950.8H158.4V2039.7H163.6M188.8,2105.5H163.6V2122.3H188.8M158.4,1995.2H156.4V2113.9H163.6M150.8,1913.2H147.0V2054.6H156.4M188.8,2155.7H168.8V2172.5H188.8M188.8,2139.0H164.1V2164.1H168.8M188.8,2189.2H169.5V2205.9H188.8M164.1,2151.6H162.6V2197.6H169.5M188.8,2256.1H171.9V2272.8H188.8M188.8,2239.4H169.5V2264.5H171.9M188.8,2222.6H164.7V2251.9H169.5M162.6,2174.6H158.4V2237.3H164.7M188.8,2289.6H175.7V2306.3H188.8M188.8,2323.0H168.2V2339.7H188.8M168.2,2331.4H165.3V2356.5H188.8M175.7,2297.9H164.7V2343.9H165.3M158.4,2205.9H157.8V2320.9H164.7M188.8,2373.2H171.9V2389.9H188.8M157.8,2263.4H150.1V2381.6H171.9M147.0,1983.9H142.4V2322.5H150.1M143.5,1568.8H135.0V2153.2H142.4" fill="none" stroke="#111" stroke-width="1.35" stroke-linejoin="miter"/>
<defs><linearGradient id="lg" x1="0" y1="0" x2="0" y2="1"><stop offset="0" stop-color="#ff1a14"/><stop offset="0.045" stop-color="#ff1a14"/><stop offset="0.275" stop-color="#f5868c"/><stop offset="0.44" stop-color="#ffffff"/><stop offset="0.505" stop-color="#d4d2fb"/><stop offset="0.735" stop-color="#2a10f8"/><stop offset="1" stop-color="#1a00ff"/></linearGradient></defs>
<rect x="1476.1" y="1859.3" width="23" height="114.8" fill="url(#lg)"/>
<path d="M1476.1,1864.3h4.6M1499.1,1864.3h-4.6" stroke="#fff" stroke-width="1.3"/><text x="1503" y="1870.9" font-size="19" font-family="'Liberation Sans', sans-serif">1</text><path d="M1476.1,1890.8h4.6M1499.1,1890.8h-4.6" stroke="#fff" stroke-width="1.3"/><text x="1503" y="1897.4" font-size="19" font-family="'Liberation Sans', sans-serif">0.5</text><path d="M1476.1,1917.0h4.6M1499.1,1917.0h-4.6" stroke="#fff" stroke-width="1.3"/><text x="1503" y="1923.6" font-size="19" font-family="'Liberation Sans', sans-serif">0</text><path d="M1476.1,1943.5h4.6M1499.1,1943.5h-4.6" stroke="#fff" stroke-width="1.3"/><text x="1503" y="1950.1" font-size="19" font-family="'Liberation Sans', sans-serif">-0.5</text><path d="M1476.1,1969.9h4.6M1499.1,1969.9h-4.6" stroke="#fff" stroke-width="1.3"/><text x="1503" y="1976.5" font-size="19" font-family="'Liberation Sans', sans-serif">-1</text>
<text x="1476.9" y="1850.3" font-size="18.9" font-weight="bold" font-family="'Liberation Sans', sans-serif">Correlation</text>
</g>
</svg>
</div>
</body></html>
